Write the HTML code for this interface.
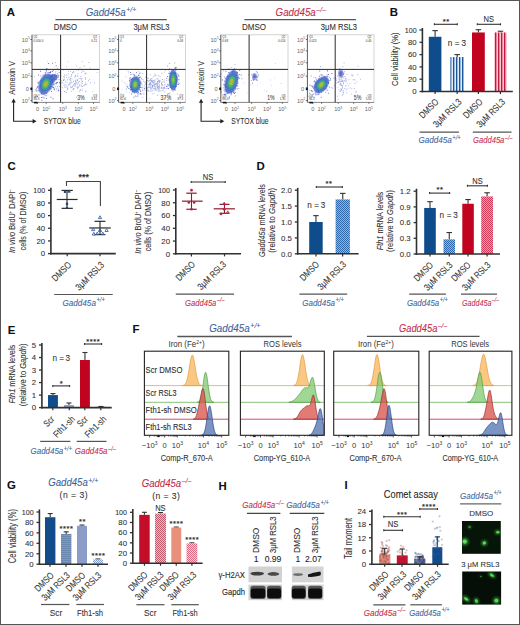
<!DOCTYPE html><html><head><meta charset="utf-8"><style>html,body{margin:0;padding:0;background:#fff;}svg{display:block;}text{font-family:"Liberation Sans", sans-serif;stroke-width:0.08px;}</style></head><body>
<svg width="520" height="625" viewBox="0 0 520 625" font-family="'Liberation Sans', sans-serif">

<defs>
 <pattern id="pStripeB" width="3" height="4" patternUnits="userSpaceOnUse">
  <rect width="3" height="4" fill="#9fc2e8"/>
  <rect x="0" width="1.1" height="4" fill="#1d5596"/>
  <rect x="2.3" width="0.7" height="4" fill="#ffffff"/>
 </pattern>
 <pattern id="pStripeR" width="3" height="4" patternUnits="userSpaceOnUse">
  <rect width="3" height="4" fill="#f27f98"/>
  <rect x="0" width="1.0" height="4" fill="#b3203f"/>
  <rect x="2.3" width="0.7" height="4" fill="#ffe8ee"/>
 </pattern>
 <pattern id="pCheckB" width="2" height="2" patternUnits="userSpaceOnUse">
  <rect width="2" height="2" fill="#94b4da"/>
  <rect width="1" height="1" fill="#2e68a8"/>
  <rect x="1" y="1" width="1" height="1" fill="#2e68a8"/>
 </pattern>
 <pattern id="pCheckR" width="2" height="2" patternUnits="userSpaceOnUse">
  <rect width="2" height="2" fill="#f0a0b0"/>
  <rect width="1" height="1" fill="#d23a5a"/>
  <rect x="1" y="1" width="1" height="1" fill="#d23a5a"/>
 </pattern>
 <pattern id="pHStripe" width="4" height="2" patternUnits="userSpaceOnUse">
  <rect width="4" height="2" fill="#6b89b1"/>
  <rect y="1.4" width="4" height="0.6" fill="#8aa2c4"/>
 </pattern>
 <pattern id="pCheckLB" width="2" height="2" patternUnits="userSpaceOnUse">
  <rect width="2" height="2" fill="#e4ecf6"/>
  <rect width="1" height="1" fill="#7d9cc8"/>
  <rect x="1" y="1" width="1" height="1" fill="#7d9cc8"/>
 </pattern>
 <pattern id="pCheckRose" width="2" height="2" patternUnits="userSpaceOnUse">
  <rect width="2" height="2" fill="#eebcc4"/>
  <rect width="1" height="1" fill="#c25a6e"/>
  <rect x="1" y="1" width="1" height="1" fill="#c25a6e"/>
 </pattern>
 <pattern id="pCheckPink" width="2" height="2" patternUnits="userSpaceOnUse">
  <rect width="2" height="2" fill="#f8d0d8"/>
  <rect width="1" height="1" fill="#e06a84"/>
  <rect x="1" y="1" width="1" height="1" fill="#e06a84"/>
 </pattern>
 <clipPath id="cimg"><rect x="462" y="521" width="38.8" height="32.8"/><rect x="462.2" y="571.5" width="38.9" height="33.1"/></clipPath>
 <filter id="blur1" x="-50%" y="-50%" width="200%" height="200%"><feGaussianBlur stdDeviation="1.2"/></filter>
 <filter id="blur06" x="-50%" y="-50%" width="200%" height="200%"><feGaussianBlur stdDeviation="0.6"/></filter>
 <filter id="blur2" x="-50%" y="-50%" width="200%" height="200%"><feGaussianBlur stdDeviation="2"/></filter>
</defs>

<rect x="0" y="0" width="520" height="625" fill="#fff"/>
<text x="6.8" y="16.4" font-size="11.4" text-anchor="start" fill="#111" stroke="#111" font-weight="bold" font-style="normal">A</text>
<text x="85.8" y="15.5" font-size="10.4" fill="#3a629a" stroke="#3a629a" font-style="italic" text-anchor="start" textLength="50.5" lengthAdjust="spacingAndGlyphs">Gadd45a<tspan font-size="7.49" dy="-3.74" dx="0.6">+/+</tspan></text>
<line x1="55.4" y1="19.6" x2="166.8" y2="19.6" stroke="#555" stroke-width="1.4"/>
<text x="53.8" y="29.9" font-size="9" text-anchor="start" fill="#303030" stroke="#303030" font-weight="normal" font-style="normal" textLength="23.2" lengthAdjust="spacingAndGlyphs">DMSO</text>
<text x="133.4" y="29.9" font-size="9" text-anchor="start" fill="#303030" stroke="#303030" font-weight="normal" font-style="normal" textLength="36" lengthAdjust="spacingAndGlyphs">3μM RSL3</text>
<text x="275.6" y="15.5" font-size="10.4" fill="#c42a48" stroke="#c42a48" font-style="italic" text-anchor="start" textLength="50.5" lengthAdjust="spacingAndGlyphs">Gadd45a<tspan font-size="7.49" dy="-3.74" dx="0.6">–/–</tspan></text>
<line x1="244.4" y1="19.6" x2="356" y2="19.6" stroke="#555" stroke-width="1.4"/>
<text x="242" y="29.9" font-size="9" text-anchor="start" fill="#303030" stroke="#303030" font-weight="normal" font-style="normal" textLength="24" lengthAdjust="spacingAndGlyphs">DMSO</text>
<text x="320.8" y="29.9" font-size="9" text-anchor="start" fill="#303030" stroke="#303030" font-weight="normal" font-style="normal" textLength="36.2" lengthAdjust="spacingAndGlyphs">3μM RSL3</text>
<rect x="32" y="34.8" width="67.6" height="67.6" fill="none" stroke="#c8c8c8" stroke-width="0.8"/>
<line x1="32" y1="34.8" x2="32" y2="102.4" stroke="#555" stroke-width="0.9"/>
<line x1="32" y1="102.4" x2="99.6" y2="102.4" stroke="#777" stroke-width="0.8"/>
<line x1="30.4" y1="39.5" x2="32" y2="39.5" stroke="#444" stroke-width="0.8"/>
<text x="29.8" y="41.5" font-size="5.6" fill="#666" text-anchor="end">10<tspan font-size="3.4" dy="-2.2">5</tspan></text>
<line x1="30.4" y1="50.9" x2="32" y2="50.9" stroke="#444" stroke-width="0.8"/>
<text x="29.8" y="52.9" font-size="5.6" fill="#666" text-anchor="end">10<tspan font-size="3.4" dy="-2.2">4</tspan></text>
<line x1="30.4" y1="62.8" x2="32" y2="62.8" stroke="#444" stroke-width="0.8"/>
<text x="29.8" y="64.8" font-size="5.6" fill="#666" text-anchor="end">10<tspan font-size="3.4" dy="-2.2">3</tspan></text>
<line x1="30.4" y1="76.2" x2="32" y2="76.2" stroke="#444" stroke-width="0.8"/>
<text x="29.8" y="78.2" font-size="5.6" fill="#666" text-anchor="end">10<tspan font-size="3.4" dy="-2.2">2</tspan></text>
<line x1="30.4" y1="88.8" x2="32" y2="88.8" stroke="#444" stroke-width="0.8"/>
<text x="28.8" y="90.8" font-size="5.6" fill="#666" text-anchor="end">0</text>
<line x1="30.4" y1="100.6" x2="32" y2="100.6" stroke="#444" stroke-width="0.8"/>
<text x="29.8" y="102.6" font-size="5.6" fill="#666" text-anchor="end">10<tspan font-size="3.4" dy="-2.2">2</tspan></text>
<rect x="30.5" y="87.5" width="1.8" height="2.6" fill="#111"/>
<line x1="37.5" y1="102.4" x2="37.5" y2="103.8" stroke="#444" stroke-width="0.8"/>
<text x="37.5" y="111.2" font-size="5.6" fill="#666" text-anchor="middle">0</text>
<line x1="46.2" y1="102.4" x2="46.2" y2="103.8" stroke="#444" stroke-width="0.8"/>
<text x="46.2" y="111.2" font-size="5.6" fill="#666" text-anchor="middle">10<tspan font-size="3.4" dy="-2.2">2</tspan></text>
<line x1="62.8" y1="102.4" x2="62.8" y2="103.8" stroke="#444" stroke-width="0.8"/>
<text x="62.8" y="111.2" font-size="5.6" fill="#666" text-anchor="middle">10<tspan font-size="3.4" dy="-2.2">3</tspan></text>
<line x1="78.3" y1="102.4" x2="78.3" y2="103.8" stroke="#444" stroke-width="0.8"/>
<text x="78.3" y="111.2" font-size="5.6" fill="#666" text-anchor="middle">10<tspan font-size="3.4" dy="-2.2">4</tspan></text>
<line x1="93.5" y1="102.4" x2="93.5" y2="103.8" stroke="#444" stroke-width="0.8"/>
<text x="93.5" y="111.2" font-size="5.6" fill="#666" text-anchor="middle">10<tspan font-size="3.4" dy="-2.2">5</tspan></text>
<rect x="34" y="101.8" width="3.5" height="1.6" fill="#111"/>
<g font-size="3.0" fill="#333">
<text x="33.5" y="38.4">Q1</text><text x="33.5" y="41.6">0.050 0</text>
<text x="97.1" y="38.4" text-anchor="end">Q2</text><text x="97.1" y="41.6" text-anchor="end">0.21</text>
<text x="33.5" y="97.2">Q4</text><text x="33.5" y="100.4">96.3</text>
<text x="97.1" y="97.2" text-anchor="end">Q3</text><text x="97.1" y="100.4" text-anchor="end">3.41</text>
</g>
<rect x="118.6" y="34.8" width="67" height="67.6" fill="none" stroke="#c8c8c8" stroke-width="0.8"/>
<line x1="118.6" y1="34.8" x2="118.6" y2="102.4" stroke="#555" stroke-width="0.9"/>
<line x1="118.6" y1="102.4" x2="185.6" y2="102.4" stroke="#777" stroke-width="0.8"/>
<line x1="117" y1="39.5" x2="118.6" y2="39.5" stroke="#444" stroke-width="0.8"/>
<text x="116.4" y="41.5" font-size="5.6" fill="#666" text-anchor="end">10<tspan font-size="3.4" dy="-2.2">5</tspan></text>
<line x1="117" y1="50.9" x2="118.6" y2="50.9" stroke="#444" stroke-width="0.8"/>
<text x="116.4" y="52.9" font-size="5.6" fill="#666" text-anchor="end">10<tspan font-size="3.4" dy="-2.2">4</tspan></text>
<line x1="117" y1="62.8" x2="118.6" y2="62.8" stroke="#444" stroke-width="0.8"/>
<text x="116.4" y="64.8" font-size="5.6" fill="#666" text-anchor="end">10<tspan font-size="3.4" dy="-2.2">3</tspan></text>
<line x1="117" y1="76.2" x2="118.6" y2="76.2" stroke="#444" stroke-width="0.8"/>
<text x="116.4" y="78.2" font-size="5.6" fill="#666" text-anchor="end">10<tspan font-size="3.4" dy="-2.2">2</tspan></text>
<line x1="117" y1="88.8" x2="118.6" y2="88.8" stroke="#444" stroke-width="0.8"/>
<text x="115.4" y="90.8" font-size="5.6" fill="#666" text-anchor="end">0</text>
<line x1="117" y1="100.6" x2="118.6" y2="100.6" stroke="#444" stroke-width="0.8"/>
<text x="116.4" y="102.6" font-size="5.6" fill="#666" text-anchor="end">10<tspan font-size="3.4" dy="-2.2">2</tspan></text>
<rect x="117.1" y="87.5" width="1.8" height="2.6" fill="#111"/>
<line x1="124.1" y1="102.4" x2="124.1" y2="103.8" stroke="#444" stroke-width="0.8"/>
<text x="124.1" y="111.2" font-size="5.6" fill="#666" text-anchor="middle">0</text>
<line x1="132.8" y1="102.4" x2="132.8" y2="103.8" stroke="#444" stroke-width="0.8"/>
<text x="132.8" y="111.2" font-size="5.6" fill="#666" text-anchor="middle">10<tspan font-size="3.4" dy="-2.2">2</tspan></text>
<line x1="149.4" y1="102.4" x2="149.4" y2="103.8" stroke="#444" stroke-width="0.8"/>
<text x="149.4" y="111.2" font-size="5.6" fill="#666" text-anchor="middle">10<tspan font-size="3.4" dy="-2.2">3</tspan></text>
<line x1="164.9" y1="102.4" x2="164.9" y2="103.8" stroke="#444" stroke-width="0.8"/>
<text x="164.9" y="111.2" font-size="5.6" fill="#666" text-anchor="middle">10<tspan font-size="3.4" dy="-2.2">4</tspan></text>
<line x1="180.1" y1="102.4" x2="180.1" y2="103.8" stroke="#444" stroke-width="0.8"/>
<text x="180.1" y="111.2" font-size="5.6" fill="#666" text-anchor="middle">10<tspan font-size="3.4" dy="-2.2">5</tspan></text>
<rect x="120.6" y="101.8" width="3.5" height="1.6" fill="#111"/>
<g font-size="3.0" fill="#333">
<text x="120.1" y="38.4">Q1</text><text x="120.1" y="41.6">0</text>
<text x="183.1" y="38.4" text-anchor="end">Q2</text><text x="183.1" y="41.6" text-anchor="end">0.08</text>
<text x="120.1" y="97.2">Q4</text><text x="120.1" y="100.4">62.6</text>
<text x="183.1" y="97.2" text-anchor="end">Q3</text><text x="183.1" y="100.4" text-anchor="end">37.3</text>
</g>
<rect x="220.8" y="34.8" width="67.2" height="67.6" fill="none" stroke="#c8c8c8" stroke-width="0.8"/>
<line x1="220.8" y1="34.8" x2="220.8" y2="102.4" stroke="#555" stroke-width="0.9"/>
<line x1="220.8" y1="102.4" x2="288" y2="102.4" stroke="#777" stroke-width="0.8"/>
<line x1="219.2" y1="39.5" x2="220.8" y2="39.5" stroke="#444" stroke-width="0.8"/>
<text x="218.6" y="41.5" font-size="5.6" fill="#666" text-anchor="end">10<tspan font-size="3.4" dy="-2.2">5</tspan></text>
<line x1="219.2" y1="50.9" x2="220.8" y2="50.9" stroke="#444" stroke-width="0.8"/>
<text x="218.6" y="52.9" font-size="5.6" fill="#666" text-anchor="end">10<tspan font-size="3.4" dy="-2.2">4</tspan></text>
<line x1="219.2" y1="62.8" x2="220.8" y2="62.8" stroke="#444" stroke-width="0.8"/>
<text x="218.6" y="64.8" font-size="5.6" fill="#666" text-anchor="end">10<tspan font-size="3.4" dy="-2.2">3</tspan></text>
<line x1="219.2" y1="76.2" x2="220.8" y2="76.2" stroke="#444" stroke-width="0.8"/>
<text x="218.6" y="78.2" font-size="5.6" fill="#666" text-anchor="end">10<tspan font-size="3.4" dy="-2.2">2</tspan></text>
<line x1="219.2" y1="88.8" x2="220.8" y2="88.8" stroke="#444" stroke-width="0.8"/>
<text x="217.6" y="90.8" font-size="5.6" fill="#666" text-anchor="end">0</text>
<line x1="219.2" y1="100.6" x2="220.8" y2="100.6" stroke="#444" stroke-width="0.8"/>
<text x="218.6" y="102.6" font-size="5.6" fill="#666" text-anchor="end">10<tspan font-size="3.4" dy="-2.2">2</tspan></text>
<rect x="219.3" y="87.5" width="1.8" height="2.6" fill="#111"/>
<line x1="226.3" y1="102.4" x2="226.3" y2="103.8" stroke="#444" stroke-width="0.8"/>
<text x="226.3" y="111.2" font-size="5.6" fill="#666" text-anchor="middle">0</text>
<line x1="235" y1="102.4" x2="235" y2="103.8" stroke="#444" stroke-width="0.8"/>
<text x="235" y="111.2" font-size="5.6" fill="#666" text-anchor="middle">10<tspan font-size="3.4" dy="-2.2">2</tspan></text>
<line x1="251.6" y1="102.4" x2="251.6" y2="103.8" stroke="#444" stroke-width="0.8"/>
<text x="251.6" y="111.2" font-size="5.6" fill="#666" text-anchor="middle">10<tspan font-size="3.4" dy="-2.2">3</tspan></text>
<line x1="267.1" y1="102.4" x2="267.1" y2="103.8" stroke="#444" stroke-width="0.8"/>
<text x="267.1" y="111.2" font-size="5.6" fill="#666" text-anchor="middle">10<tspan font-size="3.4" dy="-2.2">4</tspan></text>
<line x1="282.3" y1="102.4" x2="282.3" y2="103.8" stroke="#444" stroke-width="0.8"/>
<text x="282.3" y="111.2" font-size="5.6" fill="#666" text-anchor="middle">10<tspan font-size="3.4" dy="-2.2">5</tspan></text>
<rect x="222.8" y="101.8" width="3.5" height="1.6" fill="#111"/>
<g font-size="3.0" fill="#333">
<text x="222.3" y="38.4">Q1</text><text x="222.3" y="41.6">0.68</text>
<text x="285.5" y="38.4" text-anchor="end">Q2</text><text x="285.5" y="41.6" text-anchor="end">0.014</text>
<text x="222.3" y="97.2">Q4</text><text x="222.3" y="100.4">98.0</text>
<text x="285.5" y="97.2" text-anchor="end">Q3</text><text x="285.5" y="100.4" text-anchor="end">1.35</text>
</g>
<rect x="307.4" y="34.8" width="66.6" height="67.6" fill="none" stroke="#c8c8c8" stroke-width="0.8"/>
<line x1="307.4" y1="34.8" x2="307.4" y2="102.4" stroke="#555" stroke-width="0.9"/>
<line x1="307.4" y1="102.4" x2="374" y2="102.4" stroke="#777" stroke-width="0.8"/>
<line x1="305.8" y1="39.5" x2="307.4" y2="39.5" stroke="#444" stroke-width="0.8"/>
<text x="305.2" y="41.5" font-size="5.6" fill="#666" text-anchor="end">10<tspan font-size="3.4" dy="-2.2">5</tspan></text>
<line x1="305.8" y1="50.9" x2="307.4" y2="50.9" stroke="#444" stroke-width="0.8"/>
<text x="305.2" y="52.9" font-size="5.6" fill="#666" text-anchor="end">10<tspan font-size="3.4" dy="-2.2">4</tspan></text>
<line x1="305.8" y1="62.8" x2="307.4" y2="62.8" stroke="#444" stroke-width="0.8"/>
<text x="305.2" y="64.8" font-size="5.6" fill="#666" text-anchor="end">10<tspan font-size="3.4" dy="-2.2">3</tspan></text>
<line x1="305.8" y1="76.2" x2="307.4" y2="76.2" stroke="#444" stroke-width="0.8"/>
<text x="305.2" y="78.2" font-size="5.6" fill="#666" text-anchor="end">10<tspan font-size="3.4" dy="-2.2">2</tspan></text>
<line x1="305.8" y1="88.8" x2="307.4" y2="88.8" stroke="#444" stroke-width="0.8"/>
<text x="304.2" y="90.8" font-size="5.6" fill="#666" text-anchor="end">0</text>
<line x1="305.8" y1="100.6" x2="307.4" y2="100.6" stroke="#444" stroke-width="0.8"/>
<text x="305.2" y="102.6" font-size="5.6" fill="#666" text-anchor="end">10<tspan font-size="3.4" dy="-2.2">2</tspan></text>
<rect x="305.9" y="87.5" width="1.8" height="2.6" fill="#111"/>
<line x1="312.9" y1="102.4" x2="312.9" y2="103.8" stroke="#444" stroke-width="0.8"/>
<text x="312.9" y="111.2" font-size="5.6" fill="#666" text-anchor="middle">0</text>
<line x1="321.6" y1="102.4" x2="321.6" y2="103.8" stroke="#444" stroke-width="0.8"/>
<text x="321.6" y="111.2" font-size="5.6" fill="#666" text-anchor="middle">10<tspan font-size="3.4" dy="-2.2">2</tspan></text>
<line x1="338.2" y1="102.4" x2="338.2" y2="103.8" stroke="#444" stroke-width="0.8"/>
<text x="338.2" y="111.2" font-size="5.6" fill="#666" text-anchor="middle">10<tspan font-size="3.4" dy="-2.2">3</tspan></text>
<line x1="353.7" y1="102.4" x2="353.7" y2="103.8" stroke="#444" stroke-width="0.8"/>
<text x="353.7" y="111.2" font-size="5.6" fill="#666" text-anchor="middle">10<tspan font-size="3.4" dy="-2.2">4</tspan></text>
<line x1="368.9" y1="102.4" x2="368.9" y2="103.8" stroke="#444" stroke-width="0.8"/>
<text x="368.9" y="111.2" font-size="5.6" fill="#666" text-anchor="middle">10<tspan font-size="3.4" dy="-2.2">5</tspan></text>
<rect x="309.4" y="101.8" width="3.5" height="1.6" fill="#111"/>
<g font-size="3.0" fill="#333">
<text x="308.9" y="38.4">Q1</text><text x="308.9" y="41.6">0.023</text>
<text x="371.5" y="38.4" text-anchor="end">Q2</text><text x="371.5" y="41.6" text-anchor="end">0.40</text>
<text x="308.9" y="97.2">Q4</text><text x="308.9" y="100.4">94.5</text>
<text x="371.5" y="97.2" text-anchor="end">Q3</text><text x="371.5" y="100.4" text-anchor="end">5.02</text>
</g>
<path d="M69.7 83.58h0.9v0.9h-0.9zM69.97 77.79h0.9v0.9h-0.9zM63.63 78.51h0.9v0.9h-0.9zM82.01 82.97h0.9v0.9h-0.9zM81.33 81.74h0.9v0.9h-0.9zM75.55 81.3h0.9v0.9h-0.9zM57.01 85.99h0.9v0.9h-0.9zM76.56 83.49h0.9v0.9h-0.9zM56.78 67.79h0.9v0.9h-0.9zM63.99 76.72h0.9v0.9h-0.9zM74.75 79.68h0.9v0.9h-0.9zM76.69 75.5h0.9v0.9h-0.9zM74.78 82.76h0.9v0.9h-0.9zM66.05 92.02h0.9v0.9h-0.9zM77.01 88.38h0.9v0.9h-0.9zM66.42 74.82h0.9v0.9h-0.9zM68.9 79.26h0.9v0.9h-0.9zM77.69 81.74h0.9v0.9h-0.9zM67.97 73.3h0.9v0.9h-0.9zM67.31 88.55h0.9v0.9h-0.9zM64.73 81.71h0.9v0.9h-0.9zM75.84 69.57h0.9v0.9h-0.9zM72.44 89.14h0.9v0.9h-0.9zM53.87 77.75h0.9v0.9h-0.9zM71.04 74.28h0.9v0.9h-0.9zM76.48 79.56h0.9v0.9h-0.9zM58.82 85.79h0.9v0.9h-0.9zM78.02 86.62h0.9v0.9h-0.9zM84.97 82.54h0.9v0.9h-0.9zM73.07 70.91h0.9v0.9h-0.9zM77.54 75.72h0.9v0.9h-0.9zM67.93 71.15h0.9v0.9h-0.9zM63.29 76.28h0.9v0.9h-0.9zM83.6 65.78h0.9v0.9h-0.9zM58.88 81.68h0.9v0.9h-0.9zM84.99 84.05h0.9v0.9h-0.9zM54.9 62.37h0.9v0.9h-0.9zM75.22 74.85h0.9v0.9h-0.9zM61.92 86.84h0.9v0.9h-0.9zM81.92 81.1h0.9v0.9h-0.9zM74.21 83.04h0.9v0.9h-0.9zM86.35 84.33h0.9v0.9h-0.9zM76.67 83.83h0.9v0.9h-0.9zM57.89 88.97h0.9v0.9h-0.9zM80.6 83.71h0.9v0.9h-0.9zM54.24 75.56h0.9v0.9h-0.9zM79.58 67.32h0.9v0.9h-0.9zM70.34 87.14h0.9v0.9h-0.9zM60.2 91.27h0.9v0.9h-0.9zM76.97 78.95h0.9v0.9h-0.9zM74.92 84.55h0.9v0.9h-0.9zM73.08 88.02h0.9v0.9h-0.9zM66.05 77.1h0.9v0.9h-0.9zM81.38 80.19h0.9v0.9h-0.9zM64.08 86.63h0.9v0.9h-0.9zM85.19 76.89h0.9v0.9h-0.9zM59.58 79.06h0.9v0.9h-0.9zM70.66 77.91h0.9v0.9h-0.9zM84.64 72.81h0.9v0.9h-0.9zM83.35 71.12h0.9v0.9h-0.9zM64.92 84.42h0.9v0.9h-0.9zM82.16 86.01h0.9v0.9h-0.9zM75.11 81h0.9v0.9h-0.9zM73.37 84.03h0.9v0.9h-0.9zM70.41 81.94h0.9v0.9h-0.9zM77.15 80.01h0.9v0.9h-0.9zM78.88 83.96h0.9v0.9h-0.9zM90.1 82.27h0.9v0.9h-0.9zM68.15 77.39h0.9v0.9h-0.9zM71.88 86.47h0.9v0.9h-0.9zM68.97 82.7h0.9v0.9h-0.9zM88.54 62.05h0.9v0.9h-0.9zM61.88 81.71h0.9v0.9h-0.9zM75.59 81.67h0.9v0.9h-0.9zM68.12 84.59h0.9v0.9h-0.9zM74.54 76.35h0.9v0.9h-0.9zM93.87 82.49h0.9v0.9h-0.9zM67.01 79.3h0.9v0.9h-0.9zM69.97 79.56h0.9v0.9h-0.9zM47.45 76.59h0.9v0.9h-0.9zM81.08 71.82h0.9v0.9h-0.9zM71.4 86.67h0.9v0.9h-0.9zM79.71 90.44h0.9v0.9h-0.9zM56.69 77.53h0.9v0.9h-0.9zM68.93 84.36h0.9v0.9h-0.9zM81.83 61.22h0.9v0.9h-0.9zM81.8 69.87h0.9v0.9h-0.9zM78.15 69.56h0.9v0.9h-0.9zM73.58 88.36h0.9v0.9h-0.9zM70.66 81.34h0.9v0.9h-0.9zM79.17 80.99h0.9v0.9h-0.9zM71.2 90.73h0.9v0.9h-0.9zM81.44 77.94h0.9v0.9h-0.9zM96.71 71.97h0.9v0.9h-0.9zM80.23 78.14h0.9v0.9h-0.9zM73.19 84.94h0.9v0.9h-0.9zM74 84.47h0.9v0.9h-0.9zM58.25 69.43h0.9v0.9h-0.9zM77.53 73.26h0.9v0.9h-0.9zM62.76 69.71h0.9v0.9h-0.9zM83.4 85.23h0.9v0.9h-0.9zM85.26 73.44h0.9v0.9h-0.9zM72.01 72.02h0.9v0.9h-0.9zM78.89 91.13h0.9v0.9h-0.9zM63.99 90.92h0.9v0.9h-0.9zM80.89 78.76h0.9v0.9h-0.9zM54.25 89.85h0.9v0.9h-0.9zM71.13 75.78h0.9v0.9h-0.9zM75.6 82.87h0.9v0.9h-0.9zM85.48 72.86h0.9v0.9h-0.9zM82.23 90.41h0.9v0.9h-0.9zM85.07 78.74h0.9v0.9h-0.9zM65.3 87.13h0.9v0.9h-0.9zM73.04 80.87h0.9v0.9h-0.9zM84.82 78.16h0.9v0.9h-0.9zM51.33 77.29h0.9v0.9h-0.9zM55.31 85.73h0.9v0.9h-0.9zM74.85 75.72h0.9v0.9h-0.9zM71.91 85.83h0.9v0.9h-0.9zM72.71 89.29h0.9v0.9h-0.9zM71.45 87.28h0.9v0.9h-0.9zM85.42 91.27h0.9v0.9h-0.9zM65.95 86.16h0.9v0.9h-0.9zM55.12 72.42h0.9v0.9h-0.9zM54.33 87.48h0.9v0.9h-0.9zM60.91 79.91h0.9v0.9h-0.9zM70.27 79.8h0.9v0.9h-0.9zM66.68 81.64h0.9v0.9h-0.9zM88.12 80.31h0.9v0.9h-0.9zM76.78 87h0.9v0.9h-0.9zM70.22 71.18h0.9v0.9h-0.9zM67 87.52h0.9v0.9h-0.9zM57.18 75.82h0.9v0.9h-0.9zM81.07 85.55h0.9v0.9h-0.9zM72.07 85.64h0.9v0.9h-0.9zM73.49 71.75h0.9v0.9h-0.9zM57.92 75.53h0.9v0.9h-0.9zM80.3 76.04h0.9v0.9h-0.9zM63.88 74.6h0.9v0.9h-0.9zM58.21 79.18h0.9v0.9h-0.9zM61.38 82.55h0.9v0.9h-0.9zM50.76 82.29h0.9v0.9h-0.9zM66.23 66.4h0.9v0.9h-0.9zM78.52 78.07h0.9v0.9h-0.9zM51.93 73.87h0.9v0.9h-0.9zM74.62 76.79h0.9v0.9h-0.9zM79.02 85.23h0.9v0.9h-0.9zM78 82.29h0.9v0.9h-0.9zM84 84.62h0.9v0.9h-0.9zM76.06 65.41h0.9v0.9h-0.9zM80.07 89.17h0.9v0.9h-0.9zM69.33 76.71h0.9v0.9h-0.9zM89.46 67.69h0.9v0.9h-0.9zM76.22 96.97h0.9v0.9h-0.9zM63.65 84.83h0.9v0.9h-0.9zM88.98 79.16h0.9v0.9h-0.9zM77.05 86.32h0.9v0.9h-0.9zM63.85 79.38h0.9v0.9h-0.9zM74.64 85.78h0.9v0.9h-0.9zM71.69 78.63h0.9v0.9h-0.9z" fill="#5565c0" opacity="0.55"/>
<path d="M47.81 79.13h0.9v0.9h-0.9zM70.7 82.81h0.9v0.9h-0.9zM49.76 75.27h0.9v0.9h-0.9zM92 91.12h0.9v0.9h-0.9zM67.65 61.26h0.9v0.9h-0.9zM67.46 85.85h0.9v0.9h-0.9zM80.21 85.42h0.9v0.9h-0.9zM59.19 86.18h0.9v0.9h-0.9zM36.67 90.27h0.9v0.9h-0.9zM63.9 76.38h0.9v0.9h-0.9zM75.91 96.47h0.9v0.9h-0.9zM43.17 76.67h0.9v0.9h-0.9zM63.5 83.47h0.9v0.9h-0.9zM55.22 74.21h0.9v0.9h-0.9zM85.45 90.3h0.9v0.9h-0.9zM45.67 71.24h0.9v0.9h-0.9zM80.44 89.91h0.9v0.9h-0.9zM81.85 88.48h0.9v0.9h-0.9zM49.54 84.09h0.9v0.9h-0.9zM34.08 76.02h0.9v0.9h-0.9zM59.29 86.18h0.9v0.9h-0.9zM51.27 81.01h0.9v0.9h-0.9zM65.5 85.01h0.9v0.9h-0.9zM67.66 83.67h0.9v0.9h-0.9zM56.11 88.31h0.9v0.9h-0.9zM60.59 75.39h0.9v0.9h-0.9zM52.49 82h0.9v0.9h-0.9zM58.68 83.26h0.9v0.9h-0.9zM59.99 83.41h0.9v0.9h-0.9zM58.39 71.93h0.9v0.9h-0.9zM65.06 90.43h0.9v0.9h-0.9zM65.22 80.49h0.9v0.9h-0.9zM65.36 74.27h0.9v0.9h-0.9zM37.25 82.48h0.9v0.9h-0.9zM48.83 87.92h0.9v0.9h-0.9zM46.99 60.97h0.9v0.9h-0.9zM47.53 94.62h0.9v0.9h-0.9zM55.42 71.04h0.9v0.9h-0.9zM50.84 86.17h0.9v0.9h-0.9zM65.96 83.41h0.9v0.9h-0.9zM77.81 87.65h0.9v0.9h-0.9zM59.75 86.77h0.9v0.9h-0.9zM79.86 89.77h0.9v0.9h-0.9zM72.29 73.34h0.9v0.9h-0.9zM58.22 87.84h0.9v0.9h-0.9zM56.44 90.55h0.9v0.9h-0.9zM67.16 89.27h0.9v0.9h-0.9zM74.88 80.28h0.9v0.9h-0.9zM55.88 88.99h0.9v0.9h-0.9zM71.77 82.05h0.9v0.9h-0.9zM45.99 83.5h0.9v0.9h-0.9zM64.31 91.04h0.9v0.9h-0.9zM69.39 82.19h0.9v0.9h-0.9zM70.24 86.32h0.9v0.9h-0.9zM62.47 82.44h0.9v0.9h-0.9zM57.08 87.49h0.9v0.9h-0.9zM47.35 76.97h0.9v0.9h-0.9zM60.06 70.29h0.9v0.9h-0.9z" fill="#8090d0" opacity="0.45"/>
<path d="M46.38 67.94h1v1h-1zM44.9 85.98h1v1h-1zM52.4 81.62h1v1h-1zM47.61 72.08h1v1h-1zM59.97 85.61h1v1h-1zM55.56 75.82h1v1h-1zM47.89 69.26h1v1h-1zM53.68 88.55h1v1h-1zM37.62 81.64h1v1h-1zM52.78 69.67h1v1h-1zM38.05 74.54h1v1h-1zM45.22 72.18h1v1h-1zM49.19 83.75h1v1h-1zM52.8 86.91h1v1h-1zM58.02 90.15h1v1h-1zM41.13 78.46h1v1h-1zM42.64 74.46h1v1h-1zM48.51 82.04h1v1h-1zM51.94 70.89h1v1h-1zM41.57 81.84h1v1h-1zM47.8 79.82h1v1h-1zM48.62 76.68h1v1h-1zM53.21 84.48h1v1h-1zM48.47 77.3h1v1h-1zM47.95 62.95h1v1h-1zM43.11 82.26h1v1h-1zM39.98 83.4h1v1h-1zM49.88 72.36h1v1h-1zM47.5 79.8h1v1h-1zM51.76 86.28h1v1h-1zM48.78 76.04h1v1h-1zM48.13 81.54h1v1h-1zM53.41 84.06h1v1h-1zM44.66 72.52h1v1h-1zM46.76 76.82h1v1h-1zM42.33 81.19h1v1h-1zM46.05 82.74h1v1h-1zM52.14 79.11h1v1h-1zM62.95 79.75h1v1h-1zM55.61 82.85h1v1h-1zM55.7 65.37h1v1h-1zM44.49 83.73h1v1h-1zM52.61 98.36h1v1h-1zM50.94 90.96h1v1h-1zM53.6 88.63h1v1h-1zM52.06 80.91h1v1h-1zM52.05 74.45h1v1h-1zM56.09 74.88h1v1h-1zM50.5 96.85h1v1h-1zM47.66 82.14h1v1h-1zM55.98 82.18h1v1h-1zM44.15 83.81h1v1h-1zM52.49 86.97h1v1h-1zM44.36 94.27h1v1h-1zM59 82.13h1v1h-1zM50.61 79h1v1h-1zM57.48 77.07h1v1h-1zM53.04 78.64h1v1h-1zM44.84 87.03h1v1h-1zM57 81.93h1v1h-1zM44.94 87.68h1v1h-1zM48.7 84.17h1v1h-1zM58.14 89.92h1v1h-1zM45.88 97.99h1v1h-1zM49.02 87.5h1v1h-1zM45.12 81.69h1v1h-1zM38.5 94.51h1v1h-1zM57.19 73.49h1v1h-1zM39.97 70.65h1v1h-1zM56.05 78.78h1v1h-1zM48.64 79.81h1v1h-1zM48.27 74.38h1v1h-1zM49.14 71.93h1v1h-1zM48.57 84.16h1v1h-1zM51.81 80.38h1v1h-1zM43.58 83.12h1v1h-1zM46.09 92.96h1v1h-1zM53.61 81.19h1v1h-1zM46.17 77.08h1v1h-1zM43.38 79.53h1v1h-1z" fill="#4050c0" opacity="0.8"/>
<g transform="translate(52.5 78.5) rotate(-35)" filter="url(#blur06)">
<ellipse cx="0" cy="0" rx="5.5" ry="3.5" fill="#4a5cc8" opacity="0.85"/>
<ellipse cx="0" cy="0" rx="3.3" ry="2.1" fill="#3f86c8" opacity="0.7"/>
</g>
<path d="M45.16 86.96h1v1h-1zM42.42 96.65h1v1h-1zM42.68 82.53h1v1h-1zM59.98 76.7h1v1h-1zM42.98 83.72h1v1h-1zM44.9 86.12h1v1h-1zM43.56 85.29h1v1h-1zM43.67 88.1h1v1h-1zM40.45 75.5h1v1h-1zM47.74 77.45h1v1h-1zM39.98 85.63h1v1h-1zM41.41 86.26h1v1h-1zM47.31 86.4h1v1h-1zM47.41 83.64h1v1h-1zM40.2 81.23h1v1h-1zM48.22 81.07h1v1h-1zM43.16 87.75h1v1h-1zM40.56 85.95h1v1h-1zM53.45 83.01h1v1h-1zM46.19 82.84h1v1h-1zM50.21 87.64h1v1h-1zM50.23 80.78h1v1h-1zM45.26 83.42h1v1h-1zM35.37 89.32h1v1h-1zM52.75 74.58h1v1h-1zM48.34 83.84h1v1h-1zM46.08 86.31h1v1h-1zM40.3 80.03h1v1h-1zM52.14 82.34h1v1h-1zM44.77 74.01h1v1h-1zM40.02 83.66h1v1h-1zM50.5 88.53h1v1h-1zM40.91 96.96h1v1h-1zM44.99 78.78h1v1h-1zM45.94 87.5h1v1h-1zM44.35 75.13h1v1h-1zM45.78 85.38h1v1h-1zM40.98 80.38h1v1h-1zM42.22 85.39h1v1h-1zM45.08 82.82h1v1h-1zM41.51 89.15h1v1h-1zM51.28 83.41h1v1h-1zM50.2 80.31h1v1h-1zM43.79 88h1v1h-1zM51.77 83.5h1v1h-1zM44.56 84.54h1v1h-1zM39.76 81.37h1v1h-1zM41.94 84.68h1v1h-1zM45.84 70.23h1v1h-1zM44.82 85.09h1v1h-1zM41.18 87.9h1v1h-1zM45.73 79.54h1v1h-1zM50.77 75.01h1v1h-1zM42.86 82.37h1v1h-1zM48.8 83.81h1v1h-1zM47.99 80.11h1v1h-1zM42.47 93.7h1v1h-1zM37.17 96.36h1v1h-1zM42.9 82.65h1v1h-1zM43.51 89.76h1v1h-1zM45.74 69.35h1v1h-1zM45.64 89.06h1v1h-1zM41.36 99.85h1v1h-1zM45.45 85.29h1v1h-1zM47.84 87.04h1v1h-1zM54.34 78.71h1v1h-1zM52.08 62.74h1v1h-1zM49.17 82.52h1v1h-1zM43.59 97.5h1v1h-1zM45.88 82h1v1h-1zM45.45 77.85h1v1h-1zM41.47 86.31h1v1h-1zM45.28 83.94h1v1h-1zM42.5 88.61h1v1h-1zM47.45 83.4h1v1h-1zM48.1 83.6h1v1h-1zM37.62 90.32h1v1h-1zM49.28 78.58h1v1h-1zM48.44 87.12h1v1h-1zM35.74 90.62h1v1h-1zM44.41 89.22h1v1h-1zM46.38 82.92h1v1h-1zM37.31 86.9h1v1h-1zM46.09 81.86h1v1h-1zM46.4 84.48h1v1h-1zM48.66 82.33h1v1h-1zM50.23 70.9h1v1h-1zM42.14 86.83h1v1h-1zM51.07 83.35h1v1h-1zM41.1 92.61h1v1h-1zM42.36 87.32h1v1h-1zM51.37 86.22h1v1h-1zM51.49 81.15h1v1h-1zM46.25 83.35h1v1h-1zM43.05 90.3h1v1h-1zM55.65 83.14h1v1h-1zM42.01 85.56h1v1h-1zM40.25 84.85h1v1h-1zM48.06 82.72h1v1h-1zM50.92 75.2h1v1h-1zM51.75 75.57h1v1h-1zM44.06 79.21h1v1h-1zM41.79 87.94h1v1h-1zM46.54 81.29h1v1h-1zM43.55 93.58h1v1h-1zM44.46 85.65h1v1h-1zM49.22 86.91h1v1h-1zM34.69 96.2h1v1h-1zM58.11 75.14h1v1h-1zM44.17 85.89h1v1h-1zM47.26 88.86h1v1h-1zM46.8 76.92h1v1h-1zM43.23 89.71h1v1h-1zM43.73 75.86h1v1h-1zM49.8 72.1h1v1h-1zM45.38 80.55h1v1h-1zM48.62 80.05h1v1h-1zM43 79.88h1v1h-1zM46.69 79.53h1v1h-1zM43.57 87.92h1v1h-1zM45.61 95.26h1v1h-1zM43.42 79.88h1v1h-1zM31.68 90.96h1v1h-1zM42.72 82.23h1v1h-1zM50.44 76.31h1v1h-1zM47.07 84.03h1v1h-1zM37.9 82.5h1v1h-1zM54.11 74.32h1v1h-1zM47.77 85.92h1v1h-1zM46 86.79h1v1h-1zM50.62 84.12h1v1h-1zM49.48 82.39h1v1h-1zM49.9 79.81h1v1h-1zM40.8 93.49h1v1h-1zM47.31 83.23h1v1h-1zM42.97 77.17h1v1h-1zM43.79 89.3h1v1h-1zM45.62 87.21h1v1h-1zM41.94 91.37h1v1h-1zM45.17 79.7h1v1h-1zM48.41 85.19h1v1h-1zM45.64 79.71h1v1h-1zM42.88 86.78h1v1h-1zM49.46 76.93h1v1h-1zM46.44 85.18h1v1h-1zM39.8 86.55h1v1h-1zM45.07 81.12h1v1h-1zM45.09 92.43h1v1h-1zM41.73 85.05h1v1h-1zM36.6 95.77h1v1h-1zM40.66 89.78h1v1h-1zM41 87.3h1v1h-1zM59.47 71.89h1v1h-1zM42.52 85.79h1v1h-1zM46.54 79.44h1v1h-1zM53.01 87.16h1v1h-1zM37.24 86.07h1v1h-1zM36.25 87.7h1v1h-1zM42.84 83.49h1v1h-1zM49.65 86.06h1v1h-1z" fill="#3f4fc0" opacity="0.75"/>
<g transform="translate(45.8 84) rotate(22)" filter="url(#blur06)">
<ellipse cx="0" cy="0" rx="6.84" ry="10.92" fill="#4a5cc8" opacity="0.8"/>
<ellipse cx="0" cy="0" rx="5.18" ry="8.28" fill="#3b78c4" opacity="0.9"/>
<ellipse cx="0" cy="0" rx="3.96" ry="6.33" fill="#38a0a0" opacity="0.95"/>
<ellipse cx="0" cy="0" rx="2.88" ry="4.6" fill="#5cb854" opacity="1"/>
<ellipse cx="0" cy="0" rx="1.73" ry="2.76" fill="#b8c234" opacity="1"/>
<ellipse cx="0" cy="0" rx="0.79" ry="1.26" fill="#d8a024" opacity="1"/>
</g>
<path d="M145.87 75.52h0.9v0.9h-0.9zM166.46 87.7h0.9v0.9h-0.9zM150.47 88.3h0.9v0.9h-0.9zM160.97 87.24h0.9v0.9h-0.9zM138.93 82.49h0.9v0.9h-0.9zM164.2 87.67h0.9v0.9h-0.9zM164.05 71.71h0.9v0.9h-0.9zM158.35 86.46h0.9v0.9h-0.9zM177.42 79.23h0.9v0.9h-0.9zM154.37 84.18h0.9v0.9h-0.9zM164.09 81.78h0.9v0.9h-0.9zM166.18 80.06h0.9v0.9h-0.9zM159.13 81.36h0.9v0.9h-0.9zM158.27 80.55h0.9v0.9h-0.9zM144.22 89.47h0.9v0.9h-0.9zM159.43 81.21h0.9v0.9h-0.9zM158.61 88.95h0.9v0.9h-0.9zM149.18 83.45h0.9v0.9h-0.9zM161.31 86.63h0.9v0.9h-0.9zM154.32 73.47h0.9v0.9h-0.9zM166.94 85.64h0.9v0.9h-0.9zM157.1 82.61h0.9v0.9h-0.9zM159.11 81.87h0.9v0.9h-0.9zM148.8 80.3h0.9v0.9h-0.9zM152.23 80.94h0.9v0.9h-0.9zM147.73 87.18h0.9v0.9h-0.9zM146.52 87.3h0.9v0.9h-0.9zM148.88 85.76h0.9v0.9h-0.9zM167.99 85.02h0.9v0.9h-0.9zM151.15 84.24h0.9v0.9h-0.9zM158.19 75.33h0.9v0.9h-0.9zM152.14 84.82h0.9v0.9h-0.9zM153.25 84.4h0.9v0.9h-0.9zM162.87 87.83h0.9v0.9h-0.9zM164.25 86.94h0.9v0.9h-0.9zM154.7 83.91h0.9v0.9h-0.9zM154.83 82.43h0.9v0.9h-0.9zM155.56 75.38h0.9v0.9h-0.9zM154.33 83.88h0.9v0.9h-0.9zM149.21 83.88h0.9v0.9h-0.9zM161.12 83.18h0.9v0.9h-0.9zM173.61 70.97h0.9v0.9h-0.9zM155.35 74.87h0.9v0.9h-0.9zM164.84 97.27h0.9v0.9h-0.9zM136.98 84.64h0.9v0.9h-0.9zM161.15 82.49h0.9v0.9h-0.9zM161.41 72.79h0.9v0.9h-0.9zM163.82 85.86h0.9v0.9h-0.9zM157.18 81.06h0.9v0.9h-0.9zM162.11 81.57h0.9v0.9h-0.9zM158.78 81.45h0.9v0.9h-0.9zM139.03 83.84h0.9v0.9h-0.9zM158.62 87.77h0.9v0.9h-0.9zM149.99 83.83h0.9v0.9h-0.9zM161.94 84.73h0.9v0.9h-0.9zM166.94 93.96h0.9v0.9h-0.9zM149.73 74.4h0.9v0.9h-0.9zM163.85 91.65h0.9v0.9h-0.9zM164.38 88.07h0.9v0.9h-0.9zM152.05 80.43h0.9v0.9h-0.9zM164.11 79.44h0.9v0.9h-0.9zM142.49 79.01h0.9v0.9h-0.9zM176.94 93.62h0.9v0.9h-0.9zM151.51 80.36h0.9v0.9h-0.9zM158.85 80.25h0.9v0.9h-0.9zM167.48 83.61h0.9v0.9h-0.9zM148.31 90.54h0.9v0.9h-0.9zM152.33 85.11h0.9v0.9h-0.9zM156.9 82.43h0.9v0.9h-0.9zM159.6 80.54h0.9v0.9h-0.9zM142.24 72.96h0.9v0.9h-0.9zM146.87 80.21h0.9v0.9h-0.9zM156.82 84.28h0.9v0.9h-0.9zM161.45 84.6h0.9v0.9h-0.9zM150.65 80.46h0.9v0.9h-0.9zM140.05 83.15h0.9v0.9h-0.9zM160.88 86.65h0.9v0.9h-0.9zM156.03 83.13h0.9v0.9h-0.9zM164.49 84.08h0.9v0.9h-0.9zM162.9 86.91h0.9v0.9h-0.9zM158.71 90.53h0.9v0.9h-0.9zM152.42 82.21h0.9v0.9h-0.9zM150.54 80.01h0.9v0.9h-0.9zM169.45 92.8h0.9v0.9h-0.9zM157.18 86.84h0.9v0.9h-0.9zM166.4 88.04h0.9v0.9h-0.9zM166.64 77.69h0.9v0.9h-0.9zM151.88 86.26h0.9v0.9h-0.9zM168.48 84.52h0.9v0.9h-0.9zM150.13 82.23h0.9v0.9h-0.9zM151.72 79.71h0.9v0.9h-0.9zM169.01 80.87h0.9v0.9h-0.9zM157.16 94.81h0.9v0.9h-0.9zM166.48 85.68h0.9v0.9h-0.9zM152.1 86.05h0.9v0.9h-0.9zM169.97 87.12h0.9v0.9h-0.9zM167.09 84.49h0.9v0.9h-0.9zM161.13 83h0.9v0.9h-0.9zM160.42 90.5h0.9v0.9h-0.9zM145.55 83.69h0.9v0.9h-0.9zM158.92 81.14h0.9v0.9h-0.9zM154.54 87.93h0.9v0.9h-0.9zM173.01 87.15h0.9v0.9h-0.9zM159.61 76.24h0.9v0.9h-0.9zM172.42 84.38h0.9v0.9h-0.9zM156.73 78.41h0.9v0.9h-0.9zM156.55 78.52h0.9v0.9h-0.9zM157.57 86.33h0.9v0.9h-0.9zM157.25 85.4h0.9v0.9h-0.9zM150.19 91.15h0.9v0.9h-0.9z" fill="#5565c0" opacity="0.55"/>
<path d="M149.73 78.64h1v1h-1zM152.06 82.33h1v1h-1zM147.95 83.76h1v1h-1zM154.46 80.86h1v1h-1zM152.31 89.99h1v1h-1zM156.41 84.47h1v1h-1zM153.64 84.58h1v1h-1zM152.76 87.56h1v1h-1zM152.54 76.58h1v1h-1zM152.89 81.89h1v1h-1zM156.26 82.86h1v1h-1zM153.74 92.62h1v1h-1zM147.77 81.06h1v1h-1zM145.94 76.62h1v1h-1zM143.61 86.28h1v1h-1zM149.81 78.46h1v1h-1zM145.59 87.16h1v1h-1zM149.12 83.72h1v1h-1zM154.65 89.75h1v1h-1zM162.71 88.61h1v1h-1zM153.72 85.64h1v1h-1zM162.01 90h1v1h-1zM151.45 86.6h1v1h-1zM154.43 85.18h1v1h-1zM150.5 80.36h1v1h-1zM150.33 79.6h1v1h-1zM159.12 86.88h1v1h-1zM146.97 89.89h1v1h-1zM157.46 78.32h1v1h-1zM162.21 87.83h1v1h-1zM163.32 80.69h1v1h-1zM155.65 86.48h1v1h-1zM154.01 85.6h1v1h-1zM158.27 79.77h1v1h-1zM146.79 80.12h1v1h-1zM150.21 82.88h1v1h-1zM154.84 85.93h1v1h-1zM153.16 82.63h1v1h-1zM150.79 88.33h1v1h-1zM156.82 85.35h1v1h-1zM151.39 90.44h1v1h-1zM150.03 87.27h1v1h-1zM158.77 84.07h1v1h-1zM157.13 81.1h1v1h-1zM158.06 85.7h1v1h-1zM145.07 87.34h1v1h-1zM148.54 89.49h1v1h-1zM149.61 84.42h1v1h-1zM154.41 83.84h1v1h-1zM154.3 83.06h1v1h-1zM156.36 85.02h1v1h-1zM154.06 75.37h1v1h-1zM158.81 85.11h1v1h-1zM144.09 85.33h1v1h-1zM155.34 88.75h1v1h-1zM147.59 90.41h1v1h-1zM152.2 93.38h1v1h-1zM152.27 87.38h1v1h-1zM151.17 81.09h1v1h-1zM158.48 88.17h1v1h-1zM160.69 88h1v1h-1zM150.13 79.18h1v1h-1zM149.75 82.64h1v1h-1zM148.92 87.04h1v1h-1zM154.64 84.06h1v1h-1zM153.86 84.49h1v1h-1zM154.06 87.63h1v1h-1zM157.8 82.6h1v1h-1zM145.47 90h1v1h-1zM153.57 88.87h1v1h-1zM144.78 83.85h1v1h-1zM153.14 79.95h1v1h-1zM150.42 87.54h1v1h-1zM158.39 90.58h1v1h-1zM148.68 80.1h1v1h-1zM155.6 88.29h1v1h-1zM153.97 80.44h1v1h-1zM156.91 87.77h1v1h-1zM155.77 83.3h1v1h-1zM154.52 87.77h1v1h-1zM150.21 78.55h1v1h-1zM154.64 86.68h1v1h-1zM153.07 88.11h1v1h-1zM150.07 84.71h1v1h-1zM151.47 87h1v1h-1zM160.98 84.12h1v1h-1zM163.27 90.35h1v1h-1zM156.95 87.05h1v1h-1zM161.85 84.37h1v1h-1zM152.44 81.28h1v1h-1zM155.36 89.71h1v1h-1zM155.66 86.48h1v1h-1zM152 85.59h1v1h-1zM145.87 88.67h1v1h-1zM150.95 81.13h1v1h-1zM149.24 82.11h1v1h-1zM157.28 88.7h1v1h-1zM146.21 88.24h1v1h-1zM157.44 82.97h1v1h-1zM145.57 82.39h1v1h-1zM149.83 86.2h1v1h-1zM151.21 77.9h1v1h-1zM154.17 79.63h1v1h-1zM157.53 80.78h1v1h-1zM149.54 82.01h1v1h-1zM150.29 89.54h1v1h-1zM157.26 87.11h1v1h-1zM154.6 79.58h1v1h-1zM150.4 83.07h1v1h-1zM148.11 86.78h1v1h-1zM149.29 82.52h1v1h-1zM147.78 77.8h1v1h-1zM155.98 89.66h1v1h-1zM153.87 81.58h1v1h-1zM139.47 85.61h1v1h-1zM159.08 86.04h1v1h-1zM157.64 90.17h1v1h-1zM158.63 83.46h1v1h-1zM158.26 87.71h1v1h-1zM145.31 83.58h1v1h-1z" fill="#7484cc" opacity="0.5"/>
<path d="M125.03 83.24h0.9v0.9h-0.9zM139.05 76.52h0.9v0.9h-0.9zM120.61 93.09h0.9v0.9h-0.9zM137.64 94.3h0.9v0.9h-0.9zM125.73 91.42h0.9v0.9h-0.9zM149.52 98.05h0.9v0.9h-0.9zM133.53 85.88h0.9v0.9h-0.9zM133.92 90.99h0.9v0.9h-0.9zM142.26 84.61h0.9v0.9h-0.9zM125.49 89.19h0.9v0.9h-0.9zM131.71 88.4h0.9v0.9h-0.9zM136.84 95.37h0.9v0.9h-0.9zM142.96 80.84h0.9v0.9h-0.9zM137.44 96.35h0.9v0.9h-0.9zM131.24 87.03h0.9v0.9h-0.9zM143.34 92.8h0.9v0.9h-0.9zM138.63 74.76h0.9v0.9h-0.9zM126.17 85.73h0.9v0.9h-0.9zM137.71 101.83h0.9v0.9h-0.9zM128.97 91.96h0.9v0.9h-0.9zM140.39 72.3h0.9v0.9h-0.9zM129.27 85.16h0.9v0.9h-0.9zM131.55 82.92h0.9v0.9h-0.9zM138.29 78.33h0.9v0.9h-0.9zM138.26 79.55h0.9v0.9h-0.9zM131.19 87.76h0.9v0.9h-0.9zM130.99 86.01h0.9v0.9h-0.9zM146.2 84.19h0.9v0.9h-0.9zM133.98 89.15h0.9v0.9h-0.9zM132.44 91.58h0.9v0.9h-0.9zM126.02 88.33h0.9v0.9h-0.9zM131.42 78.41h0.9v0.9h-0.9zM147.39 78.05h0.9v0.9h-0.9zM147.3 88.61h0.9v0.9h-0.9zM145.17 77.16h0.9v0.9h-0.9zM143.39 94.2h0.9v0.9h-0.9zM134.19 83.1h0.9v0.9h-0.9zM152.19 85.24h0.9v0.9h-0.9zM132.04 79.59h0.9v0.9h-0.9zM138.12 86.31h0.9v0.9h-0.9zM136.24 96.05h0.9v0.9h-0.9zM132.71 87.31h0.9v0.9h-0.9zM145.21 76.97h0.9v0.9h-0.9zM142.27 96.82h0.9v0.9h-0.9zM125.52 76.32h0.9v0.9h-0.9zM127.73 71.08h0.9v0.9h-0.9zM138.17 71.01h0.9v0.9h-0.9zM138.49 94.17h0.9v0.9h-0.9zM123.69 81.78h0.9v0.9h-0.9zM121.57 89.45h0.9v0.9h-0.9zM129.84 82.14h0.9v0.9h-0.9zM135.38 87.82h0.9v0.9h-0.9zM132.57 84.11h0.9v0.9h-0.9zM131.17 84.8h0.9v0.9h-0.9zM126.79 84.45h0.9v0.9h-0.9zM121.47 80.57h0.9v0.9h-0.9zM148.41 84.56h0.9v0.9h-0.9zM126.18 85.8h0.9v0.9h-0.9zM128.19 72.44h0.9v0.9h-0.9zM129.84 89.16h0.9v0.9h-0.9z" fill="#7080d0" opacity="0.5"/>
<path d="M174.54 79.22h0.9v0.9h-0.9zM169.29 71.37h0.9v0.9h-0.9zM178.4 81.96h0.9v0.9h-0.9zM169.19 63.11h0.9v0.9h-0.9zM167.52 99.8h0.9v0.9h-0.9zM168.4 79.39h0.9v0.9h-0.9zM173.84 78.74h0.9v0.9h-0.9zM171.89 69.01h0.9v0.9h-0.9zM168.8 93.51h0.9v0.9h-0.9zM169.97 86.76h0.9v0.9h-0.9zM166.22 77.81h0.9v0.9h-0.9zM174.04 88.29h0.9v0.9h-0.9zM168.51 84.76h0.9v0.9h-0.9zM174.54 74.1h0.9v0.9h-0.9zM174.91 72.82h0.9v0.9h-0.9zM169.82 79.85h0.9v0.9h-0.9zM162.14 79.12h0.9v0.9h-0.9zM169 68.3h0.9v0.9h-0.9zM171.3 86.1h0.9v0.9h-0.9zM171.38 90.13h0.9v0.9h-0.9zM168.36 69.5h0.9v0.9h-0.9zM179.2 83.19h0.9v0.9h-0.9zM176.78 73.39h0.9v0.9h-0.9zM176.22 82.08h0.9v0.9h-0.9zM175.59 80.2h0.9v0.9h-0.9zM177.83 74.81h0.9v0.9h-0.9zM169.14 68.18h0.9v0.9h-0.9zM177.64 74.09h0.9v0.9h-0.9zM168.83 72.48h0.9v0.9h-0.9zM171.22 69.83h0.9v0.9h-0.9zM171.84 74.98h0.9v0.9h-0.9zM170.79 72.32h0.9v0.9h-0.9zM173.15 76.31h0.9v0.9h-0.9zM173.46 81.99h0.9v0.9h-0.9zM174.36 62.49h0.9v0.9h-0.9zM170.86 73.63h0.9v0.9h-0.9zM176.1 67.38h0.9v0.9h-0.9zM170.14 77.65h0.9v0.9h-0.9zM171.66 87.93h0.9v0.9h-0.9zM171.23 87.72h0.9v0.9h-0.9zM167.14 65.5h0.9v0.9h-0.9zM177.88 83.49h0.9v0.9h-0.9zM174.95 80.99h0.9v0.9h-0.9zM174.94 70.27h0.9v0.9h-0.9zM176.79 75.74h0.9v0.9h-0.9zM176.94 80.7h0.9v0.9h-0.9zM165.11 69.7h0.9v0.9h-0.9zM177.51 78.91h0.9v0.9h-0.9zM171.42 81.94h0.9v0.9h-0.9zM171.3 75.64h0.9v0.9h-0.9z" fill="#5060c0" opacity="0.6"/>
<path d="M134.96 84.74h1v1h-1zM139.5 84.65h1v1h-1zM139.9 93.41h1v1h-1zM139.7 89.71h1v1h-1zM135.06 84.71h1v1h-1zM134.56 80.36h1v1h-1zM134.77 80.82h1v1h-1zM139.68 87.09h1v1h-1zM134.11 74.43h1v1h-1zM134.71 81.93h1v1h-1zM131.74 78.09h1v1h-1zM127.3 86.18h1v1h-1zM133.38 96.71h1v1h-1zM134.67 83.26h1v1h-1zM139.23 85.06h1v1h-1zM135.39 82.21h1v1h-1zM132.13 91.23h1v1h-1zM137.14 92.74h1v1h-1zM133.58 84.05h1v1h-1zM131.48 88.52h1v1h-1zM130.03 86.4h1v1h-1zM137.57 91.26h1v1h-1zM131.24 89.11h1v1h-1zM132.76 80.07h1v1h-1zM130 89.33h1v1h-1zM140.2 81.53h1v1h-1zM132.43 82.12h1v1h-1zM142.23 89.65h1v1h-1zM133.75 75h1v1h-1zM132.05 89.67h1v1h-1zM140.75 83.21h1v1h-1zM132.72 81.29h1v1h-1zM128.32 87.95h1v1h-1zM130.79 88.94h1v1h-1zM129.82 77.26h1v1h-1zM135.95 80.31h1v1h-1zM137.18 84.26h1v1h-1zM130.7 86.74h1v1h-1zM138.2 74.8h1v1h-1zM140.29 86.96h1v1h-1zM137.92 75.04h1v1h-1zM132.56 82.08h1v1h-1zM138.75 77.1h1v1h-1zM132.77 73.75h1v1h-1zM133.78 85.64h1v1h-1zM129.6 80.62h1v1h-1zM135.64 91.96h1v1h-1zM136.94 82.69h1v1h-1zM131.36 79.05h1v1h-1zM132.53 84.54h1v1h-1zM133.82 92.21h1v1h-1zM136.08 78.79h1v1h-1zM139.2 89.11h1v1h-1zM135.33 80.47h1v1h-1zM129.2 78.44h1v1h-1zM137.94 80.29h1v1h-1zM130.42 84.6h1v1h-1zM135.21 87.06h1v1h-1zM136.18 91.13h1v1h-1zM131.61 88.59h1v1h-1zM131.26 87.15h1v1h-1zM135.16 85.25h1v1h-1zM137.78 84.18h1v1h-1zM137.86 88.63h1v1h-1zM135.38 81.24h1v1h-1zM132.53 81.19h1v1h-1zM134.07 83.82h1v1h-1zM143.9 87.98h1v1h-1zM137.52 79.97h1v1h-1zM132.58 82.23h1v1h-1zM135.76 78.95h1v1h-1zM140.07 81.67h1v1h-1zM139.13 72.78h1v1h-1zM134.56 85.37h1v1h-1zM135.05 87.02h1v1h-1zM135.52 84.88h1v1h-1zM128.99 79.96h1v1h-1zM126.98 86.45h1v1h-1zM135.76 83.12h1v1h-1zM132.34 80.9h1v1h-1zM139.82 93.05h1v1h-1zM133.96 90.34h1v1h-1zM130.49 74.02h1v1h-1zM133.54 79.55h1v1h-1zM132.84 84.77h1v1h-1zM144.6 81.58h1v1h-1zM134.74 85.38h1v1h-1zM134.19 88.58h1v1h-1zM140.88 78.36h1v1h-1zM135.33 82.74h1v1h-1zM136.49 76.55h1v1h-1zM130.11 72.09h1v1h-1zM136.29 85.09h1v1h-1zM135.96 72.35h1v1h-1zM133.84 80.17h1v1h-1zM130.6 79.09h1v1h-1zM136.68 86.88h1v1h-1zM134.41 86.53h1v1h-1zM132.75 84.18h1v1h-1zM134.59 86.75h1v1h-1zM134.54 83.27h1v1h-1zM134.55 80.78h1v1h-1zM141.58 87.16h1v1h-1zM135.07 95.42h1v1h-1zM139.83 76.71h1v1h-1zM136.55 88.33h1v1h-1zM140.12 91.01h1v1h-1zM137.66 78.41h1v1h-1zM131.82 85.08h1v1h-1zM136.75 79.1h1v1h-1zM133.65 81.92h1v1h-1zM134.75 85.68h1v1h-1zM134.32 77.82h1v1h-1zM137.96 92.22h1v1h-1zM133.92 89.02h1v1h-1zM135.83 87.38h1v1h-1zM136.56 80.37h1v1h-1zM136.09 89.14h1v1h-1zM131 93.45h1v1h-1zM140.55 93.57h1v1h-1z" fill="#3f4fc0" opacity="0.75"/>
<g transform="translate(135.2 84.5) rotate(5)" filter="url(#blur06)">
<ellipse cx="0" cy="0" rx="5.51" ry="8.55" fill="#4a5cc8" opacity="0.8"/>
<ellipse cx="0" cy="0" rx="4.18" ry="6.48" fill="#3b78c4" opacity="0.9"/>
<ellipse cx="0" cy="0" rx="3.19" ry="4.95" fill="#38a0a0" opacity="0.95"/>
<ellipse cx="0" cy="0" rx="2.32" ry="3.6" fill="#5cb854" opacity="1"/>
<ellipse cx="0" cy="0" rx="1.39" ry="2.16" fill="#b8c234" opacity="1"/>
<ellipse cx="0" cy="0" rx="0.64" ry="0.99" fill="#d8a024" opacity="1"/>
</g>
<path d="M177.73 83.91h1v1h-1zM171.84 75.94h1v1h-1zM170.64 80.19h1v1h-1zM172.62 83.48h1v1h-1zM167.59 93.23h1v1h-1zM178.46 79.34h1v1h-1zM174.41 82.33h1v1h-1zM173.39 78.26h1v1h-1zM172.39 74.6h1v1h-1zM173.15 79.36h1v1h-1zM173.51 74.42h1v1h-1zM172.8 79.78h1v1h-1zM174.23 73.18h1v1h-1zM173.76 85.34h1v1h-1zM174.21 77.31h1v1h-1zM171.46 78.1h1v1h-1zM174.54 88.72h1v1h-1zM172.3 75.68h1v1h-1zM173.65 80.71h1v1h-1zM170.4 75.12h1v1h-1zM172.44 83.49h1v1h-1zM169.68 73.45h1v1h-1zM173.96 72.23h1v1h-1zM172.98 81.59h1v1h-1zM172.42 73.45h1v1h-1zM172.55 77.53h1v1h-1zM173.55 74.52h1v1h-1zM175.46 69.55h1v1h-1zM172.25 79.55h1v1h-1zM175.13 75.89h1v1h-1zM174.08 76.13h1v1h-1zM174.57 89.82h1v1h-1zM171.69 82.13h1v1h-1zM170.35 85.28h1v1h-1zM175.76 79.71h1v1h-1zM169.83 81.89h1v1h-1zM175.61 85.97h1v1h-1zM174.76 68.63h1v1h-1zM170.98 87.95h1v1h-1zM169.6 86.22h1v1h-1zM177.46 84.03h1v1h-1zM175.53 77.52h1v1h-1zM169.6 78.89h1v1h-1zM172.2 79.22h1v1h-1zM174.46 78.64h1v1h-1zM173.19 82.02h1v1h-1zM172.69 90.45h1v1h-1zM173.82 80h1v1h-1zM172.17 75.79h1v1h-1zM176.1 80.39h1v1h-1zM169.97 76.16h1v1h-1zM172.35 76.85h1v1h-1zM175.44 72.6h1v1h-1zM173.94 80.35h1v1h-1zM169.72 79.78h1v1h-1zM172.46 82.48h1v1h-1zM171.56 81.3h1v1h-1zM168.49 73.06h1v1h-1zM174.69 85.69h1v1h-1zM172.67 75.94h1v1h-1zM175.44 67.07h1v1h-1zM170.68 83.49h1v1h-1zM174.35 73.37h1v1h-1zM167.93 88.12h1v1h-1zM173.09 74.18h1v1h-1zM172.84 84.86h1v1h-1zM166.14 86.1h1v1h-1zM174.57 67.14h1v1h-1zM174.65 68.93h1v1h-1zM175.58 81.87h1v1h-1zM178.4 75.87h1v1h-1zM172.71 85.72h1v1h-1zM171.08 75.31h1v1h-1zM171.76 79.07h1v1h-1zM169.96 82.38h1v1h-1zM174.07 79.92h1v1h-1zM177 77.55h1v1h-1zM176.01 76.25h1v1h-1zM174.61 68.01h1v1h-1zM173.2 78.46h1v1h-1zM171.45 75.87h1v1h-1zM171.82 75.22h1v1h-1zM167.15 75.96h1v1h-1zM171.31 76.39h1v1h-1zM170.02 78.69h1v1h-1zM174.68 78.01h1v1h-1zM171.45 87.56h1v1h-1zM175.17 84.98h1v1h-1zM175.62 77.56h1v1h-1zM172.37 86.11h1v1h-1z" fill="#3f4fc0" opacity="0.75"/>
<g transform="translate(173.2 80) rotate(0)" filter="url(#blur06)">
<ellipse cx="0" cy="0" rx="4.37" ry="10.26" fill="#4a5cc8" opacity="0.8"/>
<ellipse cx="0" cy="0" rx="3.45" ry="8.1" fill="#3b78c4" opacity="0.9"/>
<ellipse cx="0" cy="0" rx="2.67" ry="6.26" fill="#38a0a0" opacity="0.95"/>
<ellipse cx="0" cy="0" rx="1.84" ry="4.32" fill="#5cb854" opacity="1"/>
<ellipse cx="0" cy="0" rx="0.92" ry="2.16" fill="#a8c040" opacity="1"/>
</g>
<path d="M228.68 80.92h0.9v0.9h-0.9zM234.27 85.35h0.9v0.9h-0.9zM230.34 90.85h0.9v0.9h-0.9zM230.93 88.53h0.9v0.9h-0.9zM238.42 87.93h0.9v0.9h-0.9zM236.4 71.56h0.9v0.9h-0.9zM224.13 76.43h0.9v0.9h-0.9zM234.85 95.51h0.9v0.9h-0.9zM224.67 84.76h0.9v0.9h-0.9zM226.88 75.41h0.9v0.9h-0.9zM230.34 88.23h0.9v0.9h-0.9zM233.28 92.62h0.9v0.9h-0.9zM226.09 90h0.9v0.9h-0.9zM237.58 82.63h0.9v0.9h-0.9zM234.86 76.93h0.9v0.9h-0.9zM225.46 78.35h0.9v0.9h-0.9zM229.09 96.85h0.9v0.9h-0.9zM233.21 84.81h0.9v0.9h-0.9zM236.46 74.99h0.9v0.9h-0.9zM237.5 85.39h0.9v0.9h-0.9zM222.91 87.41h0.9v0.9h-0.9zM235.32 86.07h0.9v0.9h-0.9zM241.51 78.27h0.9v0.9h-0.9zM235.07 88.74h0.9v0.9h-0.9zM226.6 92.8h0.9v0.9h-0.9zM223.3 70.3h0.9v0.9h-0.9zM235.13 72.2h0.9v0.9h-0.9zM231.3 67.2h0.9v0.9h-0.9zM232.41 71.8h0.9v0.9h-0.9zM234.05 68.21h0.9v0.9h-0.9zM234.69 79.6h0.9v0.9h-0.9zM232.38 81.39h0.9v0.9h-0.9zM232.78 70.11h0.9v0.9h-0.9zM226.39 77.91h0.9v0.9h-0.9zM234.56 64.13h0.9v0.9h-0.9zM227.42 76.51h0.9v0.9h-0.9zM225.66 84.94h0.9v0.9h-0.9zM231.16 74.61h0.9v0.9h-0.9z" fill="#4050c0" opacity="0.6"/>
<path d="M253.03 79.42h0.9v0.9h-0.9zM253.68 78.76h0.9v0.9h-0.9zM255.9 71.32h0.9v0.9h-0.9zM252.83 77.01h0.9v0.9h-0.9zM255.68 79.34h0.9v0.9h-0.9zM256.6 80.1h0.9v0.9h-0.9zM254.25 76.37h0.9v0.9h-0.9zM256.55 75.72h0.9v0.9h-0.9zM257.11 72.23h0.9v0.9h-0.9zM256.31 76.48h0.9v0.9h-0.9zM251.07 79.94h0.9v0.9h-0.9zM255.62 77.06h0.9v0.9h-0.9zM252.85 75.6h0.9v0.9h-0.9zM258.02 74.52h0.9v0.9h-0.9zM248.06 74.43h0.9v0.9h-0.9zM252.6 76.6h0.9v0.9h-0.9zM254.21 74.26h0.9v0.9h-0.9zM253.32 80.14h0.9v0.9h-0.9zM252.12 82.87h0.9v0.9h-0.9zM253.91 73.72h0.9v0.9h-0.9zM256.57 78.69h0.9v0.9h-0.9zM252.91 79.25h0.9v0.9h-0.9zM251.32 74.23h0.9v0.9h-0.9zM257.25 76.23h0.9v0.9h-0.9zM252.4 78.54h0.9v0.9h-0.9z" fill="#4050c0" opacity="0.7"/>
<path d="M271.17 84.82h0.9v0.9h-0.9zM243.93 82.23h0.9v0.9h-0.9zM266.18 91.15h0.9v0.9h-0.9zM280.53 82.98h0.9v0.9h-0.9zM257.18 84.69h0.9v0.9h-0.9zM274.06 77.47h0.9v0.9h-0.9zM275.05 63.01h0.9v0.9h-0.9zM269.98 79.6h0.9v0.9h-0.9zM266.59 90.51h0.9v0.9h-0.9zM250.17 84.31h0.9v0.9h-0.9zM264.41 89.7h0.9v0.9h-0.9zM252.7 77.07h0.9v0.9h-0.9zM260.08 83.22h0.9v0.9h-0.9zM247.05 92.44h0.9v0.9h-0.9z" fill="#8090d0" opacity="0.4"/>
<g transform="translate(254.6 76.5) rotate(0)" filter="url(#blur06)">
<ellipse cx="0" cy="0" rx="2.6" ry="3.6" fill="#7080d0" opacity="0.55"/>
<ellipse cx="0" cy="0" rx="1.56" ry="2.16" fill="#5060c8" opacity="0.7"/>
</g>
<path d="M226.19 90.66h1v1h-1zM233.92 82.52h1v1h-1zM235.67 74.72h1v1h-1zM230.85 77.27h1v1h-1zM226.3 80.31h1v1h-1zM227.59 91.06h1v1h-1zM220.15 73.5h1v1h-1zM228.5 77.41h1v1h-1zM231.63 84.67h1v1h-1zM231.92 78.32h1v1h-1zM231.98 84.44h1v1h-1zM224.78 77.83h1v1h-1zM228.25 72.09h1v1h-1zM231.31 82.06h1v1h-1zM233.01 75.69h1v1h-1zM231.95 75.12h1v1h-1zM230.94 86.55h1v1h-1zM234.75 91.88h1v1h-1zM228.89 77.57h1v1h-1zM226.93 82.6h1v1h-1zM236.65 88.34h1v1h-1zM225.43 70.72h1v1h-1zM225.25 83.65h1v1h-1zM230.32 83.53h1v1h-1zM238.91 77.74h1v1h-1zM224.04 93.93h1v1h-1zM233.64 76.58h1v1h-1zM226.56 69.09h1v1h-1zM221.98 79.44h1v1h-1zM229.13 88.27h1v1h-1zM231.75 76.66h1v1h-1zM224.55 93.6h1v1h-1zM224.22 80.86h1v1h-1zM229.8 85.7h1v1h-1zM228.48 84.46h1v1h-1zM234.12 81.34h1v1h-1zM229.62 79.77h1v1h-1zM227.83 79.1h1v1h-1zM229.41 82.61h1v1h-1zM233.17 91.73h1v1h-1zM228.13 85.12h1v1h-1zM230.48 86.96h1v1h-1zM230.46 83.32h1v1h-1zM230.74 75.71h1v1h-1zM231.51 91.19h1v1h-1zM232.44 85.13h1v1h-1zM232.73 78.73h1v1h-1zM223.2 84.15h1v1h-1zM232.69 77.96h1v1h-1zM224.95 89.15h1v1h-1zM220.99 91.56h1v1h-1zM228.6 98.2h1v1h-1zM228.36 80.61h1v1h-1zM228.78 82.03h1v1h-1zM231.6 76.22h1v1h-1zM236.29 77.3h1v1h-1zM228 84.73h1v1h-1zM229.81 78h1v1h-1zM232.89 79.38h1v1h-1zM226.62 79.52h1v1h-1zM226.8 92.81h1v1h-1zM225.08 86.93h1v1h-1zM228.77 78.28h1v1h-1zM229.2 82.99h1v1h-1zM230.61 94.23h1v1h-1zM226.03 89.84h1v1h-1zM232.9 88.02h1v1h-1zM226.42 86.81h1v1h-1zM229.83 83.78h1v1h-1zM228.64 85.72h1v1h-1zM232.71 90.3h1v1h-1zM228.23 88.02h1v1h-1zM237.94 76.67h1v1h-1zM238.78 73.98h1v1h-1zM231.7 86.08h1v1h-1zM235.69 84.92h1v1h-1zM230.72 75.61h1v1h-1zM224.92 85.39h1v1h-1zM231.44 76.4h1v1h-1zM234.3 76.87h1v1h-1zM230.22 77.95h1v1h-1zM234.01 93.1h1v1h-1zM233.38 70.7h1v1h-1zM231.75 82.27h1v1h-1zM231.06 85.69h1v1h-1zM227.95 87.43h1v1h-1zM233.5 83.79h1v1h-1zM230.37 77.83h1v1h-1zM235.52 74.77h1v1h-1zM231.78 76.26h1v1h-1zM224.72 84.15h1v1h-1zM230.74 81.72h1v1h-1zM236.94 72.29h1v1h-1zM230.1 83.38h1v1h-1zM236 75.02h1v1h-1zM233.05 83.72h1v1h-1zM233.56 90.6h1v1h-1zM228.71 96.61h1v1h-1zM231.72 78.63h1v1h-1zM231.5 74.78h1v1h-1zM234.44 68.76h1v1h-1zM229.77 84.29h1v1h-1zM235.14 80.17h1v1h-1zM237.16 78.52h1v1h-1zM234.06 68.65h1v1h-1zM229.7 75.36h1v1h-1zM235.14 86.51h1v1h-1zM226.01 83.92h1v1h-1zM233.03 80.44h1v1h-1zM231.56 79.51h1v1h-1zM232.35 69.24h1v1h-1zM228.15 89.9h1v1h-1zM236.46 81.1h1v1h-1zM228.68 79.35h1v1h-1zM233.39 84.73h1v1h-1zM228.16 83.3h1v1h-1zM229.2 84.7h1v1h-1zM232.26 71.37h1v1h-1zM229.66 86.58h1v1h-1zM227.22 79.68h1v1h-1zM234.69 79.91h1v1h-1zM224.78 94.24h1v1h-1zM231.86 89.11h1v1h-1zM224.5 91.31h1v1h-1zM226.08 76.42h1v1h-1zM230.98 91.01h1v1h-1zM228.9 76.19h1v1h-1zM235.23 69h1v1h-1zM232.08 85.83h1v1h-1zM228.32 84.59h1v1h-1zM233.03 84.31h1v1h-1zM229.87 91.97h1v1h-1zM228.93 82.09h1v1h-1zM227.13 87.77h1v1h-1zM228.59 84.21h1v1h-1zM231.25 82.07h1v1h-1zM237.04 82.66h1v1h-1zM234.28 88.33h1v1h-1zM235.8 81.74h1v1h-1zM232.71 87.38h1v1h-1zM228.26 82.65h1v1h-1zM230.52 81.14h1v1h-1zM236.78 78.08h1v1h-1zM228.32 68.44h1v1h-1zM230.54 76.83h1v1h-1zM229.89 85.21h1v1h-1zM236.43 85.27h1v1h-1zM233.88 77.16h1v1h-1zM230.37 90.95h1v1h-1zM239.21 70.08h1v1h-1zM231.02 92.72h1v1h-1zM236.56 72.57h1v1h-1zM228.74 85.03h1v1h-1zM233.86 76.62h1v1h-1zM226.01 86.91h1v1h-1zM223.6 89.52h1v1h-1zM230.41 83.48h1v1h-1zM227.4 76.29h1v1h-1zM236.03 72.6h1v1h-1zM240.69 74.41h1v1h-1z" fill="#3f4fc0" opacity="0.75"/>
<g transform="translate(231.4 82) rotate(16)" filter="url(#blur06)">
<ellipse cx="0" cy="0" rx="6.46" ry="12.16" fill="#4a5cc8" opacity="0.8"/>
<ellipse cx="0" cy="0" rx="4.9" ry="9.22" fill="#3b78c4" opacity="0.9"/>
<ellipse cx="0" cy="0" rx="3.74" ry="7.04" fill="#38a0a0" opacity="0.95"/>
<ellipse cx="0" cy="0" rx="2.72" ry="5.12" fill="#5cb854" opacity="1"/>
<ellipse cx="0" cy="0" rx="1.63" ry="3.07" fill="#b8c234" opacity="1"/>
<ellipse cx="0" cy="0" rx="0.75" ry="1.41" fill="#d8a024" opacity="1"/>
</g>
<path d="M336.77 82.33h0.9v0.9h-0.9zM348.24 87.64h0.9v0.9h-0.9zM342.5 80.4h0.9v0.9h-0.9zM343.41 77.58h0.9v0.9h-0.9zM327.65 89.4h0.9v0.9h-0.9zM346.69 83.22h0.9v0.9h-0.9zM340.77 83.93h0.9v0.9h-0.9zM344.91 81.41h0.9v0.9h-0.9zM352.44 68.76h0.9v0.9h-0.9zM346.69 73.8h0.9v0.9h-0.9zM342.86 93.52h0.9v0.9h-0.9zM337.71 81.23h0.9v0.9h-0.9zM341.02 89.3h0.9v0.9h-0.9zM338.41 69.07h0.9v0.9h-0.9zM348.46 79.28h0.9v0.9h-0.9zM342.85 90.3h0.9v0.9h-0.9zM339.03 79.13h0.9v0.9h-0.9zM345.99 85.18h0.9v0.9h-0.9zM341.53 89.95h0.9v0.9h-0.9zM360.07 78.86h0.9v0.9h-0.9zM357.57 65.79h0.9v0.9h-0.9zM354.46 79.36h0.9v0.9h-0.9zM345.92 79.39h0.9v0.9h-0.9zM340.72 72.18h0.9v0.9h-0.9zM342.35 91.96h0.9v0.9h-0.9zM352.66 79.32h0.9v0.9h-0.9zM341.45 76.61h0.9v0.9h-0.9zM336.94 95.86h0.9v0.9h-0.9zM349.46 82.9h0.9v0.9h-0.9zM341.7 74.15h0.9v0.9h-0.9zM353.85 88h0.9v0.9h-0.9zM338.6 89.6h0.9v0.9h-0.9zM337.56 86.93h0.9v0.9h-0.9zM338.54 78.82h0.9v0.9h-0.9zM348.33 85.32h0.9v0.9h-0.9zM351.8 75.57h0.9v0.9h-0.9zM355.61 92.33h0.9v0.9h-0.9zM344.93 85.57h0.9v0.9h-0.9zM339.77 80.83h0.9v0.9h-0.9zM336.12 82.68h0.9v0.9h-0.9zM346.34 92.32h0.9v0.9h-0.9zM351.37 88.26h0.9v0.9h-0.9zM342.57 80.27h0.9v0.9h-0.9zM342.71 83.71h0.9v0.9h-0.9zM332.03 87.92h0.9v0.9h-0.9zM334.47 78.04h0.9v0.9h-0.9zM345.15 78.06h0.9v0.9h-0.9zM356.18 81.25h0.9v0.9h-0.9zM355.56 91.01h0.9v0.9h-0.9zM341.66 85.08h0.9v0.9h-0.9zM353.72 79.44h0.9v0.9h-0.9zM345.59 77.71h0.9v0.9h-0.9zM345.39 79.28h0.9v0.9h-0.9zM345.56 89.7h0.9v0.9h-0.9zM354.36 83.02h0.9v0.9h-0.9zM346.36 88.58h0.9v0.9h-0.9zM343.05 73.87h0.9v0.9h-0.9zM352.46 74.82h0.9v0.9h-0.9zM351.25 74.59h0.9v0.9h-0.9zM357.3 73.98h0.9v0.9h-0.9zM350.71 93.52h0.9v0.9h-0.9zM338.54 93.41h0.9v0.9h-0.9zM339.47 68.45h0.9v0.9h-0.9zM349.85 87.39h0.9v0.9h-0.9zM343.64 62.61h0.9v0.9h-0.9zM344.63 79.65h0.9v0.9h-0.9zM342.45 79.78h0.9v0.9h-0.9zM332.97 77.64h0.9v0.9h-0.9zM357.1 93.88h0.9v0.9h-0.9zM342.57 76.53h0.9v0.9h-0.9z" fill="#6070c8" opacity="0.5"/>
<path d="M341.95 87.14h0.9v0.9h-0.9zM342.74 72.14h0.9v0.9h-0.9zM341.39 80.94h0.9v0.9h-0.9zM344.45 88.04h0.9v0.9h-0.9zM342.26 88.17h0.9v0.9h-0.9zM340.05 90.34h0.9v0.9h-0.9zM339.98 82.66h0.9v0.9h-0.9zM343.2 73.86h0.9v0.9h-0.9zM339.31 68.19h0.9v0.9h-0.9zM341.4 79.63h0.9v0.9h-0.9zM340.22 83.35h0.9v0.9h-0.9zM335.92 79.84h0.9v0.9h-0.9zM341.21 78.21h0.9v0.9h-0.9zM342.91 91.78h0.9v0.9h-0.9zM339.93 73.68h0.9v0.9h-0.9zM339.55 80.62h0.9v0.9h-0.9zM342.41 74.21h0.9v0.9h-0.9zM343.4 73.12h0.9v0.9h-0.9zM342.99 82.87h0.9v0.9h-0.9zM342.11 94.5h0.9v0.9h-0.9zM340.37 78.89h0.9v0.9h-0.9zM342.14 85.8h0.9v0.9h-0.9zM337.79 81.85h0.9v0.9h-0.9zM339.22 84.24h0.9v0.9h-0.9zM344.29 80.35h0.9v0.9h-0.9zM340.74 81.23h0.9v0.9h-0.9zM333.91 85.18h0.9v0.9h-0.9zM342.35 81.11h0.9v0.9h-0.9zM340.05 75.09h0.9v0.9h-0.9zM340.57 88.15h0.9v0.9h-0.9zM340.75 89.06h0.9v0.9h-0.9zM334.83 76.91h0.9v0.9h-0.9zM341.66 79.91h0.9v0.9h-0.9zM337.02 75.53h0.9v0.9h-0.9zM344 71.32h0.9v0.9h-0.9zM338.62 72.63h0.9v0.9h-0.9zM339.68 84.32h0.9v0.9h-0.9zM342.43 66.36h0.9v0.9h-0.9zM344.5 76.02h0.9v0.9h-0.9zM339.59 91.21h0.9v0.9h-0.9zM340.8 71.67h0.9v0.9h-0.9zM339.47 75.12h0.9v0.9h-0.9zM338.58 77.76h0.9v0.9h-0.9zM343.11 82.35h0.9v0.9h-0.9zM337.69 98.73h0.9v0.9h-0.9zM338.62 80.78h0.9v0.9h-0.9zM341.08 85.12h0.9v0.9h-0.9zM340.21 83.07h0.9v0.9h-0.9zM346.05 80.64h0.9v0.9h-0.9zM338.4 82.21h0.9v0.9h-0.9z" fill="#5060c0" opacity="0.55"/>
<path d="M316.6 81.51h0.9v0.9h-0.9zM323.26 86.26h0.9v0.9h-0.9zM320.09 89.7h0.9v0.9h-0.9zM320.7 75.23h0.9v0.9h-0.9zM327.9 81.55h0.9v0.9h-0.9zM330.15 79.6h0.9v0.9h-0.9zM325.85 86.12h0.9v0.9h-0.9zM314.48 93.45h0.9v0.9h-0.9zM309.31 90.14h0.9v0.9h-0.9zM329.34 87.33h0.9v0.9h-0.9zM326.53 80.67h0.9v0.9h-0.9zM321.93 85.51h0.9v0.9h-0.9zM324.83 88.75h0.9v0.9h-0.9zM320.61 79.29h0.9v0.9h-0.9zM318.22 86.76h0.9v0.9h-0.9zM310.84 75.58h0.9v0.9h-0.9zM319.23 80.28h0.9v0.9h-0.9zM320.18 66.11h0.9v0.9h-0.9zM319.71 82.31h0.9v0.9h-0.9zM327.22 70.7h0.9v0.9h-0.9zM319.94 87.19h0.9v0.9h-0.9zM325.29 92.04h0.9v0.9h-0.9zM329.09 76.95h0.9v0.9h-0.9zM326.28 81.75h0.9v0.9h-0.9zM316.6 94.32h0.9v0.9h-0.9zM317.77 78.25h0.9v0.9h-0.9zM319.26 78.27h0.9v0.9h-0.9zM328.77 86.56h0.9v0.9h-0.9zM331.42 86.77h0.9v0.9h-0.9zM317.86 91.05h0.9v0.9h-0.9zM317.59 80.89h0.9v0.9h-0.9zM320.87 84.26h0.9v0.9h-0.9zM330.05 79.92h0.9v0.9h-0.9zM324.37 83.81h0.9v0.9h-0.9zM313.53 76.63h0.9v0.9h-0.9zM320.52 86.72h0.9v0.9h-0.9zM324.16 87.23h0.9v0.9h-0.9zM322.33 80.98h0.9v0.9h-0.9zM324.87 77.24h0.9v0.9h-0.9z" fill="#5060c0" opacity="0.6"/>
<g transform="translate(340.8 73.5) rotate(0)" filter="url(#blur06)">
<ellipse cx="0" cy="0" rx="2.8" ry="4.6" fill="#6a78d0" opacity="0.6"/>
<ellipse cx="0" cy="0" rx="1.68" ry="2.76" fill="#4a5ac0" opacity="0.7"/>
</g>
<path d="M318.21 79.99h1v1h-1zM318.57 79.03h1v1h-1zM320.58 80.33h1v1h-1zM323.34 80.79h1v1h-1zM325.33 76.1h1v1h-1zM324.13 80.86h1v1h-1zM331.33 73.12h1v1h-1zM317.78 83.61h1v1h-1zM315.27 77.51h1v1h-1zM320.72 84.94h1v1h-1zM315.91 82.05h1v1h-1zM324.45 80.47h1v1h-1zM323.02 85.7h1v1h-1zM322.35 82.42h1v1h-1zM321.99 85.9h1v1h-1zM322.43 88.68h1v1h-1zM319.84 82.02h1v1h-1zM324.55 84.72h1v1h-1zM320.12 87.35h1v1h-1zM328.07 73.97h1v1h-1zM320.45 85.5h1v1h-1zM323.71 81.35h1v1h-1zM324.59 86.34h1v1h-1zM321.47 79.89h1v1h-1zM325.43 80.41h1v1h-1zM311.35 90.69h1v1h-1zM320.9 91.64h1v1h-1zM322.59 89.79h1v1h-1zM312.15 85.77h1v1h-1zM322.59 89.08h1v1h-1zM311.23 85.39h1v1h-1zM326.22 85.15h1v1h-1zM318.56 87.9h1v1h-1zM316.89 88.82h1v1h-1zM318.71 87.44h1v1h-1zM325.98 78.15h1v1h-1zM307.45 95.71h1v1h-1zM317.19 90.52h1v1h-1zM318.22 94.11h1v1h-1zM324.33 82.95h1v1h-1zM327.28 76.12h1v1h-1zM317.24 87.78h1v1h-1zM314.14 80.46h1v1h-1zM318.64 91.78h1v1h-1zM320.41 79.5h1v1h-1zM319.01 75.86h1v1h-1zM315.35 94.34h1v1h-1zM313 87.73h1v1h-1zM323.64 83.1h1v1h-1zM335.35 78.24h1v1h-1zM319.88 85.09h1v1h-1zM320.69 96.64h1v1h-1zM326.64 89.79h1v1h-1zM318.95 92.29h1v1h-1zM321.01 86.96h1v1h-1zM321.66 82.15h1v1h-1zM310.84 90h1v1h-1zM326.54 74.4h1v1h-1zM321.65 84.73h1v1h-1zM315.2 92.48h1v1h-1zM321.4 82.93h1v1h-1zM318.8 82.58h1v1h-1zM318.89 84.23h1v1h-1zM328.17 92.78h1v1h-1zM311.93 90.74h1v1h-1zM320.46 89.69h1v1h-1zM320.04 89.38h1v1h-1zM317.94 91.83h1v1h-1zM319.07 92.29h1v1h-1zM319.41 83.2h1v1h-1zM315.55 86.83h1v1h-1zM324.68 84.1h1v1h-1zM313.6 96.87h1v1h-1zM328 82.19h1v1h-1zM318.41 86.83h1v1h-1zM319.4 85.89h1v1h-1zM322.98 88.28h1v1h-1zM315.34 84.99h1v1h-1zM320.15 84.58h1v1h-1zM323.87 77.11h1v1h-1zM318.52 80.07h1v1h-1zM326.95 70.28h1v1h-1zM327.91 81.8h1v1h-1zM316.99 85.01h1v1h-1zM309.57 84.83h1v1h-1zM316.44 85.47h1v1h-1zM318.43 84.57h1v1h-1zM321.1 84.52h1v1h-1zM320.65 74h1v1h-1zM315.94 90.28h1v1h-1zM317.49 85.4h1v1h-1zM319.63 86.74h1v1h-1zM328.61 80.01h1v1h-1zM322.16 84.13h1v1h-1zM322.8 79.94h1v1h-1zM322.07 78.15h1v1h-1zM309.29 92.72h1v1h-1zM325.5 88.04h1v1h-1zM326.15 81.71h1v1h-1zM319.18 70.39h1v1h-1zM316.35 90.81h1v1h-1zM324.05 79.9h1v1h-1zM323.48 79.48h1v1h-1zM317.69 80.26h1v1h-1zM322.42 79.93h1v1h-1zM321.46 78.36h1v1h-1zM316.77 90.82h1v1h-1zM312.69 93.47h1v1h-1zM315.37 81.96h1v1h-1zM318.12 81.09h1v1h-1zM319.2 86.93h1v1h-1zM325.82 84.37h1v1h-1zM317.97 80.78h1v1h-1zM323.97 81.93h1v1h-1zM317.62 93.5h1v1h-1zM315.62 82.76h1v1h-1zM330.1 78.23h1v1h-1zM322.13 83.78h1v1h-1zM312.4 86.87h1v1h-1zM323.02 82.71h1v1h-1zM319.87 88.04h1v1h-1zM320.99 88.48h1v1h-1zM325.9 80.12h1v1h-1zM319.19 83.94h1v1h-1zM305.91 87.46h1v1h-1zM323.29 78.93h1v1h-1zM314.89 81.41h1v1h-1zM322.86 81.85h1v1h-1zM322.63 79.57h1v1h-1zM319.04 82.25h1v1h-1zM316.72 85.82h1v1h-1zM319.96 84.56h1v1h-1zM317.65 90.66h1v1h-1zM321.71 86.59h1v1h-1zM323.06 80.47h1v1h-1zM317.55 86.49h1v1h-1zM322.74 83.12h1v1h-1zM322.25 74.8h1v1h-1zM318.24 89.43h1v1h-1zM326.46 79.2h1v1h-1zM319.46 84.79h1v1h-1zM317.07 83.79h1v1h-1zM323.05 80.27h1v1h-1zM314.61 85.09h1v1h-1zM324.78 81.25h1v1h-1zM314.98 85.93h1v1h-1zM323.49 84.29h1v1h-1zM326.21 86.52h1v1h-1zM314.18 86.7h1v1h-1zM319.11 85.38h1v1h-1zM324.28 80.07h1v1h-1zM318.15 80.88h1v1h-1zM328.09 83.04h1v1h-1zM323.84 88.21h1v1h-1zM316.8 83.03h1v1h-1zM325.4 81.66h1v1h-1zM313.67 81.2h1v1h-1zM316.23 83.78h1v1h-1zM315.95 79.53h1v1h-1zM323.52 76.17h1v1h-1z" fill="#3f4fc0" opacity="0.75"/>
<g transform="translate(321.3 84.8) rotate(38)" filter="url(#blur06)">
<ellipse cx="0" cy="0" rx="6.27" ry="9.69" fill="#4a5cc8" opacity="0.8"/>
<ellipse cx="0" cy="0" rx="4.75" ry="7.34" fill="#3b78c4" opacity="0.9"/>
<ellipse cx="0" cy="0" rx="3.63" ry="5.61" fill="#38a0a0" opacity="0.95"/>
<ellipse cx="0" cy="0" rx="2.64" ry="4.08" fill="#5cb854" opacity="1"/>
<ellipse cx="0" cy="0" rx="1.58" ry="2.45" fill="#b8c234" opacity="1"/>
<ellipse cx="0" cy="0" rx="0.73" ry="1.12" fill="#d8a024" opacity="1"/>
</g>
<line x1="60.6" y1="34.8" x2="60.6" y2="102.4" stroke="#2a2a2a" stroke-width="1"/>
<line x1="32" y1="69.4" x2="99.6" y2="69.4" stroke="#2a2a2a" stroke-width="1"/>
<line x1="146.6" y1="34.8" x2="146.6" y2="102.4" stroke="#2a2a2a" stroke-width="1"/>
<line x1="118.6" y1="69.4" x2="185.6" y2="69.4" stroke="#2a2a2a" stroke-width="1"/>
<line x1="249.1" y1="34.8" x2="249.1" y2="102.4" stroke="#2a2a2a" stroke-width="1"/>
<line x1="220.8" y1="69.4" x2="288" y2="69.4" stroke="#2a2a2a" stroke-width="1"/>
<line x1="335.2" y1="34.8" x2="335.2" y2="102.4" stroke="#2a2a2a" stroke-width="1"/>
<line x1="307.4" y1="69.4" x2="374" y2="69.4" stroke="#2a2a2a" stroke-width="1"/>
<text x="77.2" y="99.8" font-size="7.4" text-anchor="start" fill="#444" stroke="#444" font-weight="normal" font-style="normal" textLength="7.4" lengthAdjust="spacingAndGlyphs">3%</text>
<text x="160.5" y="99.8" font-size="7.4" text-anchor="start" fill="#444" stroke="#444" font-weight="normal" font-style="normal" textLength="10.6" lengthAdjust="spacingAndGlyphs">37%</text>
<text x="267.2" y="99.8" font-size="7.4" text-anchor="start" fill="#444" stroke="#444" font-weight="normal" font-style="normal" textLength="7.4" lengthAdjust="spacingAndGlyphs">1%</text>
<text x="353.8" y="99.8" font-size="7.4" text-anchor="start" fill="#444" stroke="#444" font-weight="normal" font-style="normal" textLength="7.4" lengthAdjust="spacingAndGlyphs">5%</text>
<text transform="translate(15.2 77.9) rotate(-90)" font-size="9.8" text-anchor="middle" fill="#303030" stroke="#303030" font-style="normal" font-weight="normal" textLength="33.5" lengthAdjust="spacingAndGlyphs">Annexin V</text>
<text transform="translate(204.3 77.5) rotate(-90)" font-size="9.8" text-anchor="middle" fill="#303030" stroke="#303030" font-style="normal" font-weight="normal" textLength="33" lengthAdjust="spacingAndGlyphs">Annexin V</text>
<path d="M13.6 100.6 V121.3 H34.6" fill="none" stroke="#222" stroke-width="1.1"/>
<path d="M13.6 98.6 l-2.2 4 h4.4 z" fill="#222"/>
<path d="M36.6 121.3 l-4 -2.2 v4.4 z" fill="#222"/>
<path d="M201.1 100.8 V121.3 H222.3" fill="none" stroke="#222" stroke-width="1.1"/>
<path d="M201.1 98.8 l-2.2 4 h4.4 z" fill="#222"/>
<path d="M224.3 121.3 l-4 -2.2 v4.4 z" fill="#222"/>
<text x="43.8" y="123.6" font-size="8.8" text-anchor="start" fill="#303030" stroke="#303030" font-weight="normal" font-style="normal" textLength="37" lengthAdjust="spacingAndGlyphs">SYTOX blue</text>
<text x="231.2" y="123.8" font-size="8.8" text-anchor="start" fill="#303030" stroke="#303030" font-weight="normal" font-style="normal" textLength="37.4" lengthAdjust="spacingAndGlyphs">SYTOX blue</text>
<text x="389.8" y="16.2" font-size="11.4" text-anchor="start" fill="#111" stroke="#111" font-weight="bold" font-style="normal">B</text>
<line x1="422.4" y1="28" x2="422.4" y2="92.3" stroke="#303030" stroke-width="1.6"/>
<line x1="419.5" y1="91.5" x2="422.4" y2="91.5" stroke="#303030" stroke-width="1.3"/>
<text x="416.6" y="94.3" font-size="7.8" text-anchor="end" fill="#333" stroke="#333" font-weight="normal" font-style="normal">0</text>
<line x1="419.5" y1="79.2" x2="422.4" y2="79.2" stroke="#303030" stroke-width="1.3"/>
<text x="416.6" y="82" font-size="7.8" text-anchor="end" fill="#333" stroke="#333" font-weight="normal" font-style="normal">20</text>
<line x1="419.5" y1="66.9" x2="422.4" y2="66.9" stroke="#303030" stroke-width="1.3"/>
<text x="416.6" y="69.7" font-size="7.8" text-anchor="end" fill="#333" stroke="#333" font-weight="normal" font-style="normal">40</text>
<line x1="419.5" y1="54.6" x2="422.4" y2="54.6" stroke="#303030" stroke-width="1.3"/>
<text x="416.6" y="57.4" font-size="7.8" text-anchor="end" fill="#333" stroke="#333" font-weight="normal" font-style="normal">60</text>
<line x1="419.5" y1="42.3" x2="422.4" y2="42.3" stroke="#303030" stroke-width="1.3"/>
<text x="416.6" y="45.1" font-size="7.8" text-anchor="end" fill="#333" stroke="#333" font-weight="normal" font-style="normal">80</text>
<line x1="419.5" y1="30" x2="422.4" y2="30" stroke="#303030" stroke-width="1.3"/>
<text x="416.6" y="32.8" font-size="7.8" text-anchor="end" fill="#333" stroke="#333" font-weight="normal" font-style="normal" textLength="11.8" lengthAdjust="spacingAndGlyphs">100</text>
<line x1="435.1" y1="30.62" x2="435.1" y2="36.77" stroke="#333" stroke-width="1.1"/>
<line x1="432.35" y1="30.62" x2="437.85" y2="30.62" stroke="#333" stroke-width="1.1"/>
<rect x="428.8" y="36.77" width="12.6" height="54.73" fill="#0f4c8c"/>
<line x1="457.2" y1="54.6" x2="457.2" y2="57.06" stroke="#333" stroke-width="1.1"/>
<line x1="454.45" y1="54.6" x2="459.95" y2="54.6" stroke="#333" stroke-width="1.1"/>
<rect x="450.4" y="57.06" width="13.6" height="34.44" fill="url(#pStripeB)"/>
<line x1="478.4" y1="29.69" x2="478.4" y2="32.46" stroke="#333" stroke-width="1.1"/>
<line x1="475.65" y1="29.69" x2="481.15" y2="29.69" stroke="#333" stroke-width="1.1"/>
<rect x="472" y="32.46" width="12.8" height="59.04" fill="#c2031f"/>
<line x1="500.45" y1="31.23" x2="500.45" y2="32.46" stroke="#333" stroke-width="1.1"/>
<line x1="497.7" y1="31.23" x2="503.2" y2="31.23" stroke="#333" stroke-width="1.1"/>
<rect x="494" y="32.46" width="12.9" height="59.04" fill="url(#pStripeR)"/>
<line x1="421.6" y1="91.5" x2="512.8" y2="91.5" stroke="#303030" stroke-width="1.6"/>
<line x1="435.1" y1="91.5" x2="435.1" y2="94.1" stroke="#303030" stroke-width="1.2"/>
<line x1="457.2" y1="91.5" x2="457.2" y2="94.1" stroke="#303030" stroke-width="1.2"/>
<line x1="478.4" y1="91.5" x2="478.4" y2="94.1" stroke="#303030" stroke-width="1.2"/>
<line x1="500.45" y1="91.5" x2="500.45" y2="94.1" stroke="#303030" stroke-width="1.2"/>
<text transform="translate(397.6 59.3) rotate(-90)" font-size="9.4" text-anchor="middle" fill="#303030" stroke="#303030" font-style="normal" font-weight="normal" textLength="53.4" lengthAdjust="spacingAndGlyphs">Cell viability (%)</text>
<line x1="434.4" y1="24.3" x2="457.3" y2="24.3" stroke="#333" stroke-width="1.1"/>
<line x1="434.4" y1="23.3" x2="434.4" y2="25.3" stroke="#333" stroke-width="1.1"/>
<line x1="457.3" y1="23.3" x2="457.3" y2="25.3" stroke="#333" stroke-width="1.1"/>
<text x="444.15" y="23.6" font-size="7.5" text-anchor="middle" fill="#333" stroke="#333" font-weight="bold" font-style="normal">*</text>
<text x="447.65" y="23.6" font-size="7.5" text-anchor="middle" fill="#333" stroke="#333" font-weight="bold" font-style="normal">*</text>
<line x1="477.3" y1="24.3" x2="500.5" y2="24.3" stroke="#333" stroke-width="1.1"/>
<line x1="477.3" y1="23.3" x2="477.3" y2="25.3" stroke="#333" stroke-width="1.1"/>
<line x1="500.5" y1="23.3" x2="500.5" y2="25.3" stroke="#333" stroke-width="1.1"/>
<text x="483.5" y="21.7" font-size="8.2" text-anchor="start" fill="#303030" stroke="#303030" font-weight="normal" font-style="normal" textLength="10.5" lengthAdjust="spacingAndGlyphs">NS</text>
<text x="447.7" y="46.1" font-size="8.2" text-anchor="start" fill="#333" stroke="#333" font-weight="normal" font-style="normal">n</text>
<text x="457.22" y="46.1" font-size="8.2" text-anchor="middle" fill="#333" stroke="#333" font-weight="normal" font-style="normal">=</text>
<text x="466" y="46.1" font-size="8.2" text-anchor="end" fill="#333" stroke="#333" font-weight="normal" font-style="normal">3</text>
<text transform="translate(439.2 102.6) rotate(-45)" font-size="9.4" text-anchor="end" fill="#333" stroke="#333" font-style="normal" font-weight="normal" textLength="23.2" lengthAdjust="spacingAndGlyphs">DMSO</text>
<text transform="translate(462.2 102.6) rotate(-45)" font-size="9.4" text-anchor="end" fill="#333" stroke="#333" font-style="normal" font-weight="normal" textLength="36" lengthAdjust="spacingAndGlyphs">3μM RSL3</text>
<text transform="translate(483.2 102.6) rotate(-45)" font-size="9.4" text-anchor="end" fill="#333" stroke="#333" font-style="normal" font-weight="normal" textLength="23.2" lengthAdjust="spacingAndGlyphs">DMSO</text>
<text transform="translate(505.8 102.6) rotate(-45)" font-size="9.4" text-anchor="end" fill="#333" stroke="#333" font-style="normal" font-weight="normal" textLength="36" lengthAdjust="spacingAndGlyphs">3μM RSL3</text>
<line x1="419.5" y1="132.2" x2="459" y2="132.2" stroke="#555" stroke-width="1.2"/>
<line x1="472.8" y1="132.2" x2="511.5" y2="132.2" stroke="#555" stroke-width="1.2"/>
<text x="418.5" y="143.2" font-size="9.2" fill="#3a629a" stroke="#3a629a" font-style="italic" text-anchor="start" textLength="42.2" lengthAdjust="spacingAndGlyphs">Gadd45a<tspan font-size="6.62" dy="-3.31" dx="0.6">+/+</tspan></text>
<text x="473" y="143.2" font-size="9.2" fill="#c42a48" stroke="#c42a48" font-style="italic" text-anchor="start" textLength="39.5" lengthAdjust="spacingAndGlyphs">Gadd45a<tspan font-size="6.62" dy="-3.31" dx="0.6">–/–</tspan></text>
<text x="7.6" y="169.8" font-size="11.4" text-anchor="start" fill="#111" stroke="#111" font-weight="bold" font-style="normal">C</text>
<line x1="50.9" y1="187.8" x2="50.9" y2="254.4" stroke="#303030" stroke-width="1.6"/>
<line x1="48" y1="253.6" x2="50.9" y2="253.6" stroke="#303030" stroke-width="1.3"/>
<text x="45.1" y="256.4" font-size="7.8" text-anchor="end" fill="#333" stroke="#333" font-weight="normal" font-style="normal">0</text>
<line x1="48" y1="240.94" x2="50.9" y2="240.94" stroke="#303030" stroke-width="1.3"/>
<text x="45.1" y="243.74" font-size="7.8" text-anchor="end" fill="#333" stroke="#333" font-weight="normal" font-style="normal">20</text>
<line x1="48" y1="228.28" x2="50.9" y2="228.28" stroke="#303030" stroke-width="1.3"/>
<text x="45.1" y="231.08" font-size="7.8" text-anchor="end" fill="#333" stroke="#333" font-weight="normal" font-style="normal">40</text>
<line x1="48" y1="215.62" x2="50.9" y2="215.62" stroke="#303030" stroke-width="1.3"/>
<text x="45.1" y="218.42" font-size="7.8" text-anchor="end" fill="#333" stroke="#333" font-weight="normal" font-style="normal">60</text>
<line x1="48" y1="202.96" x2="50.9" y2="202.96" stroke="#303030" stroke-width="1.3"/>
<text x="45.1" y="205.76" font-size="7.8" text-anchor="end" fill="#333" stroke="#333" font-weight="normal" font-style="normal">80</text>
<line x1="48" y1="190.3" x2="50.9" y2="190.3" stroke="#303030" stroke-width="1.3"/>
<text x="45.1" y="193.1" font-size="7.8" text-anchor="end" fill="#333" stroke="#333" font-weight="normal" font-style="normal" textLength="11.8" lengthAdjust="spacingAndGlyphs">100</text>
<line x1="50.1" y1="253.6" x2="115.8" y2="253.6" stroke="#303030" stroke-width="1.6"/>
<line x1="67.2" y1="253.6" x2="67.2" y2="256.2" stroke="#303030" stroke-width="1.2"/>
<line x1="100" y1="253.6" x2="100" y2="256.2" stroke="#303030" stroke-width="1.2"/>
<text transform="translate(15.4 221.3) rotate(-90)" font-size="9.4" text-anchor="middle" fill="#333" stroke="#333" font-style="normal" font-weight="normal" textLength="63.5" lengthAdjust="spacingAndGlyphs"><tspan font-style="italic">In vivo</tspan> BrdU<tspan font-size="5" dy="-3">+</tspan><tspan dy="3"> DAPI</tspan><tspan font-size="5" dy="-3">–</tspan></text>
<text transform="translate(26.2 221) rotate(-90)" font-size="9.4" text-anchor="middle" fill="#333" stroke="#333" font-style="normal" font-weight="normal" textLength="58.8" lengthAdjust="spacingAndGlyphs">cells (% of DMSO)</text>
<line x1="56.8" y1="199.48" x2="77.6" y2="199.48" stroke="#2a2a2a" stroke-width="1.2"/>
<line x1="67" y1="190.43" x2="67" y2="208.34" stroke="#2a2a2a" stroke-width="1.1"/>
<line x1="61.6" y1="190.43" x2="72.8" y2="190.43" stroke="#2a2a2a" stroke-width="1.2"/>
<line x1="61.6" y1="208.34" x2="72.8" y2="208.34" stroke="#2a2a2a" stroke-width="1.2"/>
<rect x="63.85" y="190.73" width="2.3" height="2.3" fill="#264a74"/>
<path d="M69 189.89 l1.3 2.34 h-2.6 z" fill="#264a74" stroke="#264a74" stroke-width="0.8"/>
<circle cx="67" cy="203.91" r="1.3" fill="#264a74"/>
<circle cx="67" cy="207.71" r="1.2" fill="#264a74"/>
<line x1="89.2" y1="227.96" x2="110.8" y2="227.96" stroke="#2a2a2a" stroke-width="1.2"/>
<line x1="100" y1="221.32" x2="100" y2="234.61" stroke="#2a2a2a" stroke-width="1.1"/>
<line x1="94.5" y1="221.32" x2="105.4" y2="221.32" stroke="#2a2a2a" stroke-width="1.2"/>
<line x1="94.5" y1="234.61" x2="105.4" y2="234.61" stroke="#2a2a2a" stroke-width="1.2"/>
<path d="M100 215.76 l1.6 2.88 h-3.2 z" fill="none" stroke="#3c6a9e" stroke-width="0.9"/>
<path d="M93.2 227.79 l1.6 2.88 h-3.2 z" fill="none" stroke="#3c6a9e" stroke-width="0.9"/>
<path d="M100 228.61 l1.6 2.88 h-3.2 z" fill="#3c6a9e" stroke="#3c6a9e" stroke-width="0.9"/>
<path d="M106.6 228.61 l1.6 2.88 h-3.2 z" fill="none" stroke="#3c6a9e" stroke-width="0.9"/>
<path d="M93.8 232.22 l1.6 2.88 h-3.2 z" fill="none" stroke="#3c6a9e" stroke-width="0.9"/>
<path d="M97.2 232.08 l1.4 2.52 h-2.8 z" fill="none" stroke="#3c6a9e" stroke-width="0.9"/>
<path d="M102.8 232.08 l1.4 2.52 h-2.8 z" fill="none" stroke="#3c6a9e" stroke-width="0.9"/>
<path d="M66.5 186 V181.5 H100.4 V206" fill="none" stroke="#444" stroke-width="1.1"/>
<text x="80.1" y="180" font-size="8.6" text-anchor="middle" fill="#333" stroke="#333" font-weight="bold" font-style="normal">*</text>
<text x="83.6" y="180" font-size="8.6" text-anchor="middle" fill="#333" stroke="#333" font-weight="bold" font-style="normal">*</text>
<text x="87.1" y="180" font-size="8.6" text-anchor="middle" fill="#333" stroke="#333" font-weight="bold" font-style="normal">*</text>
<text transform="translate(71.9 265.6) rotate(-45)" font-size="9.4" text-anchor="end" fill="#333" stroke="#333" font-style="normal" font-weight="normal" textLength="23.2" lengthAdjust="spacingAndGlyphs">DMSO</text>
<text transform="translate(104.8 265.6) rotate(-45)" font-size="9.4" text-anchor="end" fill="#333" stroke="#333" font-style="normal" font-weight="normal" textLength="36" lengthAdjust="spacingAndGlyphs">3μM RSL3</text>
<line x1="54.2" y1="294.5" x2="112.7" y2="294.5" stroke="#555" stroke-width="1.2"/>
<text x="62.5" y="305.6" font-size="9" fill="#3a629a" stroke="#3a629a" font-style="italic" text-anchor="start" textLength="42.4" lengthAdjust="spacingAndGlyphs">Gadd45a<tspan font-size="6.48" dy="-3.24" dx="0.6">+/+</tspan></text>
<line x1="175.8" y1="188" x2="175.8" y2="254.6" stroke="#303030" stroke-width="1.6"/>
<line x1="172.9" y1="253.8" x2="175.8" y2="253.8" stroke="#303030" stroke-width="1.3"/>
<text x="170" y="256.6" font-size="7.8" text-anchor="end" fill="#333" stroke="#333" font-weight="normal" font-style="normal">0</text>
<line x1="172.9" y1="241.04" x2="175.8" y2="241.04" stroke="#303030" stroke-width="1.3"/>
<text x="170" y="243.84" font-size="7.8" text-anchor="end" fill="#333" stroke="#333" font-weight="normal" font-style="normal">20</text>
<line x1="172.9" y1="228.28" x2="175.8" y2="228.28" stroke="#303030" stroke-width="1.3"/>
<text x="170" y="231.08" font-size="7.8" text-anchor="end" fill="#333" stroke="#333" font-weight="normal" font-style="normal">40</text>
<line x1="172.9" y1="215.52" x2="175.8" y2="215.52" stroke="#303030" stroke-width="1.3"/>
<text x="170" y="218.32" font-size="7.8" text-anchor="end" fill="#333" stroke="#333" font-weight="normal" font-style="normal">60</text>
<line x1="172.9" y1="202.76" x2="175.8" y2="202.76" stroke="#303030" stroke-width="1.3"/>
<text x="170" y="205.56" font-size="7.8" text-anchor="end" fill="#333" stroke="#333" font-weight="normal" font-style="normal">80</text>
<line x1="172.9" y1="190" x2="175.8" y2="190" stroke="#303030" stroke-width="1.3"/>
<text x="170" y="192.8" font-size="7.8" text-anchor="end" fill="#333" stroke="#333" font-weight="normal" font-style="normal" textLength="11.8" lengthAdjust="spacingAndGlyphs">100</text>
<line x1="175" y1="253.8" x2="241" y2="253.8" stroke="#303030" stroke-width="1.6"/>
<line x1="191.4" y1="253.8" x2="191.4" y2="256.4" stroke="#303030" stroke-width="1.2"/>
<line x1="224.5" y1="253.8" x2="224.5" y2="256.4" stroke="#303030" stroke-width="1.2"/>
<text transform="translate(140.8 221.9) rotate(-90)" font-size="9.4" text-anchor="middle" fill="#333" stroke="#333" font-style="normal" font-weight="normal" textLength="63.5" lengthAdjust="spacingAndGlyphs"><tspan font-style="italic">In vivo</tspan> BrdU<tspan font-size="5" dy="-3">+</tspan><tspan dy="3"> DAPI</tspan><tspan font-size="5" dy="-3">–</tspan></text>
<text transform="translate(150.7 221.6) rotate(-90)" font-size="9.4" text-anchor="middle" fill="#333" stroke="#333" font-style="normal" font-weight="normal" textLength="59.5" lengthAdjust="spacingAndGlyphs">cells (% of DMSO)</text>
<line x1="182" y1="201.16" x2="202.7" y2="201.16" stroke="#8c1c30" stroke-width="1.2"/>
<line x1="191.5" y1="193.19" x2="191.5" y2="209.27" stroke="#8c1c30" stroke-width="1.1"/>
<line x1="186.3" y1="193.19" x2="196.7" y2="193.19" stroke="#8c1c30" stroke-width="1.2"/>
<line x1="186.3" y1="209.27" x2="196.7" y2="209.27" stroke="#8c1c30" stroke-width="1.2"/>
<circle cx="191.5" cy="190.13" r="1.3" fill="#b8203c"/>
<circle cx="188.8" cy="202.44" r="1.3" fill="#b8203c"/>
<circle cx="194.2" cy="202.44" r="1.3" fill="#b8203c"/>
<circle cx="191.5" cy="209.27" r="1.3" fill="#b8203c"/>
<line x1="213.7" y1="208.82" x2="234.9" y2="208.82" stroke="#8c1c30" stroke-width="1.2"/>
<line x1="224.5" y1="204.36" x2="224.5" y2="213.29" stroke="#8c1c30" stroke-width="1.1"/>
<line x1="219.5" y1="204.36" x2="229.5" y2="204.36" stroke="#8c1c30" stroke-width="1.2"/>
<line x1="219.5" y1="213.29" x2="229.5" y2="213.29" stroke="#8c1c30" stroke-width="1.2"/>
<path d="M224.2 202.23 l1.3 2.34 h-2.6 z" fill="#b8203c" stroke="#b8203c" stroke-width="0.8"/>
<circle cx="221" cy="213.93" r="1.3" fill="#b8203c"/>
<path d="M227.8 210.84 l1.3 2.34 h-2.6 z" fill="none" stroke="#b8203c" stroke-width="0.8"/>
<path d="M224.2 207.74 l1.2 2.16 h-2.4 z" fill="#b8203c" stroke="#b8203c" stroke-width="0.8"/>
<line x1="191.2" y1="182" x2="225.2" y2="182" stroke="#333" stroke-width="1.1"/>
<line x1="191.2" y1="181" x2="191.2" y2="183" stroke="#333" stroke-width="1.1"/>
<line x1="225.2" y1="181" x2="225.2" y2="183" stroke="#333" stroke-width="1.1"/>
<text x="208" y="180" font-size="8.2" text-anchor="middle" fill="#303030" stroke="#303030" font-weight="normal" font-style="normal" textLength="10.5" lengthAdjust="spacingAndGlyphs">NS</text>
<text transform="translate(195.8 265) rotate(-45)" font-size="9.4" text-anchor="end" fill="#333" stroke="#333" font-style="normal" font-weight="normal" textLength="23.2" lengthAdjust="spacingAndGlyphs">DMSO</text>
<text transform="translate(226.8 265) rotate(-45)" font-size="9.4" text-anchor="end" fill="#333" stroke="#333" font-style="normal" font-weight="normal" textLength="36" lengthAdjust="spacingAndGlyphs">3μM RSL3</text>
<line x1="175.8" y1="294.2" x2="234" y2="294.2" stroke="#555" stroke-width="1.2"/>
<text x="185" y="305.6" font-size="9" fill="#c42a48" stroke="#c42a48" font-style="italic" text-anchor="start" textLength="39.5" lengthAdjust="spacingAndGlyphs">Gadd45a<tspan font-size="6.48" dy="-3.24" dx="0.6">–/–</tspan></text>
<text x="256.6" y="170.1" font-size="11.4" text-anchor="start" fill="#111" stroke="#111" font-weight="bold" font-style="normal">D</text>
<line x1="297.7" y1="187.9" x2="297.7" y2="254.6" stroke="#303030" stroke-width="1.6"/>
<line x1="294.8" y1="253.8" x2="297.7" y2="253.8" stroke="#303030" stroke-width="1.3"/>
<text x="291.9" y="256.6" font-size="7.8" text-anchor="end" fill="#333" stroke="#333" font-weight="normal" font-style="normal">0.0</text>
<line x1="294.8" y1="237.9" x2="297.7" y2="237.9" stroke="#303030" stroke-width="1.3"/>
<text x="291.9" y="240.7" font-size="7.8" text-anchor="end" fill="#333" stroke="#333" font-weight="normal" font-style="normal">0.5</text>
<line x1="294.8" y1="222" x2="297.7" y2="222" stroke="#303030" stroke-width="1.3"/>
<text x="291.9" y="224.8" font-size="7.8" text-anchor="end" fill="#333" stroke="#333" font-weight="normal" font-style="normal">1.0</text>
<line x1="294.8" y1="206.1" x2="297.7" y2="206.1" stroke="#303030" stroke-width="1.3"/>
<text x="291.9" y="208.9" font-size="7.8" text-anchor="end" fill="#333" stroke="#333" font-weight="normal" font-style="normal">1.5</text>
<line x1="294.8" y1="190.2" x2="297.7" y2="190.2" stroke="#303030" stroke-width="1.3"/>
<text x="291.9" y="193" font-size="7.8" text-anchor="end" fill="#333" stroke="#333" font-weight="normal" font-style="normal">2.0</text>
<text transform="translate(264.5 220.6) rotate(-90)" font-size="9.6" text-anchor="middle" fill="#333" stroke="#333" font-style="normal" font-weight="normal" textLength="73" lengthAdjust="spacingAndGlyphs"><tspan font-style="italic">Gadd45a</tspan> mRNA levels</text>
<text transform="translate(275.3 220.3) rotate(-90)" font-size="9.6" text-anchor="middle" fill="#333" stroke="#333" font-style="normal" font-weight="normal" textLength="65" lengthAdjust="spacingAndGlyphs">(relative to <tspan font-style="italic">Gapdh</tspan>)</text>
<line x1="315.95" y1="215.64" x2="315.95" y2="222" stroke="#333" stroke-width="1.1"/>
<line x1="313.2" y1="215.64" x2="318.7" y2="215.64" stroke="#333" stroke-width="1.1"/>
<rect x="309.2" y="222" width="13.5" height="31.8" fill="#0f4c8c"/>
<line x1="342.75" y1="193.38" x2="342.75" y2="199.42" stroke="#333" stroke-width="1.1"/>
<line x1="340" y1="193.38" x2="345.5" y2="193.38" stroke="#333" stroke-width="1.1"/>
<rect x="335.6" y="199.42" width="14.3" height="54.38" fill="url(#pCheckB)"/>
<line x1="296.9" y1="253.8" x2="358.6" y2="253.8" stroke="#303030" stroke-width="1.6"/>
<line x1="316" y1="253.8" x2="316" y2="256.4" stroke="#303030" stroke-width="1.2"/>
<line x1="342.6" y1="253.8" x2="342.6" y2="256.4" stroke="#303030" stroke-width="1.2"/>
<line x1="316.3" y1="187" x2="342.3" y2="187" stroke="#333" stroke-width="1.1"/>
<line x1="316.3" y1="186" x2="316.3" y2="188" stroke="#333" stroke-width="1.1"/>
<line x1="342.3" y1="186" x2="342.3" y2="188" stroke="#333" stroke-width="1.1"/>
<text x="327.05" y="186" font-size="7.5" text-anchor="middle" fill="#333" stroke="#333" font-weight="bold" font-style="normal">*</text>
<text x="330.55" y="186" font-size="7.5" text-anchor="middle" fill="#333" stroke="#333" font-weight="bold" font-style="normal">*</text>
<text x="307.3" y="207.5" font-size="8.2" text-anchor="start" fill="#333" stroke="#333" font-weight="normal" font-style="normal">n</text>
<text x="316.71" y="207.5" font-size="8.2" text-anchor="middle" fill="#333" stroke="#333" font-weight="normal" font-style="normal">=</text>
<text x="325.4" y="207.5" font-size="8.2" text-anchor="end" fill="#333" stroke="#333" font-weight="normal" font-style="normal">3</text>
<text transform="translate(319.8 265) rotate(-45)" font-size="9.4" text-anchor="end" fill="#333" stroke="#333" font-style="normal" font-weight="normal" textLength="23.2" lengthAdjust="spacingAndGlyphs">DMSO</text>
<text transform="translate(346.8 265) rotate(-45)" font-size="9.4" text-anchor="end" fill="#333" stroke="#333" font-style="normal" font-weight="normal" textLength="36" lengthAdjust="spacingAndGlyphs">3μM RSL3</text>
<line x1="299.4" y1="294.2" x2="347.2" y2="294.2" stroke="#555" stroke-width="1.2"/>
<text x="302.3" y="305.5" font-size="9" fill="#3a629a" stroke="#3a629a" font-style="italic" text-anchor="start" textLength="41.5" lengthAdjust="spacingAndGlyphs">Gadd45a<tspan font-size="6.48" dy="-3.24" dx="0.6">+/+</tspan></text>
<line x1="416.5" y1="188.7" x2="416.5" y2="254.8" stroke="#303030" stroke-width="1.6"/>
<line x1="413.6" y1="254" x2="416.5" y2="254" stroke="#303030" stroke-width="1.3"/>
<text x="410.7" y="256.8" font-size="7.8" text-anchor="end" fill="#333" stroke="#333" font-weight="normal" font-style="normal">0.0</text>
<line x1="413.6" y1="238.3" x2="416.5" y2="238.3" stroke="#303030" stroke-width="1.3"/>
<text x="410.7" y="241.1" font-size="7.8" text-anchor="end" fill="#333" stroke="#333" font-weight="normal" font-style="normal">0.3</text>
<line x1="413.6" y1="222.6" x2="416.5" y2="222.6" stroke="#303030" stroke-width="1.3"/>
<text x="410.7" y="225.4" font-size="7.8" text-anchor="end" fill="#333" stroke="#333" font-weight="normal" font-style="normal">0.6</text>
<line x1="413.6" y1="206.9" x2="416.5" y2="206.9" stroke="#303030" stroke-width="1.3"/>
<text x="410.7" y="209.7" font-size="7.8" text-anchor="end" fill="#333" stroke="#333" font-weight="normal" font-style="normal">0.9</text>
<line x1="413.6" y1="191.2" x2="416.5" y2="191.2" stroke="#303030" stroke-width="1.3"/>
<text x="410.7" y="194" font-size="7.8" text-anchor="end" fill="#333" stroke="#333" font-weight="normal" font-style="normal">1.2</text>
<text transform="translate(382.8 221) rotate(-90)" font-size="9.6" text-anchor="middle" fill="#333" stroke="#333" font-style="normal" font-weight="normal" textLength="58.5" lengthAdjust="spacingAndGlyphs"><tspan font-style="italic">Fth1</tspan> mRNA levels</text>
<text transform="translate(393 221) rotate(-90)" font-size="9.6" text-anchor="middle" fill="#333" stroke="#333" font-style="normal" font-weight="normal" textLength="62" lengthAdjust="spacingAndGlyphs">(relative to <tspan font-style="italic">Gapdh</tspan>)</text>
<line x1="430" y1="201.67" x2="430" y2="207.95" stroke="#333" stroke-width="1.1"/>
<line x1="427.25" y1="201.67" x2="432.75" y2="201.67" stroke="#333" stroke-width="1.1"/>
<rect x="424.2" y="207.95" width="11.6" height="46.05" fill="#0f4c8c"/>
<line x1="449.25" y1="232.54" x2="449.25" y2="239.35" stroke="#333" stroke-width="1.1"/>
<line x1="446.5" y1="232.54" x2="452" y2="232.54" stroke="#333" stroke-width="1.1"/>
<rect x="443.5" y="239.35" width="11.5" height="14.65" fill="url(#pCheckB)"/>
<line x1="468.05" y1="199.57" x2="468.05" y2="203.76" stroke="#333" stroke-width="1.1"/>
<line x1="465.3" y1="199.57" x2="470.8" y2="199.57" stroke="#333" stroke-width="1.1"/>
<rect x="462.3" y="203.76" width="11.5" height="50.24" fill="#c2031f"/>
<line x1="487.1" y1="192.77" x2="487.1" y2="196.43" stroke="#333" stroke-width="1.1"/>
<line x1="484.35" y1="192.77" x2="489.85" y2="192.77" stroke="#333" stroke-width="1.1"/>
<rect x="481.2" y="196.43" width="11.8" height="57.57" fill="url(#pCheckR)"/>
<line x1="415.7" y1="254" x2="500" y2="254" stroke="#303030" stroke-width="1.6"/>
<line x1="430" y1="254" x2="430" y2="256.6" stroke="#303030" stroke-width="1.2"/>
<line x1="449.25" y1="254" x2="449.25" y2="256.6" stroke="#303030" stroke-width="1.2"/>
<line x1="468.05" y1="254" x2="468.05" y2="256.6" stroke="#303030" stroke-width="1.2"/>
<line x1="487.1" y1="254" x2="487.1" y2="256.6" stroke="#303030" stroke-width="1.2"/>
<line x1="429.6" y1="193.1" x2="449.6" y2="193.1" stroke="#333" stroke-width="1.1"/>
<line x1="429.6" y1="192.1" x2="429.6" y2="194.1" stroke="#333" stroke-width="1.1"/>
<line x1="449.6" y1="192.1" x2="449.6" y2="194.1" stroke="#333" stroke-width="1.1"/>
<text x="437.85" y="192" font-size="7.5" text-anchor="middle" fill="#333" stroke="#333" font-weight="bold" font-style="normal">*</text>
<text x="441.35" y="192" font-size="7.5" text-anchor="middle" fill="#333" stroke="#333" font-weight="bold" font-style="normal">*</text>
<line x1="467.4" y1="185.8" x2="487.4" y2="185.8" stroke="#333" stroke-width="1.1"/>
<line x1="467.4" y1="184.8" x2="467.4" y2="186.8" stroke="#333" stroke-width="1.1"/>
<line x1="487.4" y1="184.8" x2="487.4" y2="186.8" stroke="#333" stroke-width="1.1"/>
<text x="472.3" y="183.6" font-size="8.2" text-anchor="start" fill="#303030" stroke="#303030" font-weight="normal" font-style="normal" textLength="10.5" lengthAdjust="spacingAndGlyphs">NS</text>
<text x="439.6" y="217.6" font-size="8.2" text-anchor="start" fill="#333" stroke="#333" font-weight="normal" font-style="normal">n</text>
<text x="449.12" y="217.6" font-size="8.2" text-anchor="middle" fill="#333" stroke="#333" font-weight="normal" font-style="normal">=</text>
<text x="457.9" y="217.6" font-size="8.2" text-anchor="end" fill="#333" stroke="#333" font-weight="normal" font-style="normal">3</text>
<text transform="translate(433.8 265.7) rotate(-45)" font-size="9.4" text-anchor="end" fill="#333" stroke="#333" font-style="normal" font-weight="normal" textLength="23.2" lengthAdjust="spacingAndGlyphs">DMSO</text>
<text transform="translate(453.2 265.7) rotate(-45)" font-size="9.4" text-anchor="end" fill="#333" stroke="#333" font-style="normal" font-weight="normal" textLength="36" lengthAdjust="spacingAndGlyphs">3μM RSL3</text>
<text transform="translate(471.3 265.7) rotate(-45)" font-size="9.4" text-anchor="end" fill="#333" stroke="#333" font-style="normal" font-weight="normal" textLength="23.2" lengthAdjust="spacingAndGlyphs">DMSO</text>
<text transform="translate(491.2 265.7) rotate(-45)" font-size="9.4" text-anchor="end" fill="#333" stroke="#333" font-style="normal" font-weight="normal" textLength="36" lengthAdjust="spacingAndGlyphs">3μM RSL3</text>
<line x1="409.2" y1="294.2" x2="445.9" y2="294.2" stroke="#555" stroke-width="1.2"/>
<line x1="461" y1="294.2" x2="497" y2="294.2" stroke="#555" stroke-width="1.2"/>
<text x="406.9" y="305.5" font-size="9" fill="#3a629a" stroke="#3a629a" font-style="italic" text-anchor="start" textLength="41" lengthAdjust="spacingAndGlyphs">Gadd45a<tspan font-size="6.48" dy="-3.24" dx="0.6">+/+</tspan></text>
<text x="462" y="305.5" font-size="9" fill="#c42a48" stroke="#c42a48" font-style="italic" text-anchor="start" textLength="37" lengthAdjust="spacingAndGlyphs">Gadd45a<tspan font-size="6.48" dy="-3.24" dx="0.6">–/–</tspan></text>
<text x="7.8" y="334" font-size="11.4" text-anchor="start" fill="#111" stroke="#111" font-weight="bold" font-style="normal">E</text>
<line x1="41.9" y1="343" x2="41.9" y2="408.4" stroke="#303030" stroke-width="1.6"/>
<line x1="39" y1="407.6" x2="41.9" y2="407.6" stroke="#303030" stroke-width="1.3"/>
<text x="36.1" y="410.4" font-size="7.8" text-anchor="end" fill="#333" stroke="#333" font-weight="normal" font-style="normal">0</text>
<line x1="39" y1="395.08" x2="41.9" y2="395.08" stroke="#303030" stroke-width="1.3"/>
<text x="36.1" y="397.88" font-size="7.8" text-anchor="end" fill="#333" stroke="#333" font-weight="normal" font-style="normal">1</text>
<line x1="39" y1="382.56" x2="41.9" y2="382.56" stroke="#303030" stroke-width="1.3"/>
<text x="36.1" y="385.36" font-size="7.8" text-anchor="end" fill="#333" stroke="#333" font-weight="normal" font-style="normal">2</text>
<line x1="39" y1="370.04" x2="41.9" y2="370.04" stroke="#303030" stroke-width="1.3"/>
<text x="36.1" y="372.84" font-size="7.8" text-anchor="end" fill="#333" stroke="#333" font-weight="normal" font-style="normal">3</text>
<line x1="39" y1="357.52" x2="41.9" y2="357.52" stroke="#303030" stroke-width="1.3"/>
<text x="36.1" y="360.32" font-size="7.8" text-anchor="end" fill="#333" stroke="#333" font-weight="normal" font-style="normal">4</text>
<line x1="39" y1="345" x2="41.9" y2="345" stroke="#303030" stroke-width="1.3"/>
<text x="36.1" y="347.8" font-size="7.8" text-anchor="end" fill="#333" stroke="#333" font-weight="normal" font-style="normal">5</text>
<text transform="translate(15.3 374.1) rotate(-90)" font-size="9.6" text-anchor="middle" fill="#333" stroke="#333" font-style="normal" font-weight="normal" textLength="58.6" lengthAdjust="spacingAndGlyphs"><tspan font-style="italic">Fth1</tspan> mRNA levels</text>
<text transform="translate(25.8 374.9) rotate(-90)" font-size="9.6" text-anchor="middle" fill="#333" stroke="#333" font-style="normal" font-weight="normal" textLength="62.8" lengthAdjust="spacingAndGlyphs">(relative to <tspan font-style="italic">Gapdh</tspan>)</text>
<line x1="52.95" y1="393.58" x2="52.95" y2="395.08" stroke="#333" stroke-width="1.1"/>
<line x1="50.45" y1="393.58" x2="55.45" y2="393.58" stroke="#333" stroke-width="1.1"/>
<rect x="48" y="395.08" width="9.9" height="12.52" fill="#0f4c8c"/>
<line x1="68.95" y1="402.97" x2="68.95" y2="405.1" stroke="#333" stroke-width="1.1"/>
<line x1="66.45" y1="402.97" x2="71.45" y2="402.97" stroke="#333" stroke-width="1.1"/>
<rect x="64" y="405.1" width="9.9" height="2.5" fill="#8a9cc4"/>
<line x1="84.95" y1="352.51" x2="84.95" y2="360.02" stroke="#333" stroke-width="1.1"/>
<line x1="82.45" y1="352.51" x2="87.45" y2="352.51" stroke="#333" stroke-width="1.1"/>
<rect x="80" y="360.02" width="9.9" height="47.58" fill="#c2031f"/>
<line x1="100.95" y1="406.47" x2="100.95" y2="406.85" stroke="#333" stroke-width="1.1"/>
<line x1="98.45" y1="406.47" x2="103.45" y2="406.47" stroke="#333" stroke-width="1.1"/>
<rect x="96.3" y="406.85" width="9.3" height="0.75" fill="#7a2030"/>
<line x1="41.1" y1="407.6" x2="111.7" y2="407.6" stroke="#303030" stroke-width="1.6"/>
<line x1="52.8" y1="407.6" x2="52.8" y2="410.2" stroke="#303030" stroke-width="1.2"/>
<line x1="69.3" y1="407.6" x2="69.3" y2="410.2" stroke="#303030" stroke-width="1.2"/>
<line x1="84.8" y1="407.6" x2="84.8" y2="410.2" stroke="#303030" stroke-width="1.2"/>
<line x1="100.8" y1="407.6" x2="100.8" y2="410.2" stroke="#303030" stroke-width="1.2"/>
<line x1="52.8" y1="385.9" x2="69.6" y2="385.9" stroke="#333" stroke-width="1.1"/>
<line x1="52.8" y1="384.9" x2="52.8" y2="386.9" stroke="#333" stroke-width="1.1"/>
<line x1="69.6" y1="384.9" x2="69.6" y2="386.9" stroke="#333" stroke-width="1.1"/>
<text x="61.2" y="386" font-size="7.5" text-anchor="middle" fill="#333" stroke="#333" font-weight="bold" font-style="normal">*</text>
<line x1="84.5" y1="344" x2="101.6" y2="344" stroke="#333" stroke-width="1.1"/>
<line x1="84.5" y1="343" x2="84.5" y2="345" stroke="#333" stroke-width="1.1"/>
<line x1="101.6" y1="343" x2="101.6" y2="345" stroke="#333" stroke-width="1.1"/>
<text x="87.75" y="344.2" font-size="7.5" text-anchor="middle" fill="#333" stroke="#333" font-weight="bold" font-style="normal">*</text>
<text x="91.25" y="344.2" font-size="7.5" text-anchor="middle" fill="#333" stroke="#333" font-weight="bold" font-style="normal">*</text>
<text x="94.75" y="344.2" font-size="7.5" text-anchor="middle" fill="#333" stroke="#333" font-weight="bold" font-style="normal">*</text>
<text x="98.25" y="344.2" font-size="7.5" text-anchor="middle" fill="#333" stroke="#333" font-weight="bold" font-style="normal">*</text>
<text x="52.5" y="361.2" font-size="8.2" text-anchor="start" fill="#333" stroke="#333" font-weight="normal" font-style="normal">n</text>
<text x="61.6" y="361.2" font-size="8.2" text-anchor="middle" fill="#333" stroke="#333" font-weight="normal" font-style="normal">=</text>
<text x="70" y="361.2" font-size="8.2" text-anchor="end" fill="#333" stroke="#333" font-weight="normal" font-style="normal">3</text>
<text transform="translate(55 419.8) rotate(-45)" font-size="9.4" text-anchor="end" fill="#333" stroke="#333" font-style="normal" font-weight="normal" textLength="10.8" lengthAdjust="spacingAndGlyphs">Scr</text>
<text transform="translate(75.4 419.8) rotate(-45)" font-size="9.4" text-anchor="end" fill="#333" stroke="#333" font-style="normal" font-weight="normal" textLength="26" lengthAdjust="spacingAndGlyphs">Fth1-sh</text>
<text transform="translate(88.4 419.8) rotate(-45)" font-size="9.4" text-anchor="end" fill="#333" stroke="#333" font-style="normal" font-weight="normal" textLength="10.8" lengthAdjust="spacingAndGlyphs">Scr</text>
<text transform="translate(107 419.8) rotate(-45)" font-size="9.4" text-anchor="end" fill="#333" stroke="#333" font-style="normal" font-weight="normal" textLength="26" lengthAdjust="spacingAndGlyphs">Fth1-sh</text>
<line x1="40.2" y1="441.4" x2="70.4" y2="441.4" stroke="#555" stroke-width="1.2"/>
<line x1="76.7" y1="441.4" x2="106.5" y2="441.4" stroke="#555" stroke-width="1.2"/>
<text x="30.6" y="454.3" font-size="9.2" fill="#3a629a" stroke="#3a629a" font-style="italic" text-anchor="start" textLength="41.4" lengthAdjust="spacingAndGlyphs">Gadd45a<tspan font-size="6.62" dy="-3.31" dx="0.6">+/+</tspan></text>
<text x="74.8" y="454.3" font-size="9.2" fill="#c42a48" stroke="#c42a48" font-style="italic" text-anchor="start" textLength="41.2" lengthAdjust="spacingAndGlyphs">Gadd45a<tspan font-size="6.62" dy="-3.31" dx="0.6">–/–</tspan></text>
<text x="132.4" y="333.1" font-size="11.4" text-anchor="start" fill="#111" stroke="#111" font-weight="bold" font-style="normal">F</text>
<text x="209.2" y="331.6" font-size="10.4" fill="#3a629a" stroke="#3a629a" font-style="italic" text-anchor="start" textLength="51.3" lengthAdjust="spacingAndGlyphs">Gadd45a<tspan font-size="7.49" dy="-3.74" dx="0.6">+/+</tspan></text>
<line x1="177.3" y1="336.5" x2="291.9" y2="336.5" stroke="#555" stroke-width="1.4"/>
<text x="399" y="331.6" font-size="10.4" fill="#c42a48" stroke="#c42a48" font-style="italic" text-anchor="start" textLength="48.2" lengthAdjust="spacingAndGlyphs">Gadd45a<tspan font-size="7.49" dy="-3.74" dx="0.6">–/–</tspan></text>
<line x1="366.9" y1="336.4" x2="479.5" y2="336.4" stroke="#555" stroke-width="1.4"/>
<text x="168.5" y="347.0" font-size="8.2" fill="#333" textLength="36.1" lengthAdjust="spacingAndGlyphs">Iron (Fe<tspan font-size="5.2" dy="-3">2+</tspan><tspan dy="3">)</tspan></text>
<text x="263.5" y="347.0" font-size="8.2" fill="#333" textLength="38.1" lengthAdjust="spacingAndGlyphs">ROS levels</text>
<text x="358" y="347.0" font-size="8.2" fill="#333" textLength="35.8" lengthAdjust="spacingAndGlyphs">Iron (Fe<tspan font-size="5.2" dy="-3">2+</tspan><tspan dy="3">)</tspan></text>
<text x="451.2" y="347.0" font-size="8.2" fill="#333" textLength="37.9" lengthAdjust="spacingAndGlyphs">ROS levels</text>
<svg x="144.4" y="351.2" width="84.4" height="84.6" viewBox="144.4 351.2 84.4 84.6" overflow="hidden">
<line x1="144.4" y1="385.6" x2="228.8" y2="385.6" stroke="#f2b878" stroke-width="1"/>
<path d="M182.4 385.6 L182.4 385.51 L182.9 385.44 L183.4 385.33 L183.9 385.14 L184.4 384.85 L184.9 384.42 L185.4 383.8 L185.9 382.93 L186.4 381.75 L186.9 380.21 L187.4 378.28 L187.9 375.95 L188.4 373.25 L188.9 370.26 L189.4 367.1 L189.9 363.94 L190.4 360.99 L190.9 358.45 L191.4 356.53 L191.9 355.39 L192.4 355.12 L192.9 355.75 L193.4 357.22 L193.9 359.41 L194.4 362.13 L194.9 365.19 L195.4 368.37 L195.9 371.49 L196.4 374.37 L196.9 376.93 L197.4 379.1 L197.9 380.87 L198.4 382.26 L198.9 383.31 L199.4 384.08 L199.9 384.62 L200.4 384.98 L200.9 385.22 L201.4 385.38 L201.9 385.47 L201.9 385.6 Z" fill="#f8b860" fill-opacity="0.78" stroke="#e39a3c" stroke-width="0.7" stroke-linejoin="round"/>
<line x1="144.4" y1="402.3" x2="228.8" y2="402.3" stroke="#86c27a" stroke-width="1"/>
<path d="M197.4 402.3 L197.4 402.21 L197.9 402.13 L198.4 401.97 L198.9 401.69 L199.4 401.23 L199.9 400.51 L200.4 399.43 L200.9 397.89 L201.4 395.81 L201.9 393.16 L202.4 389.97 L202.9 386.37 L203.4 382.59 L203.9 378.96 L204.4 375.83 L204.9 373.55 L205.4 372.4 L205.9 372.53 L206.4 373.92 L206.9 376.39 L207.4 379.65 L207.9 383.35 L208.4 387.11 L208.9 390.64 L209.4 393.73 L209.9 396.27 L210.4 398.24 L210.9 399.68 L211.4 400.68 L211.9 401.34 L212.4 401.76 L212.9 402.01 L213.4 402.15 L213.9 402.22 L213.9 402.3 Z" fill="#86cc76" fill-opacity="0.78" stroke="#4f9e44" stroke-width="0.7" stroke-linejoin="round"/>
<line x1="144.4" y1="419.2" x2="228.8" y2="419.2" stroke="#d24a6c" stroke-width="1"/>
<path d="M193.4 419.2 L193.4 419.07 L193.9 418.93 L194.4 418.69 L194.9 418.29 L195.4 417.65 L195.9 416.72 L196.4 415.46 L196.9 413.85 L197.4 411.93 L197.9 409.78 L198.4 407.48 L198.9 405.1 L199.4 402.69 L199.9 400.23 L200.4 397.7 L200.9 395.15 L201.4 392.69 L201.9 390.55 L202.4 389.05 L202.9 388.49 L203.4 389.1 L203.9 390.92 L204.4 393.82 L204.9 397.49 L205.4 401.52 L205.9 405.5 L206.4 409.11 L206.9 412.14 L207.4 414.51 L207.9 416.24 L208.4 417.42 L208.9 418.19 L209.4 418.65 L209.9 418.92 L210.4 419.06 L210.4 419.2 Z" fill="#d85650" fill-opacity="0.78" stroke="#9a2c2c" stroke-width="0.7" stroke-linejoin="round"/>
<path d="M201.4 435.3 L201.4 435.16 L201.9 435.04 L202.4 434.83 L202.9 434.49 L203.4 433.94 L203.9 433.11 L204.4 431.91 L204.9 430.26 L205.4 428.11 L205.9 425.43 L206.4 422.3 L206.9 418.84 L207.4 415.27 L207.9 411.89 L208.4 409.01 L208.9 406.93 L209.4 405.89 L209.9 406.01 L210.4 407.27 L210.9 409.53 L211.4 412.54 L211.9 415.98 L212.4 419.54 L212.9 422.96 L213.4 426.01 L213.9 428.58 L214.4 430.63 L214.9 432.18 L215.4 433.3 L215.9 434.07 L216.4 434.57 L216.9 434.88 L217.4 435.07 L217.9 435.18 L217.9 435.3 Z" fill="#5676b4" fill-opacity="0.78" stroke="#2e4682" stroke-width="0.7" stroke-linejoin="round"/>
</svg>
<rect x="144.4" y="351.2" width="84.4" height="84.1" fill="none" stroke="#222" stroke-width="1.1"/>
<path d="M149.63 435.3v2.2M164.66 435.3v2.2M177.32 435.3v2.2M203.48 435.3v2.2M221.63 435.3v2.2M185.19 435.3v1.2M189.8 435.3v1.2M193.07 435.3v1.2M195.6 435.3v1.2M197.68 435.3v1.2M199.43 435.3v1.2M200.94 435.3v1.2M202.28 435.3v1.2M208.94 435.3v1.2M212.14 435.3v1.2M214.4 435.3v1.2M216.16 435.3v1.2M217.6 435.3v1.2M218.82 435.3v1.2M219.87 435.3v1.2M220.8 435.3v1.2M168.47 435.3v1.2M170.7 435.3v1.2M172.28 435.3v1.2M173.5 435.3v1.2M174.51 435.3v1.2M175.35 435.3v1.2M176.09 435.3v1.2M176.74 435.3v1.2M154.53 435.3v1.2M156.22 435.3v1.2M157.9 435.3v1.2M159.59 435.3v1.2M161.28 435.3v1.2M162.97 435.3v1.2M164.66 435.3v1.2" stroke="#222" stroke-width="0.7"/>
<rect x="157.33" y="435.5" width="2.2" height="1.6" fill="#111"/>
<text x="149.63" y="448.2" font-size="7.6" fill="#333" text-anchor="middle">−10<tspan font-size="5" dy="-3">3</tspan></text>
<text x="164.66" y="448.2" font-size="7.6" fill="#333" text-anchor="middle">0</text>
<text x="177.32" y="448.2" font-size="7.6" fill="#333" text-anchor="middle">10<tspan font-size="5" dy="-3">3</tspan></text>
<text x="203.48" y="448.2" font-size="7.6" fill="#333" text-anchor="middle">10<tspan font-size="5" dy="-3">4</tspan></text>
<text x="221.63" y="448.2" font-size="7.6" fill="#333" text-anchor="middle">10<tspan font-size="5" dy="-3">5</tspan></text>
<text x="160.7" y="461.4" font-size="8.4" text-anchor="start" fill="#333" stroke="#333" font-weight="normal" font-style="normal" textLength="52" lengthAdjust="spacingAndGlyphs">Comp-R_670-A</text>
<svg x="240.4" y="351.2" width="83.9" height="84.6" viewBox="240.4 351.2 83.9 84.6" overflow="hidden">
<line x1="240.4" y1="385.6" x2="324.3" y2="385.6" stroke="#f2b878" stroke-width="1"/>
<path d="M293.4 385.6 L293.4 385.49 L293.9 385.41 L294.4 385.26 L294.9 385.01 L295.4 384.62 L295.9 384.04 L296.4 383.18 L296.9 381.99 L297.4 380.39 L297.9 378.34 L298.4 375.81 L298.9 372.86 L299.4 369.56 L299.9 366.1 L300.4 362.69 L300.9 359.59 L301.4 357.07 L301.9 355.36 L302.4 354.62 L302.9 354.94 L303.4 356.28 L303.9 358.5 L304.4 361.4 L304.9 364.72 L305.4 368.19 L305.9 371.57 L306.4 374.68 L306.9 377.38 L307.4 379.63 L307.9 381.4 L308.4 382.75 L308.9 383.73 L309.4 384.42 L309.9 384.88 L310.4 385.17 L310.9 385.35 L311.4 385.46 L311.4 385.6 Z" fill="#f8b860" fill-opacity="0.78" stroke="#e39a3c" stroke-width="0.7" stroke-linejoin="round"/>
<line x1="240.4" y1="402.3" x2="324.3" y2="402.3" stroke="#86c27a" stroke-width="1"/>
<path d="M288.9 402.3 L288.9 402.16 L289.4 402.1 L289.9 402.02 L290.4 401.91 L290.9 401.77 L291.4 401.6 L291.9 401.38 L292.4 401.12 L292.9 400.82 L293.4 400.47 L293.9 400.08 L294.4 399.65 L294.9 399.18 L295.4 398.69 L295.9 398.17 L296.4 397.64 L296.9 397.1 L297.4 396.56 L297.9 396 L298.4 395.43 L298.9 394.84 L299.4 394.23 L299.9 393.59 L300.4 392.93 L300.9 392.24 L301.4 391.53 L301.9 390.81 L302.4 390.11 L302.9 389.46 L303.4 388.87 L303.9 388.38 L304.4 388.01 L304.9 387.77 L305.4 387.66 L305.9 387.66 L306.4 387.72 L306.9 387.79 L307.4 387.76 L307.9 387.56 L308.4 387.07 L308.9 386.23 L309.4 385.03 L309.9 383.5 L310.4 381.78 L310.9 380.06 L311.4 378.58 L311.9 377.59 L312.4 377.31 L312.9 377.85 L313.4 379.22 L313.9 381.34 L314.4 384 L314.9 386.96 L315.4 389.96 L315.9 392.78 L316.4 395.25 L316.9 397.3 L317.4 398.9 L317.9 400.08 L318.4 400.91 L318.9 401.47 L319.4 401.82 L319.9 402.03 L320.4 402.16 L320.4 402.3 Z" fill="#86cc76" fill-opacity="0.78" stroke="#4f9e44" stroke-width="0.7" stroke-linejoin="round"/>
<line x1="240.4" y1="419.2" x2="324.3" y2="419.2" stroke="#d24a6c" stroke-width="1"/>
<path d="M293.4 419.2 L293.4 419.11 L293.9 419.05 L294.4 418.94 L294.9 418.79 L295.4 418.56 L295.9 418.25 L296.4 417.83 L296.9 417.3 L297.4 416.65 L297.9 415.88 L298.4 415.03 L298.9 414.12 L299.4 413.2 L299.9 412.31 L300.4 411.5 L300.9 410.78 L301.4 410.18 L301.9 409.67 L302.4 409.24 L302.9 408.86 L303.4 408.48 L303.9 408.09 L304.4 407.68 L304.9 407.23 L305.4 406.8 L305.9 406.39 L306.4 406.07 L306.9 405.85 L307.4 405.74 L307.9 405.74 L308.4 405.78 L308.9 405.76 L309.4 405.54 L309.9 404.98 L310.4 403.95 L310.9 402.43 L311.4 400.5 L311.9 398.41 L312.4 396.51 L312.9 395.23 L313.4 394.91 L313.9 395.76 L314.4 397.74 L314.9 400.63 L315.4 404.02 L315.9 407.51 L316.4 410.71 L316.9 413.39 L317.4 415.45 L317.9 416.92 L318.4 417.89 L318.9 418.49 L319.4 418.83 L319.9 419.02 L320.4 419.11 L320.4 419.2 Z" fill="#d85650" fill-opacity="0.78" stroke="#9a2c2c" stroke-width="0.7" stroke-linejoin="round"/>
<path d="M308.9 435.3 L308.9 435.16 L309.4 435.05 L309.9 434.89 L310.4 434.65 L310.9 434.3 L311.4 433.82 L311.9 433.2 L312.4 432.43 L312.9 431.53 L313.4 430.5 L313.9 429.4 L314.4 428.25 L314.9 427.06 L315.4 425.82 L315.9 424.5 L316.4 423 L316.9 421.25 L317.4 419.2 L317.9 416.87 L318.4 414.4 L318.9 412.03 L319.4 410.06 L319.9 408.84 L320.4 408.63 L320.9 409.54 L321.4 411.53 L321.9 414.39 L322.4 417.78 L322.9 421.33 L323.4 424.71 L323.9 427.67 L323.9 435.3 Z" fill="#5676b4" fill-opacity="0.78" stroke="#2e4682" stroke-width="0.7" stroke-linejoin="round"/>
</svg>
<rect x="240.4" y="351.2" width="83.9" height="84.1" fill="none" stroke="#222" stroke-width="1.1"/>
<path d="M245.6 435.3v2.2M260.54 435.3v2.2M273.12 435.3v2.2M299.13 435.3v2.2M317.17 435.3v2.2M280.95 435.3v1.2M285.53 435.3v1.2M288.78 435.3v1.2M291.3 435.3v1.2M293.36 435.3v1.2M295.1 435.3v1.2M296.61 435.3v1.2M297.94 435.3v1.2M304.56 435.3v1.2M307.74 435.3v1.2M309.99 435.3v1.2M311.74 435.3v1.2M313.17 435.3v1.2M314.37 435.3v1.2M315.42 435.3v1.2M316.34 435.3v1.2M264.32 435.3v1.2M266.54 435.3v1.2M268.11 435.3v1.2M269.33 435.3v1.2M270.33 435.3v1.2M271.17 435.3v1.2M271.9 435.3v1.2M272.55 435.3v1.2M250.47 435.3v1.2M252.15 435.3v1.2M253.82 435.3v1.2M255.5 435.3v1.2M257.18 435.3v1.2M258.86 435.3v1.2M260.54 435.3v1.2" stroke="#222" stroke-width="0.7"/>
<rect x="253.24" y="435.5" width="2.2" height="1.6" fill="#111"/>
<text x="245.6" y="448.2" font-size="7.6" fill="#333" text-anchor="middle">−10<tspan font-size="5" dy="-3">3</tspan></text>
<text x="260.54" y="448.2" font-size="7.6" fill="#333" text-anchor="middle">0</text>
<text x="273.12" y="448.2" font-size="7.6" fill="#333" text-anchor="middle">10<tspan font-size="5" dy="-3">3</tspan></text>
<text x="299.13" y="448.2" font-size="7.6" fill="#333" text-anchor="middle">10<tspan font-size="5" dy="-3">4</tspan></text>
<text x="317.17" y="448.2" font-size="7.6" fill="#333" text-anchor="middle">10<tspan font-size="5" dy="-3">5</tspan></text>
<text x="253.8" y="461.4" font-size="8.4" text-anchor="start" fill="#333" stroke="#333" font-weight="normal" font-style="normal" textLength="56.3" lengthAdjust="spacingAndGlyphs">Comp-YG_610-A</text>
<svg x="333.7" y="351.2" width="85.1" height="84.6" viewBox="333.7 351.2 85.1 84.6" overflow="hidden">
<line x1="333.7" y1="385.6" x2="418.8" y2="385.6" stroke="#f2b878" stroke-width="1"/>
<path d="M367.7 385.6 L367.7 385.52 L368.2 385.45 L368.7 385.32 L369.2 385.12 L369.7 384.8 L370.2 384.3 L370.7 383.56 L371.2 382.51 L371.7 381.09 L372.2 379.22 L372.7 376.88 L373.2 374.09 L373.7 370.91 L374.2 367.49 L374.7 364.03 L375.2 360.78 L375.7 357.99 L376.2 355.93 L376.7 354.79 L377.2 354.68 L377.7 355.62 L378.2 357.52 L378.7 360.17 L379.2 363.36 L379.7 366.8 L380.2 370.24 L380.7 373.48 L381.2 376.35 L381.7 378.79 L382.2 380.75 L382.7 382.26 L383.2 383.38 L383.7 384.17 L384.2 384.71 L384.7 385.07 L385.2 385.29 L385.7 385.43 L386.2 385.51 L386.2 385.6 Z" fill="#f8b860" fill-opacity="0.78" stroke="#e39a3c" stroke-width="0.7" stroke-linejoin="round"/>
<line x1="333.7" y1="402.3" x2="418.8" y2="402.3" stroke="#86c27a" stroke-width="1"/>
<path d="M371.2 402.3 L371.2 402.22 L371.7 402.14 L372.2 402 L372.7 401.77 L373.2 401.38 L373.7 400.77 L374.2 399.86 L374.7 398.56 L375.2 396.78 L375.7 394.48 L376.2 391.66 L376.7 388.39 L377.2 384.83 L377.7 381.22 L378.2 377.86 L378.7 375.07 L379.2 373.15 L379.7 372.32 L380.2 372.68 L380.7 374.18 L381.2 376.65 L381.7 379.83 L382.2 383.38 L382.7 386.99 L383.2 390.4 L383.7 393.41 L384.2 395.92 L384.7 397.91 L385.2 399.39 L385.7 400.45 L386.2 401.17 L386.7 401.63 L387.2 401.92 L387.7 402.1 L388.2 402.19 L388.2 402.3 Z" fill="#86cc76" fill-opacity="0.78" stroke="#4f9e44" stroke-width="0.7" stroke-linejoin="round"/>
<line x1="333.7" y1="419.2" x2="418.8" y2="419.2" stroke="#d24a6c" stroke-width="1"/>
<path d="M373.7 419.2 L373.7 419.1 L374.2 419 L374.7 418.84 L375.2 418.58 L375.7 418.19 L376.2 417.61 L376.7 416.82 L377.2 415.8 L377.7 414.53 L378.2 413.05 L378.7 411.36 L379.2 409.5 L379.7 407.48 L380.2 405.28 L380.7 402.88 L381.2 400.29 L381.7 397.55 L382.2 394.79 L382.7 392.24 L383.2 390.18 L383.7 388.91 L384.2 388.7 L384.7 389.65 L385.2 391.73 L385.7 394.75 L386.2 398.39 L386.7 402.27 L387.2 406.05 L387.7 409.45 L388.2 412.3 L388.7 414.54 L389.2 416.2 L389.7 417.36 L390.2 418.12 L390.7 418.6 L391.2 418.88 L391.7 419.04 L392.2 419.12 L392.2 419.2 Z" fill="#d85650" fill-opacity="0.78" stroke="#9a2c2c" stroke-width="0.7" stroke-linejoin="round"/>
<path d="M381.2 435.3 L381.2 435.2 L381.7 435.11 L382.2 434.92 L382.7 434.6 L383.2 434.05 L383.7 433.19 L384.2 431.9 L384.7 430.07 L385.2 427.64 L385.7 424.58 L386.2 421 L386.7 417.1 L387.2 413.21 L387.7 409.73 L388.2 407.06 L388.7 405.55 L389.2 405.41 L389.7 406.66 L390.2 409.12 L390.7 412.47 L391.2 416.31 L391.7 420.24 L392.2 423.9 L392.7 427.07 L393.2 429.64 L393.7 431.58 L394.2 432.97 L394.7 433.91 L395.2 434.51 L395.7 434.87 L396.2 435.08 L396.7 435.19 L396.7 435.3 Z" fill="#5676b4" fill-opacity="0.78" stroke="#2e4682" stroke-width="0.7" stroke-linejoin="round"/>
</svg>
<rect x="333.7" y="351.2" width="85.1" height="84.1" fill="none" stroke="#222" stroke-width="1.1"/>
<path d="M338.98 435.3v2.2M354.12 435.3v2.2M366.89 435.3v2.2M393.27 435.3v2.2M411.57 435.3v2.2M374.83 435.3v1.2M379.48 435.3v1.2M382.77 435.3v1.2M385.33 435.3v1.2M387.42 435.3v1.2M389.18 435.3v1.2M390.71 435.3v1.2M392.06 435.3v1.2M398.78 435.3v1.2M402 435.3v1.2M404.29 435.3v1.2M406.06 435.3v1.2M407.51 435.3v1.2M408.73 435.3v1.2M409.79 435.3v1.2M410.73 435.3v1.2M357.97 435.3v1.2M360.21 435.3v1.2M361.81 435.3v1.2M363.05 435.3v1.2M364.06 435.3v1.2M364.91 435.3v1.2M365.65 435.3v1.2M366.3 435.3v1.2M343.91 435.3v1.2M345.61 435.3v1.2M347.32 435.3v1.2M349.02 435.3v1.2M350.72 435.3v1.2M352.42 435.3v1.2M354.12 435.3v1.2" stroke="#222" stroke-width="0.7"/>
<rect x="346.74" y="435.5" width="2.2" height="1.6" fill="#111"/>
<text x="338.98" y="448.2" font-size="7.6" fill="#333" text-anchor="middle">−10<tspan font-size="5" dy="-3">3</tspan></text>
<text x="354.12" y="448.2" font-size="7.6" fill="#333" text-anchor="middle">0</text>
<text x="366.89" y="448.2" font-size="7.6" fill="#333" text-anchor="middle">10<tspan font-size="5" dy="-3">3</tspan></text>
<text x="393.27" y="448.2" font-size="7.6" fill="#333" text-anchor="middle">10<tspan font-size="5" dy="-3">4</tspan></text>
<text x="411.57" y="448.2" font-size="7.6" fill="#333" text-anchor="middle">10<tspan font-size="5" dy="-3">5</tspan></text>
<text x="349.5" y="461.4" font-size="8.4" text-anchor="start" fill="#333" stroke="#333" font-weight="normal" font-style="normal" textLength="52" lengthAdjust="spacingAndGlyphs">Comp-R_670-A</text>
<svg x="429.2" y="351.2" width="82.7" height="84.6" viewBox="429.2 351.2 82.7 84.6" overflow="hidden">
<line x1="429.2" y1="385.6" x2="511.9" y2="385.6" stroke="#f2b878" stroke-width="1"/>
<path d="M472.7 385.6 L472.7 385.5 L473.2 385.44 L473.7 385.34 L474.2 385.18 L474.7 384.94 L475.2 384.6 L475.7 384.1 L476.2 383.43 L476.7 382.52 L477.2 381.34 L477.7 379.84 L478.2 378.02 L478.7 375.85 L479.2 373.36 L479.7 370.61 L480.2 367.69 L480.7 364.71 L481.2 361.82 L481.7 359.19 L482.2 356.97 L482.7 355.32 L483.2 354.35 L483.7 354.12 L484.2 354.65 L484.7 355.91 L485.2 357.8 L485.7 360.2 L486.2 362.96 L486.7 365.9 L487.2 368.87 L487.7 371.74 L488.2 374.39 L488.7 376.75 L489.2 378.79 L489.7 380.48 L490.2 381.85 L490.7 382.91 L491.2 383.72 L491.7 384.32 L492.2 384.75 L492.7 385.05 L493.2 385.25 L493.7 385.38 L494.2 385.47 L494.2 385.6 Z" fill="#f8b860" fill-opacity="0.78" stroke="#e39a3c" stroke-width="0.7" stroke-linejoin="round"/>
<line x1="429.2" y1="402.3" x2="511.9" y2="402.3" stroke="#86c27a" stroke-width="1"/>
<path d="M467.2 402.3 L467.2 402.19 L467.7 402.13 L468.2 402.03 L468.7 401.89 L469.2 401.69 L469.7 401.42 L470.2 401.06 L470.7 400.61 L471.2 400.05 L471.7 399.38 L472.2 398.61 L472.7 397.73 L473.2 396.74 L473.7 395.65 L474.2 394.43 L474.7 393.06 L475.2 391.5 L475.7 389.68 L476.2 387.59 L476.7 385.19 L477.2 382.55 L477.7 379.79 L478.2 377.11 L478.7 374.75 L479.2 373.02 L479.7 372.14 L480.2 372.3 L480.7 373.53 L481.2 375.76 L481.7 378.77 L482.2 382.28 L482.7 385.94 L483.2 389.49 L483.7 392.68 L484.2 395.38 L484.7 397.53 L485.2 399.15 L485.7 400.3 L486.2 401.09 L486.7 401.6 L487.2 401.91 L487.7 402.09 L488.2 402.19 L488.2 402.3 Z" fill="#86cc76" fill-opacity="0.78" stroke="#4f9e44" stroke-width="0.7" stroke-linejoin="round"/>
<line x1="429.2" y1="419.2" x2="511.9" y2="419.2" stroke="#d24a6c" stroke-width="1"/>
<path d="M480.7 419.2 L480.7 419.13 L481.2 419.05 L481.7 418.9 L482.2 418.63 L482.7 418.19 L483.2 417.51 L483.7 416.52 L484.2 415.18 L484.7 413.47 L485.2 411.41 L485.7 409.04 L486.2 406.41 L486.7 403.58 L487.2 400.6 L487.7 397.59 L488.2 394.74 L488.7 392.32 L489.2 390.67 L489.7 390.1 L490.2 390.76 L490.7 392.63 L491.2 395.45 L491.7 398.82 L492.2 402.33 L492.7 405.62 L493.2 408.48 L493.7 410.84 L494.2 412.72 L494.7 414.22 L495.2 415.4 L495.7 416.35 L496.2 417.1 L496.7 417.7 L497.2 418.16 L497.7 418.51 L498.2 418.75 L498.7 418.92 L499.2 419.03 L499.7 419.11 L499.7 419.2 Z" fill="#d85650" fill-opacity="0.78" stroke="#9a2c2c" stroke-width="0.7" stroke-linejoin="round"/>
<path d="M478.7 435.3 L478.7 435.15 L479.2 435.09 L479.7 435.02 L480.2 434.91 L480.7 434.76 L481.2 434.55 L481.7 434.28 L482.2 433.91 L482.7 433.44 L483.2 432.87 L483.7 432.18 L484.2 431.41 L484.7 430.59 L485.2 429.76 L485.7 428.96 L486.2 428.22 L486.7 427.55 L487.2 426.94 L487.7 426.36 L488.2 425.81 L488.7 425.25 L489.2 424.69 L489.7 424.14 L490.2 423.61 L490.7 423.13 L491.2 422.74 L491.7 422.46 L492.2 422.31 L492.7 422.3 L493.2 422.43 L493.7 422.7 L494.2 423.07 L494.7 423.51 L495.2 423.96 L495.7 424.32 L496.2 424.47 L496.7 424.29 L497.2 423.63 L497.7 422.42 L498.2 420.68 L498.7 418.53 L499.2 416.28 L499.7 414.29 L500.2 412.98 L500.7 412.67 L501.2 413.52 L501.7 415.47 L502.2 418.24 L502.7 421.45 L503.2 424.7 L503.7 427.64 L504.2 430.07 L504.7 431.93 L505.2 433.23 L505.7 434.09 L506.2 434.62 L506.7 434.93 L507.2 435.1 L507.7 435.19 L507.7 435.3 Z" fill="#5676b4" fill-opacity="0.78" stroke="#2e4682" stroke-width="0.7" stroke-linejoin="round"/>
</svg>
<rect x="429.2" y="351.2" width="82.7" height="84.1" fill="none" stroke="#222" stroke-width="1.1"/>
<path d="M434.33 435.3v2.2M449.05 435.3v2.2M461.45 435.3v2.2M487.09 435.3v2.2M504.87 435.3v2.2M469.17 435.3v1.2M473.68 435.3v1.2M476.89 435.3v1.2M479.37 435.3v1.2M481.4 435.3v1.2M483.12 435.3v1.2M484.61 435.3v1.2M485.92 435.3v1.2M492.44 435.3v1.2M495.57 435.3v1.2M497.79 435.3v1.2M499.52 435.3v1.2M500.93 435.3v1.2M502.12 435.3v1.2M503.15 435.3v1.2M504.06 435.3v1.2M452.78 435.3v1.2M454.97 435.3v1.2M456.52 435.3v1.2M457.72 435.3v1.2M458.7 435.3v1.2M459.53 435.3v1.2M460.25 435.3v1.2M460.89 435.3v1.2M439.12 435.3v1.2M440.78 435.3v1.2M442.43 435.3v1.2M444.09 435.3v1.2M445.74 435.3v1.2M447.39 435.3v1.2M449.05 435.3v1.2" stroke="#222" stroke-width="0.7"/>
<rect x="441.85" y="435.5" width="2.2" height="1.6" fill="#111"/>
<text x="434.33" y="448.2" font-size="7.6" fill="#333" text-anchor="middle">−10<tspan font-size="5" dy="-3">3</tspan></text>
<text x="449.05" y="448.2" font-size="7.6" fill="#333" text-anchor="middle">0</text>
<text x="461.45" y="448.2" font-size="7.6" fill="#333" text-anchor="middle">10<tspan font-size="5" dy="-3">3</tspan></text>
<text x="487.09" y="448.2" font-size="7.6" fill="#333" text-anchor="middle">10<tspan font-size="5" dy="-3">4</tspan></text>
<text x="504.87" y="448.2" font-size="7.6" fill="#333" text-anchor="middle">10<tspan font-size="5" dy="-3">5</tspan></text>
<text x="442.4" y="461.4" font-size="8.4" text-anchor="start" fill="#333" stroke="#333" font-weight="normal" font-style="normal" textLength="55.8" lengthAdjust="spacingAndGlyphs">Comp-YG_610-A</text>
<text x="145.6" y="372.8" font-size="8.4" text-anchor="start" fill="#2a2a2a" stroke="#2a2a2a" font-weight="normal" font-style="normal" textLength="36.8" lengthAdjust="spacingAndGlyphs">Scr DMSO</text>
<text x="145.6" y="396.2" font-size="8.4" text-anchor="start" fill="#2a2a2a" stroke="#2a2a2a" font-weight="normal" font-style="normal" textLength="31" lengthAdjust="spacingAndGlyphs">Scr RSL3</text>
<text x="145.6" y="413" font-size="8.4" text-anchor="start" fill="#2a2a2a" stroke="#2a2a2a" font-weight="normal" font-style="normal" textLength="51.2" lengthAdjust="spacingAndGlyphs">Fth1-sh DMSO</text>
<text x="145.6" y="429.6" font-size="8.4" text-anchor="start" fill="#2a2a2a" stroke="#2a2a2a" font-weight="normal" font-style="normal" textLength="46" lengthAdjust="spacingAndGlyphs">Fth1-sh RSL3</text>
<text x="7" y="488.8" font-size="11.4" text-anchor="start" fill="#111" stroke="#111" font-weight="bold" font-style="normal">G</text>
<text x="48.3" y="486.4" font-size="10" fill="#3a629a" stroke="#3a629a" font-style="italic" text-anchor="start" textLength="50" lengthAdjust="spacingAndGlyphs">Gadd45a<tspan font-size="7.2" dy="-3.6" dx="0.6">+/+</tspan></text>
<text x="59.6" y="498.2" font-size="8.6" text-anchor="start" fill="#333" stroke="#333" font-weight="normal" font-style="normal" textLength="27.9" lengthAdjust="spacing">(n = 3)</text>
<line x1="39.4" y1="509.4" x2="39.4" y2="565" stroke="#303030" stroke-width="1.6"/>
<line x1="36.5" y1="564.2" x2="39.4" y2="564.2" stroke="#303030" stroke-width="1.3"/>
<text x="33.6" y="567" font-size="7.8" text-anchor="end" fill="#333" stroke="#333" font-weight="normal" font-style="normal">0</text>
<line x1="36.5" y1="553.76" x2="39.4" y2="553.76" stroke="#303030" stroke-width="1.3"/>
<text x="33.6" y="556.56" font-size="7.8" text-anchor="end" fill="#333" stroke="#333" font-weight="normal" font-style="normal">20</text>
<line x1="36.5" y1="543.32" x2="39.4" y2="543.32" stroke="#303030" stroke-width="1.3"/>
<text x="33.6" y="546.12" font-size="7.8" text-anchor="end" fill="#333" stroke="#333" font-weight="normal" font-style="normal">40</text>
<line x1="36.5" y1="532.88" x2="39.4" y2="532.88" stroke="#303030" stroke-width="1.3"/>
<text x="33.6" y="535.68" font-size="7.8" text-anchor="end" fill="#333" stroke="#333" font-weight="normal" font-style="normal">60</text>
<line x1="36.5" y1="522.44" x2="39.4" y2="522.44" stroke="#303030" stroke-width="1.3"/>
<text x="33.6" y="525.24" font-size="7.8" text-anchor="end" fill="#333" stroke="#333" font-weight="normal" font-style="normal">80</text>
<line x1="36.5" y1="512" x2="39.4" y2="512" stroke="#303030" stroke-width="1.3"/>
<text x="33.6" y="514.8" font-size="7.8" text-anchor="end" fill="#333" stroke="#333" font-weight="normal" font-style="normal" textLength="11.8" lengthAdjust="spacingAndGlyphs">100</text>
<text transform="translate(16 536.2) rotate(-90)" font-size="10" text-anchor="middle" fill="#333" stroke="#333" font-style="normal" font-weight="normal" textLength="54.3" lengthAdjust="spacingAndGlyphs">Cell viability (%)</text>
<line x1="50.2" y1="513.57" x2="50.2" y2="517.22" stroke="#333" stroke-width="1.1"/>
<line x1="47.7" y1="513.57" x2="52.7" y2="513.57" stroke="#333" stroke-width="1.1"/>
<rect x="45" y="517.22" width="10.4" height="46.98" fill="#124c8a"/>
<line x1="66.2" y1="531.84" x2="66.2" y2="533.92" stroke="#333" stroke-width="1.1"/>
<line x1="63.7" y1="531.84" x2="68.7" y2="531.84" stroke="#333" stroke-width="1.1"/>
<rect x="61" y="533.92" width="10.4" height="30.28" fill="url(#pHStripe)"/>
<line x1="82" y1="525.05" x2="82" y2="525.83" stroke="#333" stroke-width="1.1"/>
<line x1="79.5" y1="525.05" x2="84.5" y2="525.05" stroke="#333" stroke-width="1.1"/>
<rect x="77" y="525.83" width="10" height="38.37" fill="#8c9cc8"/>
<line x1="98" y1="558.98" x2="98" y2="559.5" stroke="#333" stroke-width="1.1"/>
<line x1="95.5" y1="558.98" x2="100.5" y2="558.98" stroke="#333" stroke-width="1.1"/>
<rect x="93" y="559.5" width="10" height="4.7" fill="url(#pCheckLB)"/>
<line x1="38.6" y1="564.2" x2="108" y2="564.2" stroke="#303030" stroke-width="1.6"/>
<line x1="50" y1="564.2" x2="50" y2="566.8" stroke="#303030" stroke-width="1.2"/>
<line x1="66" y1="564.2" x2="66" y2="566.8" stroke="#303030" stroke-width="1.2"/>
<line x1="82" y1="564.2" x2="82" y2="566.8" stroke="#303030" stroke-width="1.2"/>
<line x1="98" y1="564.2" x2="98" y2="566.8" stroke="#303030" stroke-width="1.2"/>
<text x="60.95" y="531" font-size="7.5" text-anchor="middle" fill="#333" stroke="#333" font-weight="bold" font-style="normal">*</text>
<text x="64.45" y="531" font-size="7.5" text-anchor="middle" fill="#333" stroke="#333" font-weight="bold" font-style="normal">*</text>
<text x="67.95" y="531" font-size="7.5" text-anchor="middle" fill="#333" stroke="#333" font-weight="bold" font-style="normal">*</text>
<text x="71.45" y="531" font-size="7.5" text-anchor="middle" fill="#333" stroke="#333" font-weight="bold" font-style="normal">*</text>
<text x="80.45" y="524" font-size="7.5" text-anchor="middle" fill="#333" stroke="#333" font-weight="bold" font-style="normal">*</text>
<text x="83.95" y="524" font-size="7.5" text-anchor="middle" fill="#333" stroke="#333" font-weight="bold" font-style="normal">*</text>
<text x="92.95" y="558" font-size="7.5" text-anchor="middle" fill="#333" stroke="#333" font-weight="bold" font-style="normal">*</text>
<text x="96.45" y="558" font-size="7.5" text-anchor="middle" fill="#333" stroke="#333" font-weight="bold" font-style="normal">*</text>
<text x="99.95" y="558" font-size="7.5" text-anchor="middle" fill="#333" stroke="#333" font-weight="bold" font-style="normal">*</text>
<text x="103.45" y="558" font-size="7.5" text-anchor="middle" fill="#333" stroke="#333" font-weight="bold" font-style="normal">*</text>
<text transform="translate(54.6 575.9) rotate(-45)" font-size="9.4" text-anchor="end" fill="#333" stroke="#333" font-style="normal" font-weight="normal" textLength="23.2" lengthAdjust="spacingAndGlyphs">DMSO</text>
<text transform="translate(70.6 575.9) rotate(-45)" font-size="9.4" text-anchor="end" fill="#333" stroke="#333" font-style="normal" font-weight="normal" textLength="36" lengthAdjust="spacingAndGlyphs">3μM RSL3</text>
<text transform="translate(86 575.9) rotate(-45)" font-size="9.4" text-anchor="end" fill="#333" stroke="#333" font-style="normal" font-weight="normal" textLength="23.2" lengthAdjust="spacingAndGlyphs">DMSO</text>
<text transform="translate(102 575.9) rotate(-45)" font-size="9.4" text-anchor="end" fill="#333" stroke="#333" font-style="normal" font-weight="normal" textLength="36" lengthAdjust="spacingAndGlyphs">3μM RSL3</text>
<line x1="41" y1="604.5" x2="69.4" y2="604.5" stroke="#555" stroke-width="1.2"/>
<line x1="76.4" y1="604.5" x2="104" y2="604.5" stroke="#555" stroke-width="1.2"/>
<text x="56" y="616.2" font-size="8.6" text-anchor="middle" fill="#333" stroke="#333" font-weight="normal" font-style="normal" textLength="12.5" lengthAdjust="spacingAndGlyphs">Scr</text>
<text x="77" y="616.2" font-size="8.6" text-anchor="start" fill="#333" stroke="#333" font-weight="normal" font-style="normal" textLength="26" lengthAdjust="spacingAndGlyphs">Fth1-sh</text>
<text x="141.7" y="486.6" font-size="10" fill="#c42a48" stroke="#c42a48" font-style="italic" text-anchor="start" textLength="49.7" lengthAdjust="spacingAndGlyphs">Gadd45a<tspan font-size="7.2" dy="-3.6" dx="0.6">–/–</tspan></text>
<text x="152.3" y="498.9" font-size="8.6" text-anchor="start" fill="#333" stroke="#333" font-weight="normal" font-style="normal" textLength="27.5" lengthAdjust="spacing">(n = 3)</text>
<line x1="132.8" y1="509" x2="132.8" y2="564" stroke="#303030" stroke-width="1.6"/>
<line x1="129.9" y1="563.2" x2="132.8" y2="563.2" stroke="#303030" stroke-width="1.3"/>
<text x="127" y="566" font-size="7.8" text-anchor="end" fill="#333" stroke="#333" font-weight="normal" font-style="normal">0</text>
<line x1="129.9" y1="553.02" x2="132.8" y2="553.02" stroke="#303030" stroke-width="1.3"/>
<text x="127" y="555.82" font-size="7.8" text-anchor="end" fill="#333" stroke="#333" font-weight="normal" font-style="normal">20</text>
<line x1="129.9" y1="542.84" x2="132.8" y2="542.84" stroke="#303030" stroke-width="1.3"/>
<text x="127" y="545.64" font-size="7.8" text-anchor="end" fill="#333" stroke="#333" font-weight="normal" font-style="normal">40</text>
<line x1="129.9" y1="532.66" x2="132.8" y2="532.66" stroke="#303030" stroke-width="1.3"/>
<text x="127" y="535.46" font-size="7.8" text-anchor="end" fill="#333" stroke="#333" font-weight="normal" font-style="normal">60</text>
<line x1="129.9" y1="522.48" x2="132.8" y2="522.48" stroke="#303030" stroke-width="1.3"/>
<text x="127" y="525.28" font-size="7.8" text-anchor="end" fill="#333" stroke="#333" font-weight="normal" font-style="normal">80</text>
<line x1="129.9" y1="512.3" x2="132.8" y2="512.3" stroke="#303030" stroke-width="1.3"/>
<text x="127" y="515.1" font-size="7.8" text-anchor="end" fill="#333" stroke="#333" font-weight="normal" font-style="normal" textLength="11.8" lengthAdjust="spacingAndGlyphs">100</text>
<line x1="144.45" y1="512.3" x2="144.45" y2="514.84" stroke="#333" stroke-width="1.1"/>
<line x1="141.95" y1="512.3" x2="146.95" y2="512.3" stroke="#333" stroke-width="1.1"/>
<rect x="139.2" y="514.84" width="10.5" height="48.36" fill="#c40d28"/>
<line x1="160.5" y1="512.55" x2="160.5" y2="513.57" stroke="#333" stroke-width="1.1"/>
<line x1="158" y1="512.55" x2="163" y2="512.55" stroke="#333" stroke-width="1.1"/>
<rect x="155" y="513.57" width="11" height="49.63" fill="url(#pCheckRose)"/>
<line x1="176.25" y1="527.06" x2="176.25" y2="527.57" stroke="#333" stroke-width="1.1"/>
<line x1="173.75" y1="527.06" x2="178.75" y2="527.06" stroke="#333" stroke-width="1.1"/>
<rect x="171.3" y="527.57" width="9.9" height="35.63" fill="#e8907c"/>
<line x1="191.9" y1="542.84" x2="191.9" y2="543.35" stroke="#333" stroke-width="1.1"/>
<line x1="189.4" y1="542.84" x2="194.4" y2="542.84" stroke="#333" stroke-width="1.1"/>
<rect x="186.5" y="543.35" width="10.8" height="19.85" fill="url(#pCheckPink)"/>
<line x1="132" y1="563.2" x2="202.6" y2="563.2" stroke="#303030" stroke-width="1.6"/>
<line x1="144.45" y1="563.2" x2="144.45" y2="565.8" stroke="#303030" stroke-width="1.2"/>
<line x1="160.5" y1="563.2" x2="160.5" y2="565.8" stroke="#303030" stroke-width="1.2"/>
<line x1="176.25" y1="563.2" x2="176.25" y2="565.8" stroke="#303030" stroke-width="1.2"/>
<line x1="191.9" y1="563.2" x2="191.9" y2="565.8" stroke="#303030" stroke-width="1.2"/>
<text x="160.4" y="510.6" font-size="8.4" text-anchor="middle" fill="#303030" stroke="#303030" font-weight="normal" font-style="normal" textLength="10.5" lengthAdjust="spacingAndGlyphs">NS</text>
<text x="171.05" y="525.8" font-size="7.5" text-anchor="middle" fill="#333" stroke="#333" font-weight="bold" font-style="normal">*</text>
<text x="174.55" y="525.8" font-size="7.5" text-anchor="middle" fill="#333" stroke="#333" font-weight="bold" font-style="normal">*</text>
<text x="178.05" y="525.8" font-size="7.5" text-anchor="middle" fill="#333" stroke="#333" font-weight="bold" font-style="normal">*</text>
<text x="181.55" y="525.8" font-size="7.5" text-anchor="middle" fill="#333" stroke="#333" font-weight="bold" font-style="normal">*</text>
<text x="186.75" y="541.6" font-size="7.5" text-anchor="middle" fill="#333" stroke="#333" font-weight="bold" font-style="normal">*</text>
<text x="190.25" y="541.6" font-size="7.5" text-anchor="middle" fill="#333" stroke="#333" font-weight="bold" font-style="normal">*</text>
<text x="193.75" y="541.6" font-size="7.5" text-anchor="middle" fill="#333" stroke="#333" font-weight="bold" font-style="normal">*</text>
<text x="197.25" y="541.6" font-size="7.5" text-anchor="middle" fill="#333" stroke="#333" font-weight="bold" font-style="normal">*</text>
<text transform="translate(148.3 575.4) rotate(-45)" font-size="9.4" text-anchor="end" fill="#333" stroke="#333" font-style="normal" font-weight="normal" textLength="23.2" lengthAdjust="spacingAndGlyphs">DMSO</text>
<text transform="translate(164.3 575.4) rotate(-45)" font-size="9.4" text-anchor="end" fill="#333" stroke="#333" font-style="normal" font-weight="normal" textLength="36" lengthAdjust="spacingAndGlyphs">3μM RSL3</text>
<text transform="translate(179.6 575.4) rotate(-45)" font-size="9.4" text-anchor="end" fill="#333" stroke="#333" font-style="normal" font-weight="normal" textLength="23.2" lengthAdjust="spacingAndGlyphs">DMSO</text>
<text transform="translate(197 575.4) rotate(-45)" font-size="9.4" text-anchor="end" fill="#333" stroke="#333" font-style="normal" font-weight="normal" textLength="36" lengthAdjust="spacingAndGlyphs">3μM RSL3</text>
<line x1="136.4" y1="604.7" x2="164.5" y2="604.7" stroke="#555" stroke-width="1.2"/>
<line x1="171.3" y1="604.7" x2="198.8" y2="604.7" stroke="#555" stroke-width="1.2"/>
<text x="150.2" y="616.2" font-size="8.6" text-anchor="middle" fill="#333" stroke="#333" font-weight="normal" font-style="normal" textLength="12.5" lengthAdjust="spacingAndGlyphs">Scr</text>
<text x="172.4" y="616.2" font-size="8.6" text-anchor="start" fill="#333" stroke="#333" font-weight="normal" font-style="normal" textLength="25.3" lengthAdjust="spacingAndGlyphs">Fth1-sh</text>
<text x="218.6" y="489.7" font-size="11.4" text-anchor="start" fill="#111" stroke="#111" font-weight="bold" font-style="normal">H</text>
<text x="242.3" y="508.2" font-size="9" fill="#c42a48" stroke="#c42a48" font-style="italic" text-anchor="start" textLength="41.6" lengthAdjust="spacingAndGlyphs">Gadd45a<tspan font-size="6.48" dy="-3.24" dx="0.6">–/–</tspan></text>
<text x="286.2" y="508.2" font-size="9" fill="#3a629a" stroke="#3a629a" font-style="italic" text-anchor="start" textLength="42.8" lengthAdjust="spacingAndGlyphs">Gadd45a<tspan font-size="6.48" dy="-3.24" dx="0.6">+/+</tspan></text>
<line x1="247" y1="513.4" x2="280.4" y2="513.4" stroke="#444" stroke-width="1.3"/>
<line x1="289.7" y1="513.4" x2="324.3" y2="513.4" stroke="#444" stroke-width="1.3"/>
<text transform="translate(259.4 553) rotate(-90)" font-size="8.6" text-anchor="start" fill="#303030" stroke="#303030" font-style="normal" font-weight="normal" textLength="25.4" lengthAdjust="spacingAndGlyphs">DMSO</text>
<text transform="translate(275.6 553) rotate(-90)" font-size="8.6" text-anchor="start" fill="#303030" stroke="#303030" font-style="normal" font-weight="normal" textLength="36.5" lengthAdjust="spacingAndGlyphs">3μM RSL3</text>
<text transform="translate(299.8 553) rotate(-90)" font-size="8.6" text-anchor="start" fill="#303030" stroke="#303030" font-style="normal" font-weight="normal" textLength="25.4" lengthAdjust="spacingAndGlyphs">DMSO</text>
<text transform="translate(317.6 553) rotate(-90)" font-size="8.6" text-anchor="start" fill="#303030" stroke="#303030" font-style="normal" font-weight="normal" textLength="36.5" lengthAdjust="spacingAndGlyphs">3μM RSL3</text>
<text x="256.2" y="561.9" font-size="8.6" text-anchor="middle" fill="#222" stroke="#222" font-weight="normal" font-style="normal">1</text>
<text x="273" y="561.9" font-size="8.6" text-anchor="middle" fill="#222" stroke="#222" font-weight="normal" font-style="normal">0.99</text>
<text x="297.8" y="561.9" font-size="8.6" text-anchor="middle" fill="#222" stroke="#222" font-weight="normal" font-style="normal">1</text>
<text x="313.4" y="561.9" font-size="8.6" text-anchor="middle" fill="#222" stroke="#222" font-weight="normal" font-style="normal">2.07</text>
<text x="245" y="578.3" font-size="8.4" text-anchor="end" fill="#222" stroke="#222" font-weight="normal" font-style="normal" textLength="26.5" lengthAdjust="spacingAndGlyphs">γ-H2AX</text>
<text x="245" y="594.8" font-size="8.4" text-anchor="end" fill="#222" stroke="#222" font-weight="normal" font-style="normal" textLength="23" lengthAdjust="spacingAndGlyphs">Gapdh</text>
<rect x="248.5" y="566.5" width="33.5" height="15.8" fill="#d2d2d2"/>
<rect x="291.9" y="566.5" width="31.6" height="15.8" fill="#d4d4d4"/>
<rect x="248.5" y="584.6" width="33.5" height="15.6" fill="#d0d0d0"/>
<rect x="291.9" y="584.6" width="31.6" height="15.6" fill="#d2d2d2"/>
<g filter="url(#blur06)">
<ellipse cx="257.2" cy="573.6" rx="6.8" ry="1.9" fill="#3c3c3c"/>
<ellipse cx="273.4" cy="573.9" rx="5.8" ry="1.8" fill="#4a4a4a"/>
<ellipse cx="298.0" cy="574.6" rx="5.0" ry="1.4" fill="#6c6c6c"/>
<path d="M308.0 574.6 Q313 572.4 320.4 571.4 Q321.4 573.6 320.2 575.6 Q314 577.2 308.0 576.8 Z" fill="#141414"/>
<rect x="250.4" y="585.8" width="15.2" height="13.2" rx="2.5" fill="#555"/>
<rect x="250.7" y="588.4" width="14.6" height="9.6" rx="2.5" fill="#0a0a0a"/>
<rect x="267" y="585.8" width="14.4" height="13.2" rx="2.5" fill="#555"/>
<rect x="267.3" y="588.4" width="13.8" height="9.6" rx="2.5" fill="#0a0a0a"/>
<rect x="291.6" y="585.8" width="14.2" height="13.2" rx="2.5" fill="#555"/>
<rect x="291.9" y="588.4" width="13.6" height="9.6" rx="2.5" fill="#0a0a0a"/>
<rect x="308" y="585.8" width="14.4" height="13.2" rx="2.5" fill="#555"/>
<rect x="308.3" y="588.4" width="13.8" height="9.6" rx="2.5" fill="#0a0a0a"/>
</g>
<text x="344.6" y="488.8" font-size="11.4" text-anchor="start" fill="#111" stroke="#111" font-weight="bold" font-style="normal">I</text>
<text x="383.8" y="497.8" font-size="10.4" text-anchor="start" fill="#222" stroke="#222" font-weight="normal" font-style="normal" textLength="54" lengthAdjust="spacingAndGlyphs">Comet assay</text>
<line x1="371.9" y1="509.4" x2="371.9" y2="565" stroke="#303030" stroke-width="1.6"/>
<line x1="369" y1="564.2" x2="371.9" y2="564.2" stroke="#303030" stroke-width="1.3"/>
<text x="366.1" y="567" font-size="7.8" text-anchor="end" fill="#333" stroke="#333" font-weight="normal" font-style="normal">0</text>
<line x1="369" y1="550.98" x2="371.9" y2="550.98" stroke="#303030" stroke-width="1.3"/>
<text x="366.1" y="553.77" font-size="7.8" text-anchor="end" fill="#333" stroke="#333" font-weight="normal" font-style="normal">6</text>
<line x1="369" y1="537.75" x2="371.9" y2="537.75" stroke="#303030" stroke-width="1.3"/>
<text x="366.1" y="540.55" font-size="7.8" text-anchor="end" fill="#333" stroke="#333" font-weight="normal" font-style="normal">12</text>
<line x1="369" y1="524.52" x2="371.9" y2="524.52" stroke="#303030" stroke-width="1.3"/>
<text x="366.1" y="527.32" font-size="7.8" text-anchor="end" fill="#333" stroke="#333" font-weight="normal" font-style="normal">18</text>
<line x1="369" y1="511.3" x2="371.9" y2="511.3" stroke="#303030" stroke-width="1.3"/>
<text x="366.1" y="514.1" font-size="7.8" text-anchor="end" fill="#333" stroke="#333" font-weight="normal" font-style="normal">24</text>
<text transform="translate(352.3 538.4) rotate(-90)" font-size="10" text-anchor="middle" fill="#333" stroke="#333" font-style="normal" font-weight="normal" textLength="41" lengthAdjust="spacingAndGlyphs">Tail moment</text>
<rect x="379" y="554.72" width="11.4" height="9.48" fill="#e39484"/>
<path d="M383.77 560.06h1.2v1.2h-1.2zM384.94 552.29h1.2v1.2h-1.2zM386.91 551.8h1.2v1.2h-1.2zM380.17 547.03h1.2v1.2h-1.2zM388.56 539.55h1.2v1.2h-1.2zM385.21 561.06h1.2v1.2h-1.2zM379.87 553.66h1.2v1.2h-1.2zM381.62 553.42h1.2v1.2h-1.2zM387.39 548.8h1.2v1.2h-1.2zM385.45 553.1h1.2v1.2h-1.2zM381.97 561.27h1.2v1.2h-1.2zM388.86 554.11h1.2v1.2h-1.2zM381.5 550.04h1.2v1.2h-1.2zM379.97 560.54h1.2v1.2h-1.2zM383.01 553.62h1.2v1.2h-1.2zM387.43 559h1.2v1.2h-1.2zM383.81 550.8h1.2v1.2h-1.2zM383.12 554.11h1.2v1.2h-1.2zM381.89 548h1.2v1.2h-1.2zM388.56 546.71h1.2v1.2h-1.2zM380.27 554h1.2v1.2h-1.2zM381.01 541.59h1.2v1.2h-1.2zM386.33 559.04h1.2v1.2h-1.2zM385.48 556.04h1.2v1.2h-1.2zM381.89 550.35h1.2v1.2h-1.2zM387.01 550.74h1.2v1.2h-1.2zM383.09 557.49h1.2v1.2h-1.2zM385.46 544.62h1.2v1.2h-1.2zM381.78 542.32h1.2v1.2h-1.2zM382.46 545.51h1.2v1.2h-1.2zM381.63 543.95h1.2v1.2h-1.2zM382.87 552.31h1.2v1.2h-1.2zM384.82 561.34h1.2v1.2h-1.2zM381.06 550.57h1.2v1.2h-1.2zM381.7 548.11h1.2v1.2h-1.2zM386.4 545.38h1.2v1.2h-1.2zM387.77 551.14h1.2v1.2h-1.2zM383.35 555.3h1.2v1.2h-1.2zM381.59 553.04h1.2v1.2h-1.2zM381.77 553.29h1.2v1.2h-1.2zM380.98 551.2h1.2v1.2h-1.2zM379.96 559.97h1.2v1.2h-1.2zM385.2 553.28h1.2v1.2h-1.2zM388.11 547.97h1.2v1.2h-1.2zM383.58 553.87h1.2v1.2h-1.2zM382.84 548.43h1.2v1.2h-1.2zM387.85 556.44h1.2v1.2h-1.2zM385.61 555.25h1.2v1.2h-1.2zM379.64 556.44h1.2v1.2h-1.2zM386.03 540.34h1.2v1.2h-1.2zM383.93 553.14h1.2v1.2h-1.2zM382.36 554.36h1.2v1.2h-1.2zM386.38 552.2h1.2v1.2h-1.2zM386.38 554.13h1.2v1.2h-1.2zM382.68 556.59h1.2v1.2h-1.2zM387.95 562.37h1.2v1.2h-1.2zM387.59 550.65h1.2v1.2h-1.2zM385.3 557.77h1.2v1.2h-1.2zM380.07 558.86h1.2v1.2h-1.2zM388.84 549.8h1.2v1.2h-1.2z" fill="none" stroke="#a03a3a" stroke-width="0.35" opacity="0.75"/>
<line x1="384.7" y1="548.33" x2="384.7" y2="554.72" stroke="#333" stroke-width="1.1"/>
<line x1="382.2" y1="548.33" x2="387.2" y2="548.33" stroke="#333" stroke-width="1.1"/>
<rect x="396.8" y="555.38" width="10.9" height="8.82" fill="#c4102c"/>
<path d="M400.58 548.31h1.2v1.2h-1.2zM403.91 560.88h1.2v1.2h-1.2zM404.9 559.97h1.2v1.2h-1.2zM397.65 557.68h1.2v1.2h-1.2zM402.62 554.78h1.2v1.2h-1.2zM401.47 556.14h1.2v1.2h-1.2zM401.62 553.73h1.2v1.2h-1.2zM402.75 546.32h1.2v1.2h-1.2zM396.96 551.07h1.2v1.2h-1.2zM399.74 556.81h1.2v1.2h-1.2zM398.48 556.4h1.2v1.2h-1.2zM405.54 558.12h1.2v1.2h-1.2zM405.41 557.97h1.2v1.2h-1.2zM399.99 559.81h1.2v1.2h-1.2zM400.99 556.63h1.2v1.2h-1.2zM404.59 557.95h1.2v1.2h-1.2zM400.54 545.04h1.2v1.2h-1.2zM402.45 560.61h1.2v1.2h-1.2zM401.62 555.99h1.2v1.2h-1.2zM404.89 552.06h1.2v1.2h-1.2zM405.97 549.74h1.2v1.2h-1.2zM399.51 561.85h1.2v1.2h-1.2zM399.49 551.85h1.2v1.2h-1.2zM398.91 549.51h1.2v1.2h-1.2zM401.59 561.41h1.2v1.2h-1.2z" fill="none" stroke="#c03040" stroke-width="0.35" opacity="0.75"/>
<line x1="402.25" y1="548.99" x2="402.25" y2="555.38" stroke="#333" stroke-width="1.1"/>
<line x1="399.75" y1="548.99" x2="404.75" y2="548.99" stroke="#333" stroke-width="1.1"/>
<rect x="414.1" y="558.91" width="11.3" height="5.29" fill="#7582a6"/>
<path d="M417.38 556.08h1.2v1.2h-1.2zM418.69 553.66h1.2v1.2h-1.2zM415.07 561.48h1.2v1.2h-1.2zM414.75 552.17h1.2v1.2h-1.2zM421.15 557.08h1.2v1.2h-1.2zM421.95 560.71h1.2v1.2h-1.2zM414.53 559.45h1.2v1.2h-1.2zM414.59 556.08h1.2v1.2h-1.2zM422.31 555.75h1.2v1.2h-1.2zM414.8 558.18h1.2v1.2h-1.2zM420.39 556.61h1.2v1.2h-1.2zM420.64 562.42h1.2v1.2h-1.2zM422.1 556.87h1.2v1.2h-1.2zM416.26 553.78h1.2v1.2h-1.2zM418.91 559.52h1.2v1.2h-1.2zM418.88 558.11h1.2v1.2h-1.2zM421.21 557.9h1.2v1.2h-1.2zM417.67 557.25h1.2v1.2h-1.2zM421.04 556.09h1.2v1.2h-1.2zM421.61 562.54h1.2v1.2h-1.2zM418.13 558.86h1.2v1.2h-1.2zM415.19 556.56h1.2v1.2h-1.2zM423.3 562.41h1.2v1.2h-1.2zM418.7 558.59h1.2v1.2h-1.2zM420.36 559.91h1.2v1.2h-1.2zM419.81 555.78h1.2v1.2h-1.2zM422.79 559.92h1.2v1.2h-1.2zM418.8 556.16h1.2v1.2h-1.2zM420.6 561.79h1.2v1.2h-1.2zM422.21 556.93h1.2v1.2h-1.2zM420.51 553.57h1.2v1.2h-1.2zM422.99 558.74h1.2v1.2h-1.2zM423.76 560.4h1.2v1.2h-1.2zM421.94 554.52h1.2v1.2h-1.2zM417.43 558.85h1.2v1.2h-1.2zM417.7 553.18h1.2v1.2h-1.2zM415.14 561.56h1.2v1.2h-1.2zM421.73 561.95h1.2v1.2h-1.2zM419.03 556.89h1.2v1.2h-1.2zM414.96 552.78h1.2v1.2h-1.2zM422.03 557.31h1.2v1.2h-1.2zM421.91 557.01h1.2v1.2h-1.2zM415.7 555.84h1.2v1.2h-1.2zM421.3 556.1h1.2v1.2h-1.2zM422.41 555.32h1.2v1.2h-1.2zM419.08 561.08h1.2v1.2h-1.2zM423.46 561.97h1.2v1.2h-1.2zM419.41 556.44h1.2v1.2h-1.2zM417.14 557.19h1.2v1.2h-1.2zM419.37 558.89h1.2v1.2h-1.2zM422.45 562.68h1.2v1.2h-1.2zM418.01 560.79h1.2v1.2h-1.2zM422.46 559.29h1.2v1.2h-1.2zM422.52 556.6h1.2v1.2h-1.2zM423.65 559.54h1.2v1.2h-1.2zM416.28 562.29h1.2v1.2h-1.2zM419.49 558.92h1.2v1.2h-1.2zM414.62 562.52h1.2v1.2h-1.2zM423.66 558.39h1.2v1.2h-1.2zM422.04 561.42h1.2v1.2h-1.2z" fill="none" stroke="#3a4a78" stroke-width="0.35" opacity="0.75"/>
<line x1="419.75" y1="556.71" x2="419.75" y2="558.91" stroke="#333" stroke-width="1.1"/>
<line x1="417.25" y1="556.71" x2="422.25" y2="556.71" stroke="#333" stroke-width="1.1"/>
<rect x="432.3" y="547.23" width="10" height="16.97" fill="#124c8a"/>
<path d="M436.61 547.52h1.2v1.2h-1.2zM435.87 547.81h1.2v1.2h-1.2zM440.76 549.66h1.2v1.2h-1.2zM439.73 530.09h1.2v1.2h-1.2zM436.47 536.72h1.2v1.2h-1.2zM440.78 548.98h1.2v1.2h-1.2zM432.12 520.95h1.2v1.2h-1.2zM434.99 544.45h1.2v1.2h-1.2zM437.85 540.68h1.2v1.2h-1.2zM434.31 528.06h1.2v1.2h-1.2zM436.09 527.53h1.2v1.2h-1.2zM433.43 553.1h1.2v1.2h-1.2zM437.96 540.22h1.2v1.2h-1.2zM437.77 553.61h1.2v1.2h-1.2zM434.13 554.9h1.2v1.2h-1.2zM434.93 547.56h1.2v1.2h-1.2zM440.76 562.68h1.2v1.2h-1.2zM433.19 540.35h1.2v1.2h-1.2zM438.88 515.69h1.2v1.2h-1.2zM435.95 546.87h1.2v1.2h-1.2zM433.11 542.65h1.2v1.2h-1.2zM438.45 536.24h1.2v1.2h-1.2zM441.2 538.94h1.2v1.2h-1.2zM436.73 538.8h1.2v1.2h-1.2zM433.71 539.69h1.2v1.2h-1.2zM436.84 526.97h1.2v1.2h-1.2zM433.31 544.84h1.2v1.2h-1.2zM441.41 544.25h1.2v1.2h-1.2zM432.81 541.17h1.2v1.2h-1.2zM439.24 526.56h1.2v1.2h-1.2zM436.38 538.4h1.2v1.2h-1.2zM432.03 555.93h1.2v1.2h-1.2zM440 547.52h1.2v1.2h-1.2zM435.79 542.57h1.2v1.2h-1.2zM436.82 537.19h1.2v1.2h-1.2z" fill="none" stroke="#4a6aa0" stroke-width="0.35" opacity="0.75"/>
<line x1="437.3" y1="536.87" x2="437.3" y2="547.23" stroke="#1a3a6a" stroke-width="1.1"/>
<line x1="434.8" y1="536.87" x2="439.8" y2="536.87" stroke="#1a3a6a" stroke-width="1.1"/>
<line x1="371.1" y1="564.2" x2="448.7" y2="564.2" stroke="#303030" stroke-width="1.6"/>
<line x1="384.7" y1="564.2" x2="384.7" y2="566.8" stroke="#303030" stroke-width="1.2"/>
<line x1="402" y1="564.2" x2="402" y2="566.8" stroke="#303030" stroke-width="1.2"/>
<line x1="419.8" y1="564.2" x2="419.8" y2="566.8" stroke="#303030" stroke-width="1.2"/>
<line x1="437.5" y1="564.2" x2="437.5" y2="566.8" stroke="#303030" stroke-width="1.2"/>
<line x1="419.7" y1="509" x2="437.5" y2="509" stroke="#333" stroke-width="1.1"/>
<line x1="419.7" y1="508" x2="419.7" y2="510" stroke="#333" stroke-width="1.1"/>
<line x1="437.5" y1="508" x2="437.5" y2="510" stroke="#333" stroke-width="1.1"/>
<text x="423.35" y="509" font-size="7.5" text-anchor="middle" fill="#333" stroke="#333" font-weight="bold" font-style="normal">*</text>
<text x="426.85" y="509" font-size="7.5" text-anchor="middle" fill="#333" stroke="#333" font-weight="bold" font-style="normal">*</text>
<text x="430.35" y="509" font-size="7.5" text-anchor="middle" fill="#333" stroke="#333" font-weight="bold" font-style="normal">*</text>
<text x="433.85" y="509" font-size="7.5" text-anchor="middle" fill="#333" stroke="#333" font-weight="bold" font-style="normal">*</text>
<line x1="383.8" y1="516.8" x2="420.2" y2="516.8" stroke="#333" stroke-width="1.1"/>
<line x1="383.8" y1="515.8" x2="383.8" y2="517.8" stroke="#333" stroke-width="1.1"/>
<line x1="420.2" y1="515.8" x2="420.2" y2="517.8" stroke="#333" stroke-width="1.1"/>
<text x="398.5" y="516.6" font-size="7.5" text-anchor="middle" fill="#333" stroke="#333" font-weight="bold" font-style="normal">*</text>
<text x="402" y="516.6" font-size="7.5" text-anchor="middle" fill="#333" stroke="#333" font-weight="bold" font-style="normal">*</text>
<text x="405.5" y="516.6" font-size="7.5" text-anchor="middle" fill="#333" stroke="#333" font-weight="bold" font-style="normal">*</text>
<line x1="383.8" y1="530.3" x2="402.5" y2="530.3" stroke="#333" stroke-width="1.1"/>
<line x1="383.8" y1="529.3" x2="383.8" y2="531.3" stroke="#333" stroke-width="1.1"/>
<line x1="402.5" y1="529.3" x2="402.5" y2="531.3" stroke="#333" stroke-width="1.1"/>
<text x="387.8" y="527.4" font-size="8.6" text-anchor="start" fill="#303030" stroke="#303030" font-weight="normal" font-style="normal" textLength="10.7" lengthAdjust="spacingAndGlyphs">NS</text>
<text transform="translate(389.3 575) rotate(-45)" font-size="9.4" text-anchor="end" fill="#333" stroke="#333" font-style="normal" font-weight="normal" textLength="23.2" lengthAdjust="spacingAndGlyphs">DMSO</text>
<text transform="translate(406.9 575) rotate(-45)" font-size="9.4" text-anchor="end" fill="#333" stroke="#333" font-style="normal" font-weight="normal" textLength="36" lengthAdjust="spacingAndGlyphs">3μM RSL3</text>
<text transform="translate(424.3 575) rotate(-45)" font-size="9.4" text-anchor="end" fill="#333" stroke="#333" font-style="normal" font-weight="normal" textLength="23.2" lengthAdjust="spacingAndGlyphs">DMSO</text>
<text transform="translate(441.5 575) rotate(-45)" font-size="9.4" text-anchor="end" fill="#333" stroke="#333" font-style="normal" font-weight="normal" textLength="36" lengthAdjust="spacingAndGlyphs">3μM RSL3</text>
<line x1="373.3" y1="604.8" x2="405.4" y2="604.8" stroke="#555" stroke-width="1.2"/>
<line x1="410.3" y1="604.8" x2="442" y2="604.8" stroke="#555" stroke-width="1.2"/>
<text x="363.7" y="615.5" font-size="9.2" fill="#c42a48" stroke="#c42a48" font-style="italic" text-anchor="start" textLength="41.7" lengthAdjust="spacingAndGlyphs">Gadd45a<tspan font-size="6.62" dy="-3.31" dx="0.6">–/–</tspan></text>
<text x="409.2" y="615.5" font-size="9.2" fill="#3a629a" stroke="#3a629a" font-style="italic" text-anchor="start" textLength="40.2" lengthAdjust="spacingAndGlyphs">Gadd45a<tspan font-size="6.62" dy="-3.31" dx="0.6">+/+</tspan></text>
<text x="460.1" y="498.6" font-size="9" fill="#3a629a" stroke="#3a629a" font-style="italic" text-anchor="start" textLength="41.6" lengthAdjust="spacingAndGlyphs">Gadd45a<tspan font-size="6.48" dy="-3.24" dx="0.6">+/+</tspan></text>
<line x1="460.1" y1="503.9" x2="501.3" y2="503.9" stroke="#666" stroke-width="1.3"/>
<text x="469.3" y="516" font-size="8" text-anchor="start" fill="#303030" stroke="#303030" font-weight="normal" font-style="normal" textLength="23.9" lengthAdjust="spacingAndGlyphs">DMSO</text>
<text x="461.3" y="566.6" font-size="8" text-anchor="start" fill="#303030" stroke="#303030" font-weight="normal" font-style="normal" textLength="38.1" lengthAdjust="spacingAndGlyphs">3 μM RSL3</text>
<rect x="462" y="521" width="38.8" height="32.8" fill="#071509"/>
<rect x="462.2" y="571.5" width="38.9" height="33.1" fill="#050f07"/>
<g clip-path="url(#cimg)"><g filter="url(#blur1)" fill="#3aa83a">
<ellipse cx="469.6" cy="527" rx="2.08" ry="1.44" transform="rotate(0 469.6 527)" opacity="0.52"/>
<ellipse cx="497.8" cy="532.2" rx="3.04" ry="2.4" transform="rotate(0 497.8 532.2)" opacity="0.63"/>
<ellipse cx="464.8" cy="541.6" rx="3.84" ry="3.84" transform="rotate(0 464.8 541.6)" opacity="0.7"/>
<ellipse cx="484.3" cy="543" rx="3.2" ry="2.88" transform="rotate(-30 484.3 543)" opacity="0.66"/>
<ellipse cx="491.9" cy="575.2" rx="4.16" ry="2.24" transform="rotate(35 491.9 575.2)" opacity="0.66"/>
<ellipse cx="480.8" cy="576.4" rx="1.44" ry="1.12" transform="rotate(0 480.8 576.4)" opacity="0.42"/>
<ellipse cx="466.2" cy="599" rx="4.48" ry="2.4" transform="rotate(35 466.2 599)" opacity="0.66"/>
<ellipse cx="476.4" cy="601" rx="2.72" ry="3.36" transform="rotate(-20 476.4 601)" opacity="0.63"/>
<ellipse cx="496.4" cy="600.6" rx="3.52" ry="3.68" transform="rotate(0 496.4 600.6)" opacity="0.66"/>
</g>
<g filter="url(#blur06)" fill="#5ee05e">
<ellipse cx="469.6" cy="527" rx="1.1" ry="0.77" transform="rotate(0 469.6 527)" opacity="0.75"/>
<ellipse cx="497.8" cy="532.2" rx="1.61" ry="1.27" transform="rotate(0 497.8 532.2)" opacity="0.9"/>
<ellipse cx="464.8" cy="541.6" rx="2.04" ry="2.04" transform="rotate(0 464.8 541.6)" opacity="1"/>
<ellipse cx="484.3" cy="543" rx="1.7" ry="1.53" transform="rotate(-30 484.3 543)" opacity="0.95"/>
<ellipse cx="491.9" cy="575.2" rx="2.21" ry="1.19" transform="rotate(35 491.9 575.2)" opacity="0.95"/>
<ellipse cx="480.8" cy="576.4" rx="0.77" ry="0.59" transform="rotate(0 480.8 576.4)" opacity="0.6"/>
<ellipse cx="466.2" cy="599" rx="2.38" ry="1.27" transform="rotate(35 466.2 599)" opacity="0.95"/>
<ellipse cx="476.4" cy="601" rx="1.44" ry="1.78" transform="rotate(-20 476.4 601)" opacity="0.9"/>
<ellipse cx="496.4" cy="600.6" rx="1.87" ry="1.95" transform="rotate(0 496.4 600.6)" opacity="0.95"/>
</g></g>
<rect x="0.5" y="0.5" width="519" height="624" fill="none" stroke="#555" stroke-width="1"/>
</svg></body></html>
